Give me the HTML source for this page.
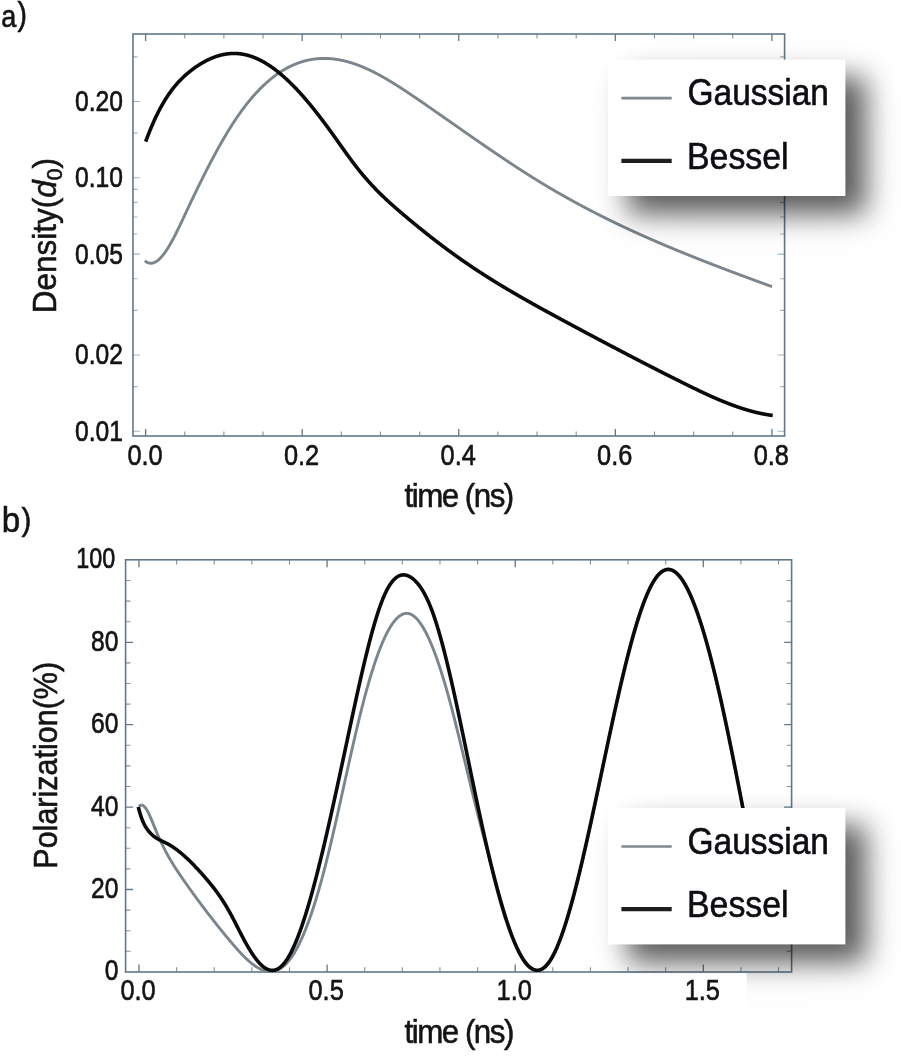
<!DOCTYPE html>
<html><head><meta charset="utf-8"><title>Density and Polarization</title>
<style>html,body{margin:0;padding:0;background:#fff;}body{width:901px;height:1056px;overflow:hidden;}svg{display:block;}</style>
</head><body>
<svg width="901" height="1056" viewBox="0 0 901 1056" font-family="'Liberation Sans', Arial, sans-serif">
<defs><filter id="sh" x="-60%" y="-80%" width="220%" height="260%"><feGaussianBlur stdDeviation="14"/></filter><filter id="sh2" x="-60%" y="-80%" width="220%" height="260%"><feGaussianBlur stdDeviation="28"/></filter><clipPath id="ca"><rect x="133.0" y="34.0" width="651.6" height="402.0"/></clipPath><clipPath id="cb"><rect x="125.6" y="559.8" width="666.0" height="414.0"/></clipPath></defs>
<rect width="901" height="1056" fill="#fff"/>
<path d="M145.60,436.00v-7.00M145.60,34.00v7.00M302.18,436.00v-7.00M302.18,34.00v7.00M458.76,436.00v-7.00M458.76,34.00v7.00M615.34,436.00v-7.00M615.34,34.00v7.00M771.92,436.00v-7.00M771.92,34.00v7.00M139.00,972.00v-7.50M139.00,559.80v7.50M327.10,972.00v-7.50M327.10,559.80v7.50M515.20,972.00v-7.50M515.20,559.80v7.50M703.30,972.00v-7.50M703.30,559.80v7.50M125.60,889.50h7.50M791.60,889.50h-7.50M125.60,807.10h7.50M791.60,807.10h-7.50M125.60,724.70h7.50M791.60,724.70h-7.50M125.60,642.30h7.50M791.60,642.30h-7.50" stroke="#62788a" stroke-width="1.3" fill="none"/>
<path d="M133.00,431.30h7.00M784.60,431.30h-7.00M133.00,354.99h7.00M784.60,354.99h-7.00M133.00,254.11h7.00M784.60,254.11h-7.00M133.00,177.80h7.00M784.60,177.80h-7.00M133.00,101.49h7.00M784.60,101.49h-7.00M133.00,386.66h4.50M784.60,386.66h-4.50M133.00,310.35h4.50M784.60,310.35h-4.50M133.00,278.68h4.50M784.60,278.68h-4.50M133.00,234.04h4.50M784.60,234.04h-4.50M133.00,217.07h4.50M784.60,217.07h-4.50M133.00,202.37h4.50M784.60,202.37h-4.50M133.00,189.40h4.50M784.60,189.40h-4.50M133.00,133.16h4.50M784.60,133.16h-4.50M133.00,56.85h4.50M784.60,56.85h-4.50" stroke="#9db4c6" stroke-width="1.1" fill="none"/>
<path d="M184.75,436.00v-4.50M184.75,34.00v4.50M223.89,436.00v-4.50M223.89,34.00v4.50M263.04,436.00v-4.50M263.04,34.00v4.50M341.32,436.00v-4.50M341.32,34.00v4.50M380.47,436.00v-4.50M380.47,34.00v4.50M419.62,436.00v-4.50M419.62,34.00v4.50M497.90,436.00v-4.50M497.90,34.00v4.50M537.05,436.00v-4.50M537.05,34.00v4.50M576.20,436.00v-4.50M576.20,34.00v4.50M654.49,436.00v-4.50M654.49,34.00v4.50M693.63,436.00v-4.50M693.63,34.00v4.50M732.77,436.00v-4.50M732.77,34.00v4.50M176.62,972.00v-4.80M176.62,559.80v4.80M214.24,972.00v-4.80M214.24,559.80v4.80M251.86,972.00v-4.80M251.86,559.80v4.80M289.48,972.00v-4.80M289.48,559.80v4.80M364.72,972.00v-4.80M364.72,559.80v4.80M402.34,972.00v-4.80M402.34,559.80v4.80M439.96,972.00v-4.80M439.96,559.80v4.80M477.58,972.00v-4.80M477.58,559.80v4.80M552.82,972.00v-4.80M552.82,559.80v4.80M590.44,972.00v-4.80M590.44,559.80v4.80M628.06,972.00v-4.80M628.06,559.80v4.80M665.68,972.00v-4.80M665.68,559.80v4.80M740.92,972.00v-4.80M740.92,559.80v4.80M778.54,972.00v-4.80M778.54,559.80v4.80M125.60,951.30h4.80M791.60,951.30h-4.80M125.60,930.70h4.80M791.60,930.70h-4.80M125.60,910.10h4.80M791.60,910.10h-4.80M125.60,868.90h4.80M791.60,868.90h-4.80M125.60,848.30h4.80M791.60,848.30h-4.80M125.60,827.70h4.80M791.60,827.70h-4.80M125.60,786.50h4.80M791.60,786.50h-4.80M125.60,765.90h4.80M791.60,765.90h-4.80M125.60,745.30h4.80M791.60,745.30h-4.80M125.60,704.10h4.80M791.60,704.10h-4.80M125.60,683.50h4.80M791.60,683.50h-4.80M125.60,662.90h4.80M791.60,662.90h-4.80M125.60,621.70h4.80M791.60,621.70h-4.80M125.60,601.10h4.80M791.60,601.10h-4.80M125.60,580.50h4.80M791.60,580.50h-4.80" stroke="#62788a" stroke-width="1.1" fill="none" opacity="0.8"/>
<rect x="133.00" y="34.00" width="651.60" height="402.00" fill="none" stroke="#62788a" stroke-width="1.6"/>
<rect x="125.60" y="559.80" width="666.00" height="412.20" fill="none" stroke="#62788a" stroke-width="1.6"/>
<g clip-path="url(#ca)" fill="none" stroke-linejoin="round">
<path d="M144.80,260.81L145.05,261.01L145.30,261.20L145.55,261.39L145.80,261.56L146.05,261.72L146.30,261.88L146.55,262.03L146.80,262.16L147.05,262.29L147.30,262.42L147.55,262.53L147.80,262.63L148.05,262.73L148.30,262.81L148.55,262.89L148.80,262.96L149.05,263.02L149.30,263.07L149.55,263.12L149.80,263.16L150.05,263.19L150.30,263.21L150.55,263.22L150.80,263.22L151.05,263.22L151.30,263.21L151.55,263.19L151.80,263.17L152.05,263.13L152.30,263.09L152.55,263.04L152.80,262.99L153.05,262.92L153.30,262.85L153.55,262.78L153.80,262.69L154.05,262.60L154.30,262.50L154.55,262.39L154.80,262.28L155.05,262.16L155.30,262.03L155.55,261.90L155.80,261.76L156.05,261.61L156.30,261.46L156.55,261.30L156.80,261.13L157.05,260.96L157.30,260.78L157.55,260.59L157.80,260.40L158.05,260.20L158.30,259.99L158.55,259.78L158.80,259.57L159.05,259.34L159.30,259.11L159.55,258.88L159.80,258.64L160.05,258.39L160.30,258.14L160.55,257.88L160.80,257.62L161.05,257.35L161.30,257.08L161.55,256.80L161.80,256.51L162.05,256.22L162.30,255.92L162.55,255.62L162.80,255.32L163.05,255.01L163.30,254.69L163.55,254.37L163.80,254.04L164.05,253.71L164.30,253.38L164.55,253.03L164.80,252.69L165.05,252.34L165.30,251.99L165.55,251.63L165.80,251.26L166.05,250.90L166.30,250.52L166.55,250.15L166.80,249.77L167.05,249.38L167.30,248.99L167.55,248.60L167.80,248.20L168.05,247.80L168.30,247.40L168.55,246.99L168.80,246.58L169.05,246.16L169.30,245.74L169.55,245.32L169.80,244.89L170.05,244.46L170.30,244.03L170.55,243.59L170.80,243.15L171.05,242.71L171.30,242.26L171.55,241.81L171.80,241.36L172.05,240.90L172.30,240.44L172.55,239.98L172.80,239.52L173.05,239.05L173.30,238.58L173.55,238.11L173.80,237.63L174.05,237.15L174.30,236.67L174.55,236.19L174.80,235.70L175.05,235.22L175.30,234.73L175.55,234.23L175.80,233.74L176.05,233.24L176.30,232.74L176.55,232.24L176.80,231.74L177.05,231.24L177.30,230.73L177.55,230.22L177.80,229.71L178.05,229.20L178.30,228.69L178.55,228.17L178.80,227.66L179.05,227.14L179.30,226.62L179.55,226.10L179.80,225.58L180.05,225.06L180.30,224.53L180.55,224.01L180.80,223.48L181.05,222.96L181.30,222.43L181.55,221.90L181.80,221.37L182.05,220.84L182.30,220.31L182.55,219.78L182.80,219.25L183.05,218.72L183.30,218.18L183.55,217.65L183.80,217.12L184.05,216.58L184.30,216.05L184.55,215.52L184.80,214.98L185.05,214.45L185.30,213.91L185.55,213.38L185.80,212.85L186.05,212.31L186.30,211.78L186.55,211.25L186.80,210.71L187.05,210.18L187.30,209.65L187.55,209.12L187.80,208.59L188.05,208.05L188.30,207.52L188.55,206.99L188.80,206.46L189.05,205.93L189.30,205.41L189.55,204.88L189.80,204.35L190.05,203.82L190.30,203.29L190.55,202.77L190.80,202.24L191.05,201.71L191.30,201.19L191.55,200.66L191.80,200.14L192.05,199.62L192.30,199.09L192.55,198.57L192.80,198.05L193.05,197.52L193.30,197.00L193.55,196.48L193.80,195.96L194.05,195.44L194.30,194.92L194.55,194.40L194.80,193.88L195.05,193.36L195.30,192.85L195.55,192.33L195.80,191.81L196.05,191.30L196.30,190.78L196.55,190.27L196.80,189.75L197.05,189.24L197.30,188.72L197.55,188.21L197.80,187.70L198.05,187.19L198.30,186.68L198.55,186.17L198.80,185.66L199.05,185.15L199.30,184.64L199.55,184.13L199.80,183.62L200.05,183.11L200.30,182.61L200.55,182.10L200.80,181.60L201.05,181.09L201.30,180.59L201.55,180.09L201.80,179.58L202.05,179.08L202.30,178.58L202.55,178.08L202.80,177.58L203.05,177.08L203.30,176.58L203.55,176.08L203.80,175.59L204.05,175.09L204.30,174.59L204.55,174.10L204.80,173.60L205.05,173.11L205.30,172.62L205.55,172.12L205.80,171.63L206.05,171.14L206.30,170.65L206.55,170.16L206.80,169.67L207.05,169.18L207.30,168.70L207.55,168.21L207.80,167.72L208.05,167.24L208.30,166.75L208.55,166.27L208.80,165.79L209.05,165.31L209.30,164.82L209.55,164.34L209.80,163.86L210.05,163.39L210.30,162.91L210.55,162.43L210.80,161.95L211.05,161.48L211.30,161.00L211.55,160.53L211.80,160.05L212.05,159.58L212.30,159.11L212.55,158.64L212.80,158.17L213.05,157.70L213.30,157.23L213.55,156.76L213.80,156.30L214.05,155.83L214.30,155.37L214.55,154.90L214.80,154.44L215.05,153.98L215.30,153.52L215.55,153.06L215.80,152.60L216.05,152.14L216.30,151.68L216.55,151.22L216.80,150.77L217.05,150.31L217.30,149.86L217.55,149.40L217.80,148.95L218.05,148.50L218.30,148.05L218.55,147.60L218.80,147.15L219.05,146.70L219.30,146.26L219.55,145.81L219.80,145.37L220.05,144.92L220.30,144.48L220.55,144.04L220.80,143.60L221.05,143.16L221.30,142.72L221.55,142.28L221.80,141.84L222.05,141.41L222.30,140.97L222.55,140.54L222.80,140.11L223.05,139.67L223.30,139.24L223.55,138.81L223.80,138.39L224.05,137.96L224.30,137.53L224.55,137.11L224.80,136.68L225.05,136.26L225.30,135.83L225.55,135.41L225.80,134.99L226.05,134.57L226.30,134.16L226.55,133.74L226.80,133.32L227.05,132.91L227.30,132.49L227.55,132.08L227.80,131.67L228.05,131.26L228.30,130.85L228.55,130.44L228.80,130.03L229.05,129.63L229.30,129.22L229.55,128.82L229.80,128.42L230.05,128.02L230.30,127.62L230.55,127.22L230.80,126.82L231.05,126.42L231.30,126.03L231.55,125.63L231.80,125.24L232.05,124.85L232.30,124.46L232.55,124.07L232.80,123.68L233.05,123.29L233.30,122.91L233.55,122.52L233.80,122.14L234.05,121.75L234.30,121.37L234.55,120.99L234.80,120.61L235.05,120.24L235.30,119.86L235.55,119.49L235.80,119.11L236.05,118.74L236.30,118.37L236.55,118.00L236.80,117.63L237.05,117.26L237.30,116.90L237.55,116.53L237.80,116.17L238.05,115.81L238.30,115.44L238.55,115.09L238.80,114.73L239.05,114.37L239.30,114.01L239.55,113.66L239.80,113.31L240.05,112.95L240.30,112.60L240.55,112.25L240.80,111.91L241.05,111.56L241.30,111.21L241.55,110.87L241.80,110.53L242.05,110.19L242.30,109.85L242.55,109.51L242.80,109.17L243.05,108.83L243.30,108.50L243.55,108.16L243.80,107.83L244.05,107.50L244.30,107.17L244.55,106.84L244.80,106.51L245.05,106.19L245.30,105.86L245.55,105.54L245.80,105.21L246.05,104.89L246.30,104.57L246.55,104.25L246.80,103.94L247.05,103.62L247.30,103.30L247.55,102.99L247.80,102.68L248.05,102.37L248.30,102.06L248.55,101.75L248.80,101.44L249.05,101.13L249.30,100.83L249.55,100.52L249.80,100.22L250.05,99.92L250.30,99.62L250.55,99.32L250.80,99.02L251.05,98.73L251.30,98.43L251.55,98.14L251.80,97.84L252.05,97.55L252.30,97.26L252.55,96.97L252.80,96.68L253.05,96.40L253.30,96.11L253.55,95.83L253.80,95.54L254.05,95.26L254.30,94.98L254.55,94.70L254.80,94.42L255.05,94.14L255.30,93.87L255.55,93.59L255.80,93.32L256.05,93.05L256.30,92.78L256.55,92.51L256.80,92.24L257.05,91.97L257.30,91.70L257.55,91.44L257.80,91.17L258.05,90.91L258.30,90.65L258.55,90.39L258.80,90.13L259.05,89.87L259.30,89.61L259.55,89.36L259.80,89.10L260.05,88.85L260.30,88.60L260.55,88.35L260.80,88.10L261.05,87.85L261.30,87.60L261.55,87.35L261.80,87.11L262.05,86.86L262.30,86.62L262.55,86.38L262.80,86.14L263.05,85.90L263.30,85.66L263.55,85.42L263.80,85.19L264.05,84.95L264.30,84.72L264.55,84.49L264.80,84.25L265.05,84.02L265.30,83.79L265.55,83.57L265.80,83.34L266.05,83.11L266.30,82.89L266.55,82.67L266.80,82.44L267.05,82.22L267.30,82.00L267.55,81.78L267.80,81.57L268.05,81.35L268.30,81.13L268.55,80.92L268.80,80.71L269.05,80.49L269.30,80.28L269.55,80.07L269.80,79.86L270.05,79.66L270.30,79.45L270.55,79.24L270.80,79.04L271.05,78.84L271.30,78.63L271.55,78.43L271.80,78.23L272.05,78.03L272.30,77.84L272.55,77.64L272.80,77.44L273.05,77.25L273.30,77.05L273.55,76.86L273.80,76.67L274.05,76.48L274.30,76.29L274.55,76.10L274.80,75.92L275.05,75.73L275.30,75.55L275.55,75.36L275.80,75.18L276.05,75.00L276.30,74.82L276.55,74.64L276.80,74.46L277.05,74.28L277.30,74.11L277.55,73.93L277.80,73.76L278.05,73.59L278.30,73.41L278.55,73.24L278.80,73.07L279.05,72.91L279.30,72.74L279.55,72.57L279.80,72.41L280.05,72.24L280.30,72.08L280.55,71.92L280.80,71.75L281.05,71.59L281.30,71.44L281.55,71.28L281.80,71.12L282.05,70.96L282.30,70.81L282.55,70.66L282.80,70.50L283.05,70.35L283.30,70.20L283.55,70.05L283.80,69.90L284.05,69.75L284.30,69.61L284.55,69.46L284.80,69.32L285.05,69.17L285.30,69.03L285.55,68.89L285.80,68.75L286.05,68.61L286.30,68.47L286.55,68.33L286.80,68.20L287.05,68.06L287.30,67.93L287.55,67.79L287.80,67.66L288.05,67.53L288.30,67.40L288.55,67.27L288.80,67.14L289.05,67.02L289.30,66.89L289.55,66.76L289.80,66.64L290.05,66.52L290.30,66.39L290.55,66.27L290.80,66.15L291.05,66.03L291.30,65.91L291.55,65.80L291.80,65.68L292.05,65.57L292.30,65.45L292.55,65.34L292.80,65.23L293.05,65.11L293.30,65.00L293.55,64.89L293.80,64.79L294.05,64.68L294.30,64.57L294.55,64.47L294.80,64.36L295.05,64.26L295.30,64.16L295.55,64.05L295.80,63.95L296.05,63.85L296.30,63.75L296.55,63.66L296.80,63.56L297.05,63.46L297.30,63.37L297.55,63.27L297.80,63.18L298.05,63.09L298.30,63.00L298.55,62.91L298.80,62.82L299.05,62.73L299.30,62.64L299.55,62.56L299.80,62.47L300.05,62.39L300.30,62.30L300.55,62.22L300.80,62.14L301.05,62.06L301.30,61.98L301.55,61.90L301.80,61.82L302.05,61.74L302.30,61.67L302.55,61.59L302.80,61.52L303.05,61.44L303.30,61.37L303.55,61.30L303.80,61.23L304.05,61.16L304.30,61.09L304.55,61.02L304.80,60.96L305.05,60.89L305.30,60.83L305.55,60.76L305.80,60.70L306.05,60.64L306.30,60.57L306.55,60.51L306.80,60.45L307.05,60.40L307.30,60.34L307.55,60.28L307.80,60.22L308.05,60.17L308.30,60.11L308.55,60.06L308.80,60.01L309.05,59.96L309.30,59.91L309.55,59.86L309.80,59.81L310.05,59.76L310.30,59.71L310.55,59.67L310.80,59.62L311.05,59.58L311.30,59.53L311.55,59.49L311.80,59.45L312.05,59.41L312.30,59.37L312.55,59.33L312.80,59.29L313.05,59.25L313.30,59.21L313.55,59.18L313.80,59.14L314.05,59.11L314.30,59.08L314.55,59.04L314.80,59.01L315.05,58.98L315.30,58.95L315.55,58.92L315.80,58.89L316.05,58.87L316.30,58.84L316.55,58.81L316.80,58.79L317.05,58.77L317.30,58.74L317.55,58.72L317.80,58.70L318.05,58.68L318.30,58.66L318.55,58.64L318.80,58.62L319.05,58.60L319.30,58.59L319.55,58.57L319.80,58.56L320.05,58.54L320.30,58.53L320.55,58.52L320.80,58.51L321.05,58.50L321.30,58.49L321.55,58.48L321.80,58.47L322.05,58.46L322.30,58.45L322.55,58.45L322.80,58.44L323.05,58.44L323.30,58.44L323.55,58.43L323.80,58.43L324.05,58.43L324.30,58.43L324.55,58.43L324.80,58.43L325.05,58.43L325.30,58.44L325.55,58.44L325.80,58.45L326.05,58.45L326.30,58.46L326.55,58.46L326.80,58.47L327.05,58.48L327.30,58.49L327.55,58.50L327.80,58.51L328.05,58.52L328.30,58.53L328.55,58.55L328.80,58.56L329.05,58.58L329.30,58.59L329.55,58.61L329.80,58.63L330.05,58.64L330.30,58.66L330.55,58.68L330.80,58.70L331.05,58.72L331.30,58.74L331.55,58.77L331.80,58.79L332.05,58.81L332.30,58.84L332.55,58.86L332.80,58.89L333.05,58.92L333.30,58.94L333.55,58.97L333.80,59.00L334.05,59.03L334.30,59.06L334.55,59.09L334.80,59.13L335.05,59.16L335.30,59.19L335.55,59.23L335.80,59.26L336.05,59.30L336.30,59.33L336.55,59.37L336.80,59.41L337.05,59.45L337.30,59.49L337.55,59.53L337.80,59.57L338.05,59.61L338.30,59.65L338.55,59.69L338.80,59.74L339.05,59.78L339.30,59.83L339.55,59.87L339.80,59.92L340.05,59.97L340.30,60.02L340.55,60.06L340.80,60.11L341.05,60.16L341.30,60.21L341.55,60.27L341.80,60.32L342.05,60.37L342.30,60.42L342.55,60.48L342.80,60.53L343.05,60.59L343.30,60.65L343.55,60.70L343.80,60.76L344.05,60.82L344.30,60.88L344.55,60.94L344.80,61.00L345.05,61.06L345.30,61.12L345.55,61.18L345.80,61.25L346.05,61.31L346.30,61.38L346.55,61.44L346.80,61.51L347.05,61.57L347.30,61.64L347.55,61.71L347.80,61.78L348.05,61.85L348.30,61.92L348.55,61.99L348.80,62.06L349.05,62.13L349.30,62.20L349.55,62.28L349.80,62.35L350.05,62.42L350.30,62.50L350.55,62.57L350.80,62.65L351.05,62.73L351.30,62.81L351.55,62.88L351.80,62.96L352.05,63.04L352.30,63.12L352.55,63.20L352.80,63.28L353.05,63.37L353.30,63.45L353.55,63.53L353.80,63.62L354.05,63.70L354.30,63.79L354.55,63.87L354.80,63.96L355.05,64.04L355.30,64.13L355.55,64.22L355.80,64.31L356.05,64.40L356.30,64.49L356.55,64.58L356.80,64.67L357.05,64.76L357.30,64.85L357.55,64.95L357.80,65.04L358.05,65.13L358.30,65.23L358.55,65.32L358.80,65.42L359.05,65.51L359.30,65.61L359.55,65.71L359.80,65.81L360.05,65.91L360.30,66.00L360.55,66.10L360.80,66.20L361.05,66.30L361.30,66.41L361.55,66.51L361.80,66.61L362.05,66.71L362.30,66.82L362.55,66.92L362.80,67.03L363.05,67.13L363.30,67.24L363.55,67.34L363.80,67.45L364.05,67.56L364.30,67.66L364.55,67.77L364.80,67.88L365.05,67.99L365.30,68.10L365.55,68.21L365.80,68.32L366.05,68.43L366.30,68.54L366.55,68.66L366.80,68.77L367.05,68.88L367.30,69.00L367.55,69.11L367.80,69.23L368.05,69.34L368.30,69.46L368.55,69.57L368.80,69.69L369.05,69.81L369.30,69.92L369.55,70.04L369.80,70.16L370.05,70.28L370.30,70.40L370.55,70.52L370.80,70.64L371.05,70.76L371.30,70.88L371.55,71.01L371.80,71.13L372.05,71.25L372.30,71.37L372.55,71.50L372.80,71.62L373.05,71.75L373.30,71.87L373.55,72.00L373.80,72.12L374.05,72.25L374.30,72.38L374.55,72.50L374.80,72.63L375.05,72.76L375.30,72.89L375.55,73.02L375.80,73.15L376.05,73.28L376.30,73.41L376.55,73.54L376.80,73.67L377.05,73.80L377.30,73.93L377.55,74.07L377.80,74.20L378.05,74.33L378.30,74.47L378.55,74.60L378.80,74.73L379.05,74.87L379.30,75.01L379.55,75.14L379.80,75.28L380.05,75.41L380.30,75.55L380.55,75.69L380.80,75.82L381.05,75.96L381.30,76.10L381.55,76.24L381.80,76.38L382.05,76.52L382.30,76.66L382.55,76.80L382.80,76.94L383.05,77.08L383.30,77.22L383.55,77.36L383.80,77.51L384.05,77.65L384.30,77.79L384.55,77.93L384.80,78.08L385.05,78.22L385.30,78.37L385.55,78.51L385.80,78.66L386.05,78.80L386.30,78.95L386.55,79.09L386.80,79.24L387.05,79.38L387.30,79.53L387.55,79.68L387.80,79.83L388.05,79.97L388.30,80.12L388.55,80.27L388.80,80.42L389.05,80.57L389.30,80.72L389.55,80.87L389.80,81.02L390.05,81.17L390.30,81.32L390.55,81.47L390.80,81.62L391.05,81.77L391.30,81.92L391.55,82.08L391.80,82.23L392.05,82.38L392.30,82.54L392.55,82.69L392.80,82.84L393.05,83.00L393.30,83.15L393.55,83.30L393.80,83.46L394.05,83.61L394.30,83.77L394.55,83.93L394.80,84.08L395.05,84.24L395.30,84.39L395.55,84.55L395.80,84.71L396.05,84.86L396.30,85.02L396.55,85.18L396.80,85.34L397.05,85.49L397.30,85.65L397.55,85.81L397.80,85.97L398.05,86.13L398.30,86.29L398.55,86.45L398.80,86.61L399.05,86.77L399.30,86.93L399.55,87.09L399.80,87.25L400.05,87.41L400.30,87.57L400.55,87.73L400.80,87.89L401.05,88.06L401.30,88.22L401.55,88.38L401.80,88.54L402.05,88.71L402.30,88.87L402.55,89.03L402.80,89.19L403.05,89.36L403.30,89.52L403.55,89.69L403.80,89.85L404.05,90.01L404.30,90.18L404.55,90.34L404.80,90.51L405.05,90.67L405.30,90.84L405.55,91.00L405.80,91.17L406.05,91.33L406.30,91.50L406.55,91.67L406.80,91.83L407.05,92.00L407.30,92.16L407.55,92.33L407.80,92.50L408.05,92.66L408.30,92.83L408.55,93.00L408.80,93.17L409.05,93.33L409.30,93.50L409.55,93.67L409.80,93.84L410.05,94.00L410.30,94.17L410.55,94.34L410.80,94.51L411.05,94.68L411.30,94.85L411.55,95.02L411.80,95.18L412.05,95.35L412.30,95.52L412.55,95.69L412.80,95.86L413.05,96.03L413.30,96.20L413.55,96.37L413.80,96.54L414.05,96.71L414.30,96.88L414.55,97.05L414.80,97.22L415.05,97.39L415.30,97.56L415.55,97.73L415.80,97.90L416.05,98.07L416.30,98.24L416.55,98.41L416.80,98.59L417.05,98.76L417.30,98.93L417.55,99.10L417.80,99.27L418.05,99.44L418.30,99.61L418.55,99.78L418.80,99.96L419.05,100.13L419.30,100.30L419.55,100.47L419.80,100.64L420.05,100.81L420.30,100.99L420.55,101.16L420.80,101.33L421.05,101.50L421.30,101.67L421.55,101.85L421.80,102.02L422.05,102.19L422.30,102.36L422.55,102.53L422.80,102.71L423.05,102.88L423.30,103.05L423.55,103.22L423.80,103.40L424.05,103.57L424.30,103.74L424.55,103.91L424.80,104.09L425.05,104.26L425.30,104.43L425.55,104.60L425.80,104.78L426.05,104.95L426.30,105.12L426.55,105.30L426.80,105.47L427.05,105.64L427.30,105.82L427.55,105.99L427.80,106.16L428.05,106.33L428.30,106.51L428.55,106.68L428.80,106.85L429.05,107.03L429.30,107.20L429.55,107.37L429.80,107.55L430.05,107.72L430.30,107.89L430.55,108.07L430.80,108.24L431.05,108.41L431.30,108.59L431.55,108.76L431.80,108.94L432.05,109.11L432.30,109.28L432.55,109.46L432.80,109.63L433.05,109.80L433.30,109.98L433.55,110.15L433.80,110.33L434.05,110.50L434.30,110.67L434.55,110.85L434.80,111.02L435.05,111.20L435.30,111.37L435.55,111.54L435.80,111.72L436.05,111.89L436.30,112.07L436.55,112.24L436.80,112.41L437.05,112.59L437.30,112.76L437.55,112.94L437.80,113.11L438.05,113.28L438.30,113.46L438.55,113.63L438.80,113.81L439.05,113.98L439.30,114.16L439.55,114.33L439.80,114.51L440.05,114.68L440.30,114.85L440.55,115.03L440.80,115.20L441.05,115.38L441.30,115.55L441.55,115.73L441.80,115.90L442.05,116.08L442.30,116.25L442.55,116.42L442.80,116.60L443.05,116.77L443.30,116.95L443.55,117.12L443.80,117.30L444.05,117.47L444.30,117.65L444.55,117.82L444.80,118.00L445.05,118.17L445.30,118.35L445.55,118.52L445.80,118.70L446.05,118.87L446.30,119.05L446.55,119.22L446.80,119.39L447.05,119.57L447.30,119.74L447.55,119.92L447.80,120.09L448.05,120.27L448.30,120.44L448.55,120.62L448.80,120.79L449.05,120.97L449.30,121.14L449.55,121.32L449.80,121.49L450.05,121.67L450.30,121.84L450.55,122.02L450.80,122.19L451.05,122.37L451.30,122.54L451.55,122.72L451.80,122.89L452.05,123.07L452.30,123.24L452.55,123.42L452.80,123.59L453.05,123.77L453.30,123.94L453.55,124.12L453.80,124.29L454.05,124.47L454.30,124.64L454.55,124.82L454.80,124.99L455.05,125.17L455.30,125.34L455.55,125.52L455.80,125.69L456.05,125.87L456.30,126.04L456.55,126.21L456.80,126.39L457.05,126.56L457.30,126.74L457.55,126.91L457.80,127.09L458.05,127.26L458.30,127.44L458.55,127.61L458.80,127.79L459.05,127.96L459.30,128.14L459.55,128.31L459.80,128.49L460.05,128.66L460.30,128.84L460.55,129.01L460.80,129.19L461.05,129.36L461.30,129.54L461.55,129.71L461.80,129.88L462.05,130.06L462.30,130.23L462.55,130.41L462.80,130.58L463.05,130.76L463.30,130.93L463.55,131.11L463.80,131.28L464.05,131.46L464.30,131.63L464.55,131.81L464.80,131.98L465.05,132.15L465.30,132.33L465.55,132.50L465.80,132.68L466.05,132.85L466.30,133.03L466.55,133.20L466.80,133.37L467.05,133.55L467.30,133.72L467.55,133.90L467.80,134.07L468.05,134.25L468.30,134.42L468.55,134.59L468.80,134.77L469.05,134.94L469.30,135.12L469.55,135.29L469.80,135.46L470.05,135.64L470.30,135.81L470.55,135.99L470.80,136.16L471.05,136.33L471.30,136.51L471.55,136.68L471.80,136.86L472.05,137.03L472.30,137.20L472.55,137.38L472.80,137.55L473.05,137.73L473.30,137.90L473.55,138.07L473.80,138.25L474.05,138.42L474.30,138.59L474.55,138.77L474.80,138.94L475.05,139.11L475.30,139.29L475.55,139.46L475.80,139.63L476.05,139.81L476.30,139.98L476.55,140.15L476.80,140.33L477.05,140.50L477.30,140.67L477.55,140.85L477.80,141.02L478.05,141.19L478.30,141.37L478.55,141.54L478.80,141.71L479.05,141.88L479.30,142.06L479.55,142.23L479.80,142.40L480.05,142.58L480.30,142.75L480.55,142.92L480.80,143.09L481.05,143.27L481.30,143.44L481.55,143.61L481.80,143.78L482.05,143.96L482.30,144.13L482.55,144.30L482.80,144.47L483.05,144.65L483.30,144.82L483.55,144.99L483.80,145.16L484.05,145.33L484.30,145.51L484.55,145.68L484.80,145.85L485.05,146.02L485.30,146.19L485.55,146.36L485.80,146.54L486.05,146.71L486.30,146.88L486.55,147.05L486.80,147.22L487.05,147.39L487.30,147.57L487.55,147.74L487.80,147.91L488.05,148.08L488.30,148.25L488.55,148.42L488.80,148.59L489.05,148.76L489.30,148.94L489.55,149.11L489.80,149.28L490.05,149.45L490.30,149.62L490.55,149.79L490.80,149.96L491.05,150.13L491.30,150.30L491.55,150.47L491.80,150.64L492.05,150.81L492.30,150.98L492.55,151.15L492.80,151.32L493.05,151.49L493.30,151.66L493.55,151.83L493.80,152.00L494.05,152.17L494.30,152.34L494.55,152.51L494.80,152.68L495.05,152.85L495.30,153.02L495.55,153.19L495.80,153.36L496.05,153.53L496.30,153.70L496.55,153.87L496.80,154.04L497.05,154.21L497.30,154.38L497.55,154.55L497.80,154.72L498.05,154.89L498.30,155.05L498.55,155.22L498.80,155.39L499.05,155.56L499.30,155.73L499.55,155.90L499.80,156.07L500.05,156.23L500.30,156.40L500.55,156.57L500.80,156.74L501.05,156.91L501.30,157.08L501.55,157.24L501.80,157.41L502.05,157.58L502.30,157.75L502.55,157.92L502.80,158.08L503.05,158.25L503.30,158.42L503.55,158.59L503.80,158.75L504.05,158.92L504.30,159.09L504.55,159.25L504.80,159.42L505.05,159.59L505.30,159.76L505.55,159.92L505.80,160.09L506.05,160.26L506.30,160.42L506.55,160.59L506.80,160.75L507.05,160.92L507.30,161.09L507.55,161.25L507.80,161.42L508.05,161.59L508.30,161.75L508.55,161.92L508.80,162.08L509.05,162.25L509.30,162.41L509.55,162.58L509.80,162.75L510.05,162.91L510.30,163.08L510.55,163.24L510.80,163.41L511.05,163.57L511.30,163.74L511.55,163.90L511.80,164.07L512.05,164.23L512.30,164.40L512.55,164.56L512.80,164.72L513.05,164.89L513.30,165.05L513.55,165.22L513.80,165.38L514.05,165.55L514.30,165.71L514.55,165.87L514.80,166.04L515.05,166.20L515.30,166.36L515.55,166.53L515.80,166.69L516.05,166.85L516.30,167.02L516.55,167.18L516.80,167.34L517.05,167.51L517.30,167.67L517.55,167.83L517.80,167.99L518.05,168.16L518.30,168.32L518.55,168.48L518.80,168.64L519.05,168.81L519.30,168.97L519.55,169.13L519.80,169.29L520.05,169.45L520.30,169.62L520.55,169.78L520.80,169.94L521.05,170.10L521.30,170.26L521.55,170.42L521.80,170.58L522.05,170.75L522.30,170.91L522.55,171.07L522.80,171.23L523.05,171.39L523.30,171.55L523.55,171.71L523.80,171.87L524.05,172.03L524.30,172.19L524.55,172.35L524.80,172.51L525.05,172.67L525.30,172.83L525.55,172.99L525.80,173.15L526.05,173.31L526.30,173.47L526.55,173.63L526.80,173.78L527.05,173.94L527.30,174.10L527.55,174.26L527.80,174.42L528.05,174.58L528.30,174.74L528.55,174.89L528.80,175.05L529.05,175.21L529.30,175.37L529.55,175.53L529.80,175.68L530.05,175.84L530.30,176.00L530.55,176.16L530.80,176.31L531.05,176.47L531.30,176.63L531.55,176.78L531.80,176.94L532.05,177.10L532.30,177.25L532.55,177.41L532.80,177.57L533.05,177.72L533.30,177.88L533.55,178.04L533.80,178.19L534.05,178.35L534.30,178.50L534.55,178.66L534.80,178.81L535.05,178.97L535.30,179.12L535.55,179.28L535.80,179.43L536.05,179.59L536.30,179.74L536.55,179.90L536.80,180.05L537.05,180.21L537.30,180.36L537.55,180.52L537.80,180.67L538.05,180.82L538.30,180.98L538.55,181.13L538.80,181.28L539.05,181.44L539.30,181.59L539.55,181.74L539.80,181.90L540.05,182.05L540.30,182.20L540.55,182.35L540.80,182.51L541.05,182.66L541.30,182.81L541.55,182.96L541.80,183.11L542.05,183.27L542.30,183.42L542.55,183.57L542.80,183.72L543.05,183.87L543.30,184.02L543.55,184.17L543.80,184.33L544.05,184.48L544.30,184.63L544.55,184.78L544.80,184.93L545.05,185.08L545.30,185.23L545.55,185.38L545.80,185.53L546.05,185.68L546.30,185.83L546.55,185.98L546.80,186.13L547.05,186.28L547.30,186.43L547.55,186.57L547.80,186.72L548.05,186.87L548.30,187.02L548.55,187.17L548.80,187.32L549.05,187.47L549.30,187.62L549.55,187.76L549.80,187.91L550.05,188.06L550.30,188.21L550.55,188.35L550.80,188.50L551.05,188.65L551.30,188.80L551.55,188.94L551.80,189.09L552.05,189.24L552.30,189.38L552.55,189.53L552.80,189.68L553.05,189.82L553.30,189.97L553.55,190.12L553.80,190.26L554.05,190.41L554.30,190.55L554.55,190.70L554.80,190.85L555.05,190.99L555.30,191.14L555.55,191.28L555.80,191.43L556.05,191.57L556.30,191.72L556.55,191.86L556.80,192.01L557.05,192.15L557.30,192.29L557.55,192.44L557.80,192.58L558.05,192.73L558.30,192.87L558.55,193.02L558.80,193.16L559.05,193.30L559.30,193.45L559.55,193.59L559.80,193.73L560.05,193.88L560.30,194.02L560.55,194.16L560.80,194.30L561.05,194.45L561.30,194.59L561.55,194.73L561.80,194.87L562.05,195.02L562.30,195.16L562.55,195.30L562.80,195.44L563.05,195.58L563.30,195.73L563.55,195.87L563.80,196.01L564.05,196.15L564.30,196.29L564.55,196.43L564.80,196.57L565.05,196.71L565.30,196.85L565.55,196.99L565.80,197.14L566.05,197.28L566.30,197.42L566.55,197.56L566.80,197.70L567.05,197.84L567.30,197.98L567.55,198.12L567.80,198.26L568.05,198.39L568.30,198.53L568.55,198.67L568.80,198.81L569.05,198.95L569.30,199.09L569.55,199.23L569.80,199.37L570.05,199.51L570.30,199.64L570.55,199.78L570.80,199.92L571.05,200.06L571.30,200.20L571.55,200.34L571.80,200.47L572.05,200.61L572.30,200.75L572.55,200.89L572.80,201.02L573.05,201.16L573.30,201.30L573.55,201.43L573.80,201.57L574.05,201.71L574.30,201.85L574.55,201.98L574.80,202.12L575.05,202.25L575.30,202.39L575.55,202.53L575.80,202.66L576.05,202.80L576.30,202.94L576.55,203.07L576.80,203.21L577.05,203.34L577.30,203.48L577.55,203.61L577.80,203.75L578.05,203.88L578.30,204.02L578.55,204.15L578.80,204.29L579.05,204.42L579.30,204.56L579.55,204.69L579.80,204.83L580.05,204.96L580.30,205.09L580.55,205.23L580.80,205.36L581.05,205.50L581.30,205.63L581.55,205.76L581.80,205.90L582.05,206.03L582.30,206.16L582.55,206.30L582.80,206.43L583.05,206.56L583.30,206.70L583.55,206.83L583.80,206.96L584.05,207.09L584.30,207.23L584.55,207.36L584.80,207.49L585.05,207.62L585.30,207.75L585.55,207.89L585.80,208.02L586.05,208.15L586.30,208.28L586.55,208.41L586.80,208.54L587.05,208.68L587.30,208.81L587.55,208.94L587.80,209.07L588.05,209.20L588.30,209.33L588.55,209.46L588.80,209.59L589.05,209.72L589.30,209.85L589.55,209.98L589.80,210.11L590.05,210.24L590.30,210.37L590.55,210.50L590.80,210.63L591.05,210.76L591.30,210.89L591.55,211.02L591.80,211.15L592.05,211.28L592.30,211.41L592.55,211.54L592.80,211.67L593.05,211.80L593.30,211.93L593.55,212.06L593.80,212.18L594.05,212.31L594.30,212.44L594.55,212.57L594.80,212.70L595.05,212.83L595.30,212.95L595.55,213.08L595.80,213.21L596.05,213.34L596.30,213.47L596.55,213.59L596.80,213.72L597.05,213.85L597.30,213.97L597.55,214.10L597.80,214.23L598.05,214.36L598.30,214.48L598.55,214.61L598.80,214.74L599.05,214.86L599.30,214.99L599.55,215.12L599.80,215.24L600.05,215.37L600.30,215.49L600.55,215.62L600.80,215.75L601.05,215.87L601.30,216.00L601.55,216.12L601.80,216.25L602.05,216.37L602.30,216.50L602.55,216.63L602.80,216.75L603.05,216.88L603.30,217.00L603.55,217.13L603.80,217.25L604.05,217.37L604.30,217.50L604.55,217.62L604.80,217.75L605.05,217.87L605.30,218.00L605.55,218.12L605.80,218.24L606.05,218.37L606.30,218.49L606.55,218.62L606.80,218.74L607.05,218.86L607.30,218.99L607.55,219.11L607.80,219.23L608.05,219.36L608.30,219.48L608.55,219.60L608.80,219.73L609.05,219.85L609.30,219.97L609.55,220.09L609.80,220.22L610.05,220.34L610.30,220.46L610.55,220.58L610.80,220.71L611.05,220.83L611.30,220.95L611.55,221.07L611.80,221.19L612.05,221.32L612.30,221.44L612.55,221.56L612.80,221.68L613.05,221.80L613.30,221.92L613.55,222.05L613.80,222.17L614.05,222.29L614.30,222.41L614.55,222.53L614.80,222.65L615.05,222.77L615.30,222.89L615.55,223.01L615.80,223.13L616.05,223.25L616.30,223.37L616.55,223.49L616.80,223.61L617.05,223.73L617.30,223.85L617.55,223.97L617.80,224.09L618.05,224.21L618.30,224.33L618.55,224.45L618.80,224.57L619.05,224.69L619.30,224.81L619.55,224.93L619.80,225.05L620.05,225.17L620.30,225.29L620.55,225.40L620.80,225.52L621.05,225.64L621.30,225.76L621.55,225.88L621.80,226.00L622.05,226.12L622.30,226.23L622.55,226.35L622.80,226.47L623.05,226.59L623.30,226.71L623.55,226.82L623.80,226.94L624.05,227.06L624.30,227.18L624.55,227.29L624.80,227.41L625.05,227.53L625.30,227.65L625.55,227.76L625.80,227.88L626.05,228.00L626.30,228.11L626.55,228.23L626.80,228.35L627.05,228.47L627.30,228.58L627.55,228.70L627.80,228.81L628.05,228.93L628.30,229.05L628.55,229.16L628.80,229.28L629.05,229.40L629.30,229.51L629.55,229.63L629.80,229.74L630.05,229.86L630.30,229.97L630.55,230.09L630.80,230.21L631.05,230.32L631.30,230.44L631.55,230.55L631.80,230.67L632.05,230.78L632.30,230.90L632.55,231.01L632.80,231.13L633.05,231.24L633.30,231.36L633.55,231.47L633.80,231.59L634.05,231.70L634.30,231.81L634.55,231.93L634.80,232.04L635.05,232.16L635.30,232.27L635.55,232.38L635.80,232.50L636.05,232.61L636.30,232.73L636.55,232.84L636.80,232.95L637.05,233.07L637.30,233.18L637.55,233.29L637.80,233.41L638.05,233.52L638.30,233.63L638.55,233.75L638.80,233.86L639.05,233.97L639.30,234.09L639.55,234.20L639.80,234.31L640.05,234.42L640.30,234.54L640.55,234.65L640.80,234.76L641.05,234.87L641.30,234.99L641.55,235.10L641.80,235.21L642.05,235.32L642.30,235.43L642.55,235.55L642.80,235.66L643.05,235.77L643.30,235.88L643.55,235.99L643.80,236.10L644.05,236.22L644.30,236.33L644.55,236.44L644.80,236.55L645.05,236.66L645.30,236.77L645.55,236.88L645.80,236.99L646.05,237.10L646.30,237.21L646.55,237.33L646.80,237.44L647.05,237.55L647.30,237.66L647.55,237.77L647.80,237.88L648.05,237.99L648.30,238.10L648.55,238.21L648.80,238.32L649.05,238.43L649.30,238.54L649.55,238.65L649.80,238.76L650.05,238.87L650.30,238.98L650.55,239.09L650.80,239.20L651.05,239.31L651.30,239.42L651.55,239.53L651.80,239.63L652.05,239.74L652.30,239.85L652.55,239.96L652.80,240.07L653.05,240.18L653.30,240.29L653.55,240.40L653.80,240.51L654.05,240.61L654.30,240.72L654.55,240.83L654.80,240.94L655.05,241.05L655.30,241.16L655.55,241.27L655.80,241.37L656.05,241.48L656.30,241.59L656.55,241.70L656.80,241.81L657.05,241.91L657.30,242.02L657.55,242.13L657.80,242.24L658.05,242.34L658.30,242.45L658.55,242.56L658.80,242.67L659.05,242.77L659.30,242.88L659.55,242.99L659.80,243.10L660.05,243.20L660.30,243.31L660.55,243.42L660.80,243.52L661.05,243.63L661.30,243.74L661.55,243.84L661.80,243.95L662.05,244.06L662.30,244.16L662.55,244.27L662.80,244.38L663.05,244.48L663.30,244.59L663.55,244.69L663.80,244.80L664.05,244.91L664.30,245.01L664.55,245.12L664.80,245.22L665.05,245.33L665.30,245.44L665.55,245.54L665.80,245.65L666.05,245.75L666.30,245.86L666.55,245.96L666.80,246.07L667.05,246.17L667.30,246.28L667.55,246.39L667.80,246.49L668.05,246.60L668.30,246.70L668.55,246.81L668.80,246.91L669.05,247.02L669.30,247.12L669.55,247.22L669.80,247.33L670.05,247.43L670.30,247.54L670.55,247.64L670.80,247.75L671.05,247.85L671.30,247.96L671.55,248.06L671.80,248.16L672.05,248.27L672.30,248.37L672.55,248.48L672.80,248.58L673.05,248.68L673.30,248.79L673.55,248.89L673.80,249.00L674.05,249.10L674.30,249.20L674.55,249.31L674.80,249.41L675.05,249.51L675.30,249.62L675.55,249.72L675.80,249.82L676.05,249.93L676.30,250.03L676.55,250.13L676.80,250.24L677.05,250.34L677.30,250.44L677.55,250.55L677.80,250.65L678.05,250.75L678.30,250.85L678.55,250.96L678.80,251.06L679.05,251.16L679.30,251.26L679.55,251.37L679.80,251.47L680.05,251.57L680.30,251.67L680.55,251.78L680.80,251.88L681.05,251.98L681.30,252.08L681.55,252.18L681.80,252.29L682.05,252.39L682.30,252.49L682.55,252.59L682.80,252.69L683.05,252.80L683.30,252.90L683.55,253.00L683.80,253.10L684.05,253.20L684.30,253.30L684.55,253.40L684.80,253.51L685.05,253.61L685.30,253.71L685.55,253.81L685.80,253.91L686.05,254.01L686.30,254.11L686.55,254.21L686.80,254.32L687.05,254.42L687.30,254.52L687.55,254.62L687.80,254.72L688.05,254.82L688.30,254.92L688.55,255.02L688.80,255.12L689.05,255.22L689.30,255.32L689.55,255.42L689.80,255.52L690.05,255.62L690.30,255.72L690.55,255.82L690.80,255.92L691.05,256.02L691.30,256.12L691.55,256.22L691.80,256.32L692.05,256.42L692.30,256.52L692.55,256.62L692.80,256.72L693.05,256.82L693.30,256.92L693.55,257.02L693.80,257.12L694.05,257.22L694.30,257.32L694.55,257.42L694.80,257.52L695.05,257.62L695.30,257.72L695.55,257.82L695.80,257.92L696.05,258.02L696.30,258.12L696.55,258.21L696.80,258.31L697.05,258.41L697.30,258.51L697.55,258.61L697.80,258.71L698.05,258.81L698.30,258.91L698.55,259.01L698.80,259.10L699.05,259.20L699.30,259.30L699.55,259.40L699.80,259.50L700.05,259.60L700.30,259.70L700.55,259.79L700.80,259.89L701.05,259.99L701.30,260.09L701.55,260.19L701.80,260.28L702.05,260.38L702.30,260.48L702.55,260.58L702.80,260.68L703.05,260.78L703.30,260.87L703.55,260.97L703.80,261.07L704.05,261.17L704.30,261.26L704.55,261.36L704.80,261.46L705.05,261.56L705.30,261.65L705.55,261.75L705.80,261.85L706.05,261.95L706.30,262.04L706.55,262.14L706.80,262.24L707.05,262.34L707.30,262.43L707.55,262.53L707.80,262.63L708.05,262.73L708.30,262.82L708.55,262.92L708.80,263.02L709.05,263.11L709.30,263.21L709.55,263.31L709.80,263.40L710.05,263.50L710.30,263.60L710.55,263.69L710.80,263.79L711.05,263.89L711.30,263.98L711.55,264.08L711.80,264.18L712.05,264.27L712.30,264.37L712.55,264.47L712.80,264.56L713.05,264.66L713.30,264.76L713.55,264.85L713.80,264.95L714.05,265.05L714.30,265.14L714.55,265.24L714.80,265.33L715.05,265.43L715.30,265.53L715.55,265.62L715.80,265.72L716.05,265.81L716.30,265.91L716.55,266.01L716.80,266.10L717.05,266.20L717.30,266.29L717.55,266.39L717.80,266.48L718.05,266.58L718.30,266.68L718.55,266.77L718.80,266.87L719.05,266.96L719.30,267.06L719.55,267.15L719.80,267.25L720.05,267.34L720.30,267.44L720.55,267.54L720.80,267.63L721.05,267.73L721.30,267.82L721.55,267.92L721.80,268.01L722.05,268.11L722.30,268.20L722.55,268.30L722.80,268.39L723.05,268.49L723.30,268.58L723.55,268.68L723.80,268.77L724.05,268.87L724.30,268.96L724.55,269.06L724.80,269.15L725.05,269.25L725.30,269.34L725.55,269.44L725.80,269.53L726.05,269.62L726.30,269.72L726.55,269.81L726.80,269.91L727.05,270.00L727.30,270.10L727.55,270.19L727.80,270.29L728.05,270.38L728.30,270.48L728.55,270.57L728.80,270.66L729.05,270.76L729.30,270.85L729.55,270.95L729.80,271.04L730.05,271.14L730.30,271.23L730.55,271.32L730.80,271.42L731.05,271.51L731.30,271.61L731.55,271.70L731.80,271.79L732.05,271.89L732.30,271.98L732.55,272.08L732.80,272.17L733.05,272.26L733.30,272.36L733.55,272.45L733.80,272.55L734.05,272.64L734.30,272.73L734.55,272.83L734.80,272.92L735.05,273.01L735.30,273.11L735.55,273.20L735.80,273.29L736.05,273.39L736.30,273.48L736.55,273.58L736.80,273.67L737.05,273.76L737.30,273.86L737.55,273.95L737.80,274.04L738.05,274.14L738.30,274.23L738.55,274.32L738.80,274.42L739.05,274.51L739.30,274.60L739.55,274.70L739.80,274.79L740.05,274.88L740.30,274.97L740.55,275.07L740.80,275.16L741.05,275.25L741.30,275.35L741.55,275.44L741.80,275.53L742.05,275.63L742.30,275.72L742.55,275.81L742.80,275.91L743.05,276.00L743.30,276.09L743.55,276.18L743.80,276.28L744.05,276.37L744.30,276.46L744.55,276.56L744.80,276.65L745.05,276.74L745.30,276.83L745.55,276.93L745.80,277.02L746.05,277.11L746.30,277.20L746.55,277.30L746.80,277.39L747.05,277.48L747.30,277.57L747.55,277.67L747.80,277.76L748.05,277.85L748.30,277.94L748.55,278.04L748.80,278.13L749.05,278.22L749.30,278.31L749.55,278.41L749.80,278.50L750.05,278.59L750.30,278.68L750.55,278.78L750.80,278.87L751.05,278.96L751.30,279.05L751.55,279.15L751.80,279.24L752.05,279.33L752.30,279.42L752.55,279.51L752.80,279.61L753.05,279.70L753.30,279.79L753.55,279.88L753.80,279.98L754.05,280.07L754.30,280.16L754.55,280.25L754.80,280.34L755.05,280.44L755.30,280.53L755.55,280.62L755.80,280.71L756.05,280.80L756.30,280.90L756.55,280.99L756.80,281.08L757.05,281.17L757.30,281.26L757.55,281.36L757.80,281.45L758.05,281.54L758.30,281.63L758.55,281.72L758.80,281.82L759.05,281.91L759.30,282.00L759.55,282.09L759.80,282.18L760.05,282.27L760.30,282.37L760.55,282.46L760.80,282.55L761.05,282.64L761.30,282.73L761.55,282.82L761.80,282.92L762.05,283.01L762.30,283.10L762.55,283.19L762.80,283.28L763.05,283.37L763.30,283.47L763.55,283.56L763.80,283.65L764.05,283.74L764.30,283.83L764.55,283.92L764.80,284.02L765.05,284.11L765.30,284.20L765.55,284.29L765.80,284.38L766.05,284.47L766.30,284.57L766.55,284.66L766.80,284.75L767.05,284.84L767.30,284.93L767.55,285.02L767.80,285.11L768.05,285.21L768.30,285.30L768.55,285.39L768.80,285.48L769.05,285.57L769.30,285.66L769.55,285.75L769.80,285.85L770.05,285.94L770.30,286.03L770.55,286.12L770.80,286.21L771.05,286.30L771.30,286.39L771.55,286.49L771.80,286.58L772.05,286.67" stroke="#7b858c" stroke-width="2.9"/>
<path d="M145.70,141.54L145.95,140.85L146.20,140.17L146.45,139.50L146.70,138.83L146.95,138.16L147.20,137.50L147.45,136.84L147.70,136.18L147.95,135.53L148.20,134.88L148.45,134.24L148.70,133.60L148.95,132.97L149.20,132.34L149.45,131.72L149.70,131.09L149.95,130.48L150.20,129.86L150.45,129.25L150.70,128.65L150.95,128.05L151.20,127.45L151.45,126.85L151.70,126.26L151.95,125.68L152.20,125.10L152.45,124.52L152.70,123.94L152.95,123.37L153.20,122.81L153.45,122.24L153.70,121.68L153.95,121.13L154.20,120.58L154.45,120.03L154.70,119.48L154.95,118.94L155.20,118.41L155.45,117.87L155.70,117.34L155.95,116.82L156.20,116.30L156.45,115.78L156.70,115.26L156.95,114.75L157.20,114.24L157.45,113.74L157.70,113.24L157.95,112.74L158.20,112.24L158.45,111.75L158.70,111.27L158.95,110.78L159.20,110.30L159.45,109.82L159.70,109.35L159.95,108.88L160.20,108.41L160.45,107.95L160.70,107.49L160.95,107.03L161.20,106.58L161.45,106.13L161.70,105.68L161.95,105.23L162.20,104.79L162.45,104.35L162.70,103.92L162.95,103.49L163.20,103.06L163.45,102.63L163.70,102.21L163.95,101.79L164.20,101.37L164.45,100.96L164.70,100.55L164.95,100.14L165.20,99.74L165.45,99.34L165.70,98.94L165.95,98.54L166.20,98.15L166.45,97.76L166.70,97.37L166.95,96.99L167.20,96.60L167.45,96.23L167.70,95.85L167.95,95.48L168.20,95.11L168.45,94.74L168.70,94.37L168.95,94.01L169.20,93.65L169.45,93.29L169.70,92.94L169.95,92.59L170.20,92.24L170.45,91.89L170.70,91.55L170.95,91.21L171.20,90.87L171.45,90.53L171.70,90.20L171.95,89.87L172.20,89.54L172.45,89.21L172.70,88.89L172.95,88.57L173.20,88.25L173.45,87.93L173.70,87.61L173.95,87.30L174.20,86.99L174.45,86.69L174.70,86.38L174.95,86.08L175.20,85.78L175.45,85.48L175.70,85.18L175.95,84.89L176.20,84.60L176.45,84.31L176.70,84.02L176.95,83.73L177.20,83.45L177.45,83.17L177.70,82.89L177.95,82.61L178.20,82.34L178.45,82.06L178.70,81.79L178.95,81.52L179.20,81.26L179.45,80.99L179.70,80.73L179.95,80.47L180.20,80.21L180.45,79.95L180.70,79.69L180.95,79.44L181.20,79.19L181.45,78.94L181.70,78.69L181.95,78.44L182.20,78.20L182.45,77.95L182.70,77.71L182.95,77.47L183.20,77.24L183.45,77.00L183.70,76.76L183.95,76.53L184.20,76.30L184.45,76.07L184.70,75.84L184.95,75.61L185.20,75.39L185.45,75.17L185.70,74.94L185.95,74.72L186.20,74.50L186.45,74.29L186.70,74.07L186.95,73.85L187.20,73.64L187.45,73.43L187.70,73.22L187.95,73.01L188.20,72.80L188.45,72.59L188.70,72.39L188.95,72.18L189.20,71.98L189.45,71.78L189.70,71.58L189.95,71.38L190.20,71.18L190.45,70.99L190.70,70.79L190.95,70.60L191.20,70.40L191.45,70.21L191.70,70.02L191.95,69.83L192.20,69.64L192.45,69.45L192.70,69.26L192.95,69.08L193.20,68.89L193.45,68.71L193.70,68.53L193.95,68.34L194.20,68.16L194.45,67.98L194.70,67.80L194.95,67.63L195.20,67.45L195.45,67.27L195.70,67.10L195.95,66.93L196.20,66.75L196.45,66.58L196.70,66.41L196.95,66.24L197.20,66.08L197.45,65.91L197.70,65.74L197.95,65.58L198.20,65.41L198.45,65.25L198.70,65.09L198.95,64.93L199.20,64.77L199.45,64.61L199.70,64.45L199.95,64.30L200.20,64.14L200.45,63.99L200.70,63.83L200.95,63.68L201.20,63.53L201.45,63.38L201.70,63.23L201.95,63.08L202.20,62.94L202.45,62.79L202.70,62.65L202.95,62.50L203.20,62.36L203.45,62.22L203.70,62.08L203.95,61.94L204.20,61.80L204.45,61.67L204.70,61.53L204.95,61.40L205.20,61.26L205.45,61.13L205.70,61.00L205.95,60.87L206.20,60.74L206.45,60.61L206.70,60.48L206.95,60.36L207.20,60.23L207.45,60.11L207.70,59.99L207.95,59.87L208.20,59.75L208.45,59.63L208.70,59.51L208.95,59.39L209.20,59.28L209.45,59.16L209.70,59.05L209.95,58.93L210.20,58.82L210.45,58.71L210.70,58.60L210.95,58.50L211.20,58.39L211.45,58.28L211.70,58.18L211.95,58.07L212.20,57.97L212.45,57.87L212.70,57.77L212.95,57.67L213.20,57.57L213.45,57.48L213.70,57.38L213.95,57.29L214.20,57.19L214.45,57.10L214.70,57.01L214.95,56.92L215.20,56.83L215.45,56.74L215.70,56.65L215.95,56.57L216.20,56.48L216.45,56.40L216.70,56.32L216.95,56.24L217.20,56.16L217.45,56.08L217.70,56.00L217.95,55.93L218.20,55.85L218.45,55.78L218.70,55.70L218.95,55.63L219.20,55.56L219.45,55.49L219.70,55.42L219.95,55.36L220.20,55.29L220.45,55.22L220.70,55.16L220.95,55.10L221.20,55.04L221.45,54.98L221.70,54.92L221.95,54.86L222.20,54.80L222.45,54.75L222.70,54.69L222.95,54.64L223.20,54.59L223.45,54.54L223.70,54.49L223.95,54.44L224.20,54.39L224.45,54.34L224.70,54.30L224.95,54.26L225.20,54.21L225.45,54.17L225.70,54.13L225.95,54.09L226.20,54.05L226.45,54.02L226.70,53.98L226.95,53.95L227.20,53.91L227.45,53.88L227.70,53.85L227.95,53.82L228.20,53.79L228.45,53.76L228.70,53.74L228.95,53.71L229.20,53.69L229.45,53.67L229.70,53.64L229.95,53.62L230.20,53.61L230.45,53.59L230.70,53.57L230.95,53.56L231.20,53.54L231.45,53.53L231.70,53.52L231.95,53.51L232.20,53.50L232.45,53.49L232.70,53.48L232.95,53.47L233.20,53.47L233.45,53.47L233.70,53.46L233.95,53.46L234.20,53.46L234.45,53.46L234.70,53.47L234.95,53.47L235.20,53.48L235.45,53.48L235.70,53.49L235.95,53.50L236.20,53.51L236.45,53.52L236.70,53.53L236.95,53.55L237.20,53.56L237.45,53.58L237.70,53.59L237.95,53.61L238.20,53.63L238.45,53.65L238.70,53.67L238.95,53.70L239.20,53.72L239.45,53.75L239.70,53.78L239.95,53.80L240.20,53.83L240.45,53.86L240.70,53.90L240.95,53.93L241.20,53.96L241.45,54.00L241.70,54.04L241.95,54.07L242.20,54.11L242.45,54.15L242.70,54.20L242.95,54.24L243.20,54.28L243.45,54.33L243.70,54.38L243.95,54.42L244.20,54.47L244.45,54.52L244.70,54.58L244.95,54.63L245.20,54.68L245.45,54.74L245.70,54.80L245.95,54.86L246.20,54.91L246.45,54.98L246.70,55.04L246.95,55.10L247.20,55.16L247.45,55.23L247.70,55.30L247.95,55.37L248.20,55.43L248.45,55.51L248.70,55.58L248.95,55.65L249.20,55.72L249.45,55.80L249.70,55.88L249.95,55.95L250.20,56.03L250.45,56.11L250.70,56.20L250.95,56.28L251.20,56.36L251.45,56.45L251.70,56.53L251.95,56.62L252.20,56.71L252.45,56.80L252.70,56.89L252.95,56.98L253.20,57.08L253.45,57.17L253.70,57.27L253.95,57.36L254.20,57.46L254.45,57.56L254.70,57.66L254.95,57.76L255.20,57.87L255.45,57.97L255.70,58.08L255.95,58.18L256.20,58.29L256.45,58.40L256.70,58.51L256.95,58.62L257.20,58.73L257.45,58.85L257.70,58.96L257.95,59.08L258.20,59.19L258.45,59.31L258.70,59.43L258.95,59.55L259.20,59.67L259.45,59.79L259.70,59.92L259.95,60.04L260.20,60.17L260.45,60.30L260.70,60.42L260.95,60.55L261.20,60.68L261.45,60.81L261.70,60.95L261.95,61.08L262.20,61.21L262.45,61.35L262.70,61.49L262.95,61.63L263.20,61.76L263.45,61.90L263.70,62.05L263.95,62.19L264.20,62.33L264.45,62.48L264.70,62.62L264.95,62.77L265.20,62.92L265.45,63.07L265.70,63.22L265.95,63.37L266.20,63.52L266.45,63.67L266.70,63.83L266.95,63.98L267.20,64.14L267.45,64.29L267.70,64.45L267.95,64.61L268.20,64.77L268.45,64.93L268.70,65.10L268.95,65.26L269.20,65.42L269.45,65.59L269.70,65.76L269.95,65.92L270.20,66.09L270.45,66.26L270.70,66.43L270.95,66.61L271.20,66.78L271.45,66.95L271.70,67.13L271.95,67.30L272.20,67.48L272.45,67.66L272.70,67.84L272.95,68.02L273.20,68.20L273.45,68.38L273.70,68.56L273.95,68.75L274.20,68.93L274.45,69.12L274.70,69.30L274.95,69.49L275.20,69.68L275.45,69.87L275.70,70.06L275.95,70.25L276.20,70.45L276.45,70.64L276.70,70.83L276.95,71.03L277.20,71.23L277.45,71.42L277.70,71.62L277.95,71.82L278.20,72.02L278.45,72.22L278.70,72.43L278.95,72.63L279.20,72.83L279.45,73.04L279.70,73.25L279.95,73.45L280.20,73.66L280.45,73.87L280.70,74.08L280.95,74.29L281.20,74.50L281.45,74.71L281.70,74.93L281.95,75.14L282.20,75.36L282.45,75.57L282.70,75.79L282.95,76.01L283.20,76.23L283.45,76.45L283.70,76.67L283.95,76.89L284.20,77.11L284.45,77.34L284.70,77.56L284.95,77.79L285.20,78.01L285.45,78.24L285.70,78.47L285.95,78.70L286.20,78.93L286.45,79.16L286.70,79.39L286.95,79.62L287.20,79.85L287.45,80.09L287.70,80.32L287.95,80.56L288.20,80.80L288.45,81.03L288.70,81.27L288.95,81.51L289.20,81.75L289.45,81.99L289.70,82.23L289.95,82.48L290.20,82.72L290.45,82.97L290.70,83.21L290.95,83.46L291.20,83.70L291.45,83.95L291.70,84.20L291.95,84.45L292.20,84.70L292.45,84.95L292.70,85.20L292.95,85.45L293.20,85.71L293.45,85.96L293.70,86.22L293.95,86.47L294.20,86.73L294.45,86.99L294.70,87.25L294.95,87.50L295.20,87.76L295.45,88.02L295.70,88.29L295.95,88.55L296.20,88.81L296.45,89.08L296.70,89.34L296.95,89.61L297.20,89.87L297.45,90.14L297.70,90.41L297.95,90.67L298.20,90.94L298.45,91.21L298.70,91.48L298.95,91.76L299.20,92.03L299.45,92.30L299.70,92.57L299.95,92.85L300.20,93.12L300.45,93.40L300.70,93.68L300.95,93.95L301.20,94.23L301.45,94.51L301.70,94.79L301.95,95.07L302.20,95.35L302.45,95.64L302.70,95.92L302.95,96.20L303.20,96.49L303.45,96.77L303.70,97.06L303.95,97.34L304.20,97.63L304.45,97.92L304.70,98.21L304.95,98.49L305.20,98.78L305.45,99.07L305.70,99.37L305.95,99.66L306.20,99.95L306.45,100.24L306.70,100.54L306.95,100.83L307.20,101.13L307.45,101.42L307.70,101.72L307.95,102.02L308.20,102.31L308.45,102.61L308.70,102.91L308.95,103.21L309.20,103.51L309.45,103.81L309.70,104.11L309.95,104.42L310.20,104.72L310.45,105.02L310.70,105.33L310.95,105.63L311.20,105.94L311.45,106.25L311.70,106.55L311.95,106.86L312.20,107.17L312.45,107.48L312.70,107.79L312.95,108.10L313.20,108.41L313.45,108.72L313.70,109.03L313.95,109.34L314.20,109.65L314.45,109.97L314.70,110.28L314.95,110.60L315.20,110.91L315.45,111.23L315.70,111.54L315.95,111.86L316.20,112.18L316.45,112.50L316.70,112.82L316.95,113.13L317.20,113.45L317.45,113.77L317.70,114.10L317.95,114.42L318.20,114.74L318.45,115.06L318.70,115.38L318.95,115.71L319.20,116.03L319.45,116.36L319.70,116.68L319.95,117.01L320.20,117.33L320.45,117.66L320.70,117.99L320.95,118.32L321.20,118.64L321.45,118.97L321.70,119.30L321.95,119.63L322.20,119.96L322.45,120.29L322.70,120.63L322.95,120.96L323.20,121.29L323.45,121.62L323.70,121.96L323.95,122.29L324.20,122.62L324.45,122.96L324.70,123.29L324.95,123.63L325.20,123.97L325.45,124.30L325.70,124.64L325.95,124.98L326.20,125.32L326.45,125.65L326.70,125.99L326.95,126.33L327.20,126.67L327.45,127.01L327.70,127.35L327.95,127.69L328.20,128.04L328.45,128.38L328.70,128.72L328.95,129.06L329.20,129.41L329.45,129.75L329.70,130.09L329.95,130.44L330.20,130.78L330.45,131.13L330.70,131.47L330.95,131.82L331.20,132.17L331.45,132.51L331.70,132.86L331.95,133.21L332.20,133.56L332.45,133.90L332.70,134.25L332.95,134.60L333.20,134.95L333.45,135.30L333.70,135.65L333.95,136.00L334.20,136.35L334.45,136.70L334.70,137.05L334.95,137.40L335.20,137.75L335.45,138.10L335.70,138.46L335.95,138.81L336.20,139.16L336.45,139.51L336.70,139.86L336.95,140.21L337.20,140.57L337.45,140.92L337.70,141.27L337.95,141.62L338.20,141.98L338.45,142.33L338.70,142.68L338.95,143.03L339.20,143.38L339.45,143.74L339.70,144.09L339.95,144.44L340.20,144.79L340.45,145.15L340.70,145.50L340.95,145.85L341.20,146.20L341.45,146.55L341.70,146.90L341.95,147.26L342.20,147.61L342.45,147.96L342.70,148.31L342.95,148.66L343.20,149.01L343.45,149.36L343.70,149.71L343.95,150.06L344.20,150.41L344.45,150.76L344.70,151.11L344.95,151.46L345.20,151.81L345.45,152.15L345.70,152.50L345.95,152.85L346.20,153.20L346.45,153.54L346.70,153.89L346.95,154.24L347.20,154.58L347.45,154.93L347.70,155.27L347.95,155.62L348.20,155.96L348.45,156.30L348.70,156.65L348.95,156.99L349.20,157.33L349.45,157.67L349.70,158.01L349.95,158.35L350.20,158.69L350.45,159.03L350.70,159.37L350.95,159.71L351.20,160.05L351.45,160.38L351.70,160.72L351.95,161.06L352.20,161.39L352.45,161.72L352.70,162.06L352.95,162.39L353.20,162.72L353.45,163.06L353.70,163.39L353.95,163.72L354.20,164.05L354.45,164.38L354.70,164.70L354.95,165.03L355.20,165.36L355.45,165.68L355.70,166.01L355.95,166.33L356.20,166.65L356.45,166.98L356.70,167.30L356.95,167.62L357.20,167.94L357.45,168.26L357.70,168.57L357.95,168.89L358.20,169.21L358.45,169.52L358.70,169.84L358.95,170.15L359.20,170.46L359.45,170.77L359.70,171.08L359.95,171.39L360.20,171.70L360.45,172.01L360.70,172.31L360.95,172.62L361.20,172.92L361.45,173.23L361.70,173.53L361.95,173.83L362.20,174.13L362.45,174.43L362.70,174.73L362.95,175.03L363.20,175.33L363.45,175.62L363.70,175.92L363.95,176.21L364.20,176.51L364.45,176.80L364.70,177.09L364.95,177.38L365.20,177.67L365.45,177.96L365.70,178.25L365.95,178.54L366.20,178.82L366.45,179.11L366.70,179.39L366.95,179.68L367.20,179.96L367.45,180.24L367.70,180.52L367.95,180.80L368.20,181.08L368.45,181.36L368.70,181.64L368.95,181.92L369.20,182.20L369.45,182.47L369.70,182.75L369.95,183.02L370.20,183.30L370.45,183.57L370.70,183.84L370.95,184.11L371.20,184.38L371.45,184.65L371.70,184.92L371.95,185.19L372.20,185.46L372.45,185.72L372.70,185.99L372.95,186.25L373.20,186.52L373.45,186.78L373.70,187.05L373.95,187.31L374.20,187.57L374.45,187.83L374.70,188.09L374.95,188.35L375.20,188.61L375.45,188.87L375.70,189.13L375.95,189.38L376.20,189.64L376.45,189.90L376.70,190.15L376.95,190.41L377.20,190.66L377.45,190.91L377.70,191.16L377.95,191.42L378.20,191.67L378.45,191.92L378.70,192.17L378.95,192.42L379.20,192.67L379.45,192.91L379.70,193.16L379.95,193.41L380.20,193.66L380.45,193.90L380.70,194.15L380.95,194.39L381.20,194.63L381.45,194.88L381.70,195.12L381.95,195.36L382.20,195.61L382.45,195.85L382.70,196.09L382.95,196.33L383.20,196.57L383.45,196.81L383.70,197.04L383.95,197.28L384.20,197.52L384.45,197.76L384.70,197.99L384.95,198.23L385.20,198.47L385.45,198.70L385.70,198.94L385.95,199.17L386.20,199.40L386.45,199.64L386.70,199.87L386.95,200.10L387.20,200.33L387.45,200.56L387.70,200.79L387.95,201.02L388.20,201.25L388.45,201.48L388.70,201.71L388.95,201.94L389.20,202.17L389.45,202.40L389.70,202.63L389.95,202.85L390.20,203.08L390.45,203.31L390.70,203.53L390.95,203.76L391.20,203.98L391.45,204.21L391.70,204.43L391.95,204.65L392.20,204.88L392.45,205.10L392.70,205.32L392.95,205.55L393.20,205.77L393.45,205.99L393.70,206.21L393.95,206.43L394.20,206.65L394.45,206.87L394.70,207.09L394.95,207.31L395.20,207.53L395.45,207.75L395.70,207.97L395.95,208.19L396.20,208.41L396.45,208.63L396.70,208.84L396.95,209.06L397.20,209.28L397.45,209.50L397.70,209.71L397.95,209.93L398.20,210.14L398.45,210.36L398.70,210.58L398.95,210.79L399.20,211.01L399.45,211.22L399.70,211.44L399.95,211.65L400.20,211.86L400.45,212.08L400.70,212.29L400.95,212.51L401.20,212.72L401.45,212.93L401.70,213.15L401.95,213.36L402.20,213.57L402.45,213.78L402.70,214.00L402.95,214.21L403.20,214.42L403.45,214.63L403.70,214.84L403.95,215.06L404.20,215.27L404.45,215.48L404.70,215.69L404.95,215.90L405.20,216.11L405.45,216.32L405.70,216.53L405.95,216.74L406.20,216.95L406.45,217.16L406.70,217.37L406.95,217.58L407.20,217.79L407.45,218.00L407.70,218.21L407.95,218.42L408.20,218.63L408.45,218.84L408.70,219.05L408.95,219.26L409.20,219.47L409.45,219.67L409.70,219.88L409.95,220.09L410.20,220.30L410.45,220.51L410.70,220.71L410.95,220.92L411.20,221.13L411.45,221.34L411.70,221.54L411.95,221.75L412.20,221.96L412.45,222.17L412.70,222.37L412.95,222.58L413.20,222.79L413.45,222.99L413.70,223.20L413.95,223.40L414.20,223.61L414.45,223.82L414.70,224.02L414.95,224.23L415.20,224.43L415.45,224.64L415.70,224.84L415.95,225.05L416.20,225.25L416.45,225.46L416.70,225.66L416.95,225.86L417.20,226.07L417.45,226.27L417.70,226.48L417.95,226.68L418.20,226.88L418.45,227.09L418.70,227.29L418.95,227.49L419.20,227.70L419.45,227.90L419.70,228.10L419.95,228.30L420.20,228.51L420.45,228.71L420.70,228.91L420.95,229.11L421.20,229.31L421.45,229.52L421.70,229.72L421.95,229.92L422.20,230.12L422.45,230.32L422.70,230.52L422.95,230.72L423.20,230.92L423.45,231.12L423.70,231.32L423.95,231.52L424.20,231.72L424.45,231.92L424.70,232.12L424.95,232.32L425.20,232.52L425.45,232.72L425.70,232.92L425.95,233.12L426.20,233.32L426.45,233.52L426.70,233.71L426.95,233.91L427.20,234.11L427.45,234.31L427.70,234.51L427.95,234.70L428.20,234.90L428.45,235.10L428.70,235.30L428.95,235.49L429.20,235.69L429.45,235.89L429.70,236.08L429.95,236.28L430.20,236.48L430.45,236.67L430.70,236.87L430.95,237.06L431.20,237.26L431.45,237.45L431.70,237.65L431.95,237.85L432.20,238.04L432.45,238.23L432.70,238.43L432.95,238.62L433.20,238.82L433.45,239.01L433.70,239.21L433.95,239.40L434.20,239.59L434.45,239.79L434.70,239.98L434.95,240.17L435.20,240.37L435.45,240.56L435.70,240.75L435.95,240.95L436.20,241.14L436.45,241.33L436.70,241.52L436.95,241.71L437.20,241.91L437.45,242.10L437.70,242.29L437.95,242.48L438.20,242.67L438.45,242.86L438.70,243.05L438.95,243.24L439.20,243.43L439.45,243.62L439.70,243.81L439.95,244.00L440.20,244.19L440.45,244.38L440.70,244.57L440.95,244.76L441.20,244.95L441.45,245.14L441.70,245.33L441.95,245.52L442.20,245.71L442.45,245.89L442.70,246.08L442.95,246.27L443.20,246.46L443.45,246.65L443.70,246.83L443.95,247.02L444.20,247.21L444.45,247.40L444.70,247.58L444.95,247.77L445.20,247.96L445.45,248.14L445.70,248.33L445.95,248.51L446.20,248.70L446.45,248.88L446.70,249.07L446.95,249.26L447.20,249.44L447.45,249.63L447.70,249.81L447.95,249.99L448.20,250.18L448.45,250.36L448.70,250.55L448.95,250.73L449.20,250.91L449.45,251.10L449.70,251.28L449.95,251.46L450.20,251.65L450.45,251.83L450.70,252.01L450.95,252.20L451.20,252.38L451.45,252.56L451.70,252.74L451.95,252.92L452.20,253.11L452.45,253.29L452.70,253.47L452.95,253.65L453.20,253.83L453.45,254.01L453.70,254.19L453.95,254.37L454.20,254.55L454.45,254.73L454.70,254.91L454.95,255.09L455.20,255.27L455.45,255.45L455.70,255.63L455.95,255.81L456.20,255.99L456.45,256.17L456.70,256.34L456.95,256.52L457.20,256.70L457.45,256.88L457.70,257.06L457.95,257.23L458.20,257.41L458.45,257.59L458.70,257.76L458.95,257.94L459.20,258.12L459.45,258.29L459.70,258.47L459.95,258.65L460.20,258.82L460.45,259.00L460.70,259.17L460.95,259.35L461.20,259.52L461.45,259.70L461.70,259.87L461.95,260.05L462.20,260.22L462.45,260.40L462.70,260.57L462.95,260.75L463.20,260.92L463.45,261.09L463.70,261.27L463.95,261.44L464.20,261.61L464.45,261.78L464.70,261.96L464.95,262.13L465.20,262.30L465.45,262.47L465.70,262.65L465.95,262.82L466.20,262.99L466.45,263.16L466.70,263.33L466.95,263.50L467.20,263.67L467.45,263.85L467.70,264.02L467.95,264.19L468.20,264.36L468.45,264.53L468.70,264.70L468.95,264.87L469.20,265.04L469.45,265.20L469.70,265.37L469.95,265.54L470.20,265.71L470.45,265.88L470.70,266.05L470.95,266.22L471.20,266.39L471.45,266.55L471.70,266.72L471.95,266.89L472.20,267.06L472.45,267.22L472.70,267.39L472.95,267.56L473.20,267.73L473.45,267.89L473.70,268.06L473.95,268.23L474.20,268.39L474.45,268.56L474.70,268.72L474.95,268.89L475.20,269.06L475.45,269.22L475.70,269.39L475.95,269.55L476.20,269.72L476.45,269.88L476.70,270.05L476.95,270.21L477.20,270.37L477.45,270.54L477.70,270.70L477.95,270.87L478.20,271.03L478.45,271.19L478.70,271.36L478.95,271.52L479.20,271.68L479.45,271.85L479.70,272.01L479.95,272.17L480.20,272.34L480.45,272.50L480.70,272.66L480.95,272.82L481.20,272.98L481.45,273.15L481.70,273.31L481.95,273.47L482.20,273.63L482.45,273.79L482.70,273.95L482.95,274.11L483.20,274.27L483.45,274.43L483.70,274.60L483.95,274.76L484.20,274.92L484.45,275.08L484.70,275.24L484.95,275.40L485.20,275.55L485.45,275.71L485.70,275.87L485.95,276.03L486.20,276.19L486.45,276.35L486.70,276.51L486.95,276.67L487.20,276.83L487.45,276.98L487.70,277.14L487.95,277.30L488.20,277.46L488.45,277.62L488.70,277.77L488.95,277.93L489.20,278.09L489.45,278.25L489.70,278.40L489.95,278.56L490.20,278.72L490.45,278.87L490.70,279.03L490.95,279.19L491.20,279.34L491.45,279.50L491.70,279.66L491.95,279.81L492.20,279.97L492.45,280.12L492.70,280.28L492.95,280.43L493.20,280.59L493.45,280.74L493.70,280.90L493.95,281.05L494.20,281.21L494.45,281.36L494.70,281.52L494.95,281.67L495.20,281.83L495.45,281.98L495.70,282.13L495.95,282.29L496.20,282.44L496.45,282.60L496.70,282.75L496.95,282.90L497.20,283.06L497.45,283.21L497.70,283.36L497.95,283.52L498.20,283.67L498.45,283.82L498.70,283.97L498.95,284.13L499.20,284.28L499.45,284.43L499.70,284.58L499.95,284.73L500.20,284.89L500.45,285.04L500.70,285.19L500.95,285.34L501.20,285.49L501.45,285.64L501.70,285.79L501.95,285.94L502.20,286.10L502.45,286.25L502.70,286.40L502.95,286.55L503.20,286.70L503.45,286.85L503.70,287.00L503.95,287.15L504.20,287.30L504.45,287.45L504.70,287.60L504.95,287.75L505.20,287.90L505.45,288.05L505.70,288.20L505.95,288.34L506.20,288.49L506.45,288.64L506.70,288.79L506.95,288.94L507.20,289.09L507.45,289.24L507.70,289.39L507.95,289.53L508.20,289.68L508.45,289.83L508.70,289.98L508.95,290.13L509.20,290.27L509.45,290.42L509.70,290.57L509.95,290.72L510.20,290.86L510.45,291.01L510.70,291.16L510.95,291.31L511.20,291.45L511.45,291.60L511.70,291.75L511.95,291.89L512.20,292.04L512.45,292.19L512.70,292.33L512.95,292.48L513.20,292.62L513.45,292.77L513.70,292.92L513.95,293.06L514.20,293.21L514.45,293.35L514.70,293.50L514.95,293.64L515.20,293.79L515.45,293.94L515.70,294.08L515.95,294.23L516.20,294.37L516.45,294.52L516.70,294.66L516.95,294.81L517.20,294.95L517.45,295.09L517.70,295.24L517.95,295.38L518.20,295.53L518.45,295.67L518.70,295.82L518.95,295.96L519.20,296.10L519.45,296.25L519.70,296.39L519.95,296.54L520.20,296.68L520.45,296.82L520.70,296.97L520.95,297.11L521.20,297.25L521.45,297.40L521.70,297.54L521.95,297.68L522.20,297.82L522.45,297.97L522.70,298.11L522.95,298.25L523.20,298.40L523.45,298.54L523.70,298.68L523.95,298.82L524.20,298.97L524.45,299.11L524.70,299.25L524.95,299.39L525.20,299.53L525.45,299.68L525.70,299.82L525.95,299.96L526.20,300.10L526.45,300.24L526.70,300.38L526.95,300.52L527.20,300.67L527.45,300.81L527.70,300.95L527.95,301.09L528.20,301.23L528.45,301.37L528.70,301.51L528.95,301.65L529.20,301.79L529.45,301.93L529.70,302.08L529.95,302.22L530.20,302.36L530.45,302.50L530.70,302.64L530.95,302.78L531.20,302.92L531.45,303.06L531.70,303.20L531.95,303.34L532.20,303.48L532.45,303.62L532.70,303.76L532.95,303.90L533.20,304.04L533.45,304.18L533.70,304.32L533.95,304.45L534.20,304.59L534.45,304.73L534.70,304.87L534.95,305.01L535.20,305.15L535.45,305.29L535.70,305.43L535.95,305.57L536.20,305.71L536.45,305.85L536.70,305.98L536.95,306.12L537.20,306.26L537.45,306.40L537.70,306.54L537.95,306.68L538.20,306.82L538.45,306.95L538.70,307.09L538.95,307.23L539.20,307.37L539.45,307.51L539.70,307.65L539.95,307.78L540.20,307.92L540.45,308.06L540.70,308.20L540.95,308.33L541.20,308.47L541.45,308.61L541.70,308.75L541.95,308.89L542.20,309.02L542.45,309.16L542.70,309.30L542.95,309.44L543.20,309.57L543.45,309.71L543.70,309.85L543.95,309.98L544.20,310.12L544.45,310.26L544.70,310.40L544.95,310.53L545.20,310.67L545.45,310.81L545.70,310.94L545.95,311.08L546.20,311.22L546.45,311.35L546.70,311.49L546.95,311.63L547.20,311.76L547.45,311.90L547.70,312.04L547.95,312.17L548.20,312.31L548.45,312.45L548.70,312.58L548.95,312.72L549.20,312.85L549.45,312.99L549.70,313.13L549.95,313.26L550.20,313.40L550.45,313.54L550.70,313.67L550.95,313.81L551.20,313.94L551.45,314.08L551.70,314.22L551.95,314.35L552.20,314.49L552.45,314.62L552.70,314.76L552.95,314.89L553.20,315.03L553.45,315.17L553.70,315.30L553.95,315.44L554.20,315.57L554.45,315.71L554.70,315.84L554.95,315.98L555.20,316.11L555.45,316.25L555.70,316.39L555.95,316.52L556.20,316.66L556.45,316.79L556.70,316.93L556.95,317.06L557.20,317.20L557.45,317.33L557.70,317.47L557.95,317.60L558.20,317.74L558.45,317.87L558.70,318.01L558.95,318.14L559.20,318.28L559.45,318.41L559.70,318.55L559.95,318.68L560.20,318.82L560.45,318.95L560.70,319.09L560.95,319.22L561.20,319.36L561.45,319.49L561.70,319.63L561.95,319.76L562.20,319.90L562.45,320.03L562.70,320.16L562.95,320.30L563.20,320.43L563.45,320.57L563.70,320.70L563.95,320.84L564.20,320.97L564.45,321.11L564.70,321.24L564.95,321.38L565.20,321.51L565.45,321.65L565.70,321.78L565.95,321.91L566.20,322.05L566.45,322.18L566.70,322.32L566.95,322.45L567.20,322.59L567.45,322.72L567.70,322.86L567.95,322.99L568.20,323.12L568.45,323.26L568.70,323.39L568.95,323.53L569.20,323.66L569.45,323.80L569.70,323.93L569.95,324.06L570.20,324.20L570.45,324.33L570.70,324.47L570.95,324.60L571.20,324.74L571.45,324.87L571.70,325.00L571.95,325.14L572.20,325.27L572.45,325.41L572.70,325.54L572.95,325.68L573.20,325.81L573.45,325.94L573.70,326.08L573.95,326.21L574.20,326.35L574.45,326.48L574.70,326.61L574.95,326.75L575.20,326.88L575.45,327.02L575.70,327.15L575.95,327.28L576.20,327.42L576.45,327.55L576.70,327.69L576.95,327.82L577.20,327.95L577.45,328.09L577.70,328.22L577.95,328.35L578.20,328.49L578.45,328.62L578.70,328.76L578.95,328.89L579.20,329.02L579.45,329.16L579.70,329.29L579.95,329.42L580.20,329.56L580.45,329.69L580.70,329.83L580.95,329.96L581.20,330.09L581.45,330.23L581.70,330.36L581.95,330.49L582.20,330.63L582.45,330.76L582.70,330.89L582.95,331.03L583.20,331.16L583.45,331.30L583.70,331.43L583.95,331.56L584.20,331.70L584.45,331.83L584.70,331.96L584.95,332.10L585.20,332.23L585.45,332.36L585.70,332.50L585.95,332.63L586.20,332.76L586.45,332.90L586.70,333.03L586.95,333.16L587.20,333.30L587.45,333.43L587.70,333.56L587.95,333.70L588.20,333.83L588.45,333.96L588.70,334.10L588.95,334.23L589.20,334.36L589.45,334.50L589.70,334.63L589.95,334.76L590.20,334.89L590.45,335.03L590.70,335.16L590.95,335.29L591.20,335.43L591.45,335.56L591.70,335.69L591.95,335.83L592.20,335.96L592.45,336.09L592.70,336.23L592.95,336.36L593.20,336.49L593.45,336.62L593.70,336.76L593.95,336.89L594.20,337.02L594.45,337.16L594.70,337.29L594.95,337.42L595.20,337.55L595.45,337.69L595.70,337.82L595.95,337.95L596.20,338.08L596.45,338.22L596.70,338.35L596.95,338.48L597.20,338.62L597.45,338.75L597.70,338.88L597.95,339.01L598.20,339.15L598.45,339.28L598.70,339.41L598.95,339.54L599.20,339.68L599.45,339.81L599.70,339.94L599.95,340.07L600.20,340.21L600.45,340.34L600.70,340.47L600.95,340.60L601.20,340.73L601.45,340.87L601.70,341.00L601.95,341.13L602.20,341.26L602.45,341.40L602.70,341.53L602.95,341.66L603.20,341.79L603.45,341.93L603.70,342.06L603.95,342.19L604.20,342.32L604.45,342.45L604.70,342.59L604.95,342.72L605.20,342.85L605.45,342.98L605.70,343.11L605.95,343.25L606.20,343.38L606.45,343.51L606.70,343.64L606.95,343.77L607.20,343.91L607.45,344.04L607.70,344.17L607.95,344.30L608.20,344.43L608.45,344.57L608.70,344.70L608.95,344.83L609.20,344.96L609.45,345.09L609.70,345.22L609.95,345.36L610.20,345.49L610.45,345.62L610.70,345.75L610.95,345.88L611.20,346.01L611.45,346.15L611.70,346.28L611.95,346.41L612.20,346.54L612.45,346.67L612.70,346.80L612.95,346.93L613.20,347.07L613.45,347.20L613.70,347.33L613.95,347.46L614.20,347.59L614.45,347.72L614.70,347.85L614.95,347.99L615.20,348.12L615.45,348.25L615.70,348.38L615.95,348.51L616.20,348.64L616.45,348.77L616.70,348.90L616.95,349.04L617.20,349.17L617.45,349.30L617.70,349.43L617.95,349.56L618.20,349.69L618.45,349.82L618.70,349.95L618.95,350.08L619.20,350.22L619.45,350.35L619.70,350.48L619.95,350.61L620.20,350.74L620.45,350.87L620.70,351.00L620.95,351.13L621.20,351.26L621.45,351.39L621.70,351.52L621.95,351.65L622.20,351.79L622.45,351.92L622.70,352.05L622.95,352.18L623.20,352.31L623.45,352.44L623.70,352.57L623.95,352.70L624.20,352.83L624.45,352.96L624.70,353.09L624.95,353.22L625.20,353.35L625.45,353.48L625.70,353.61L625.95,353.74L626.20,353.87L626.45,354.00L626.70,354.13L626.95,354.27L627.20,354.40L627.45,354.53L627.70,354.66L627.95,354.79L628.20,354.92L628.45,355.05L628.70,355.18L628.95,355.31L629.20,355.44L629.45,355.57L629.70,355.70L629.95,355.83L630.20,355.96L630.45,356.09L630.70,356.22L630.95,356.35L631.20,356.48L631.45,356.61L631.70,356.74L631.95,356.87L632.20,357.00L632.45,357.13L632.70,357.26L632.95,357.39L633.20,357.52L633.45,357.65L633.70,357.78L633.95,357.91L634.20,358.03L634.45,358.16L634.70,358.29L634.95,358.42L635.20,358.55L635.45,358.68L635.70,358.81L635.95,358.94L636.20,359.07L636.45,359.20L636.70,359.33L636.95,359.46L637.20,359.59L637.45,359.72L637.70,359.85L637.95,359.98L638.20,360.11L638.45,360.24L638.70,360.37L638.95,360.49L639.20,360.62L639.45,360.75L639.70,360.88L639.95,361.01L640.20,361.14L640.45,361.27L640.70,361.40L640.95,361.53L641.20,361.66L641.45,361.79L641.70,361.91L641.95,362.04L642.20,362.17L642.45,362.30L642.70,362.43L642.95,362.56L643.20,362.69L643.45,362.82L643.70,362.95L643.95,363.07L644.20,363.20L644.45,363.33L644.70,363.46L644.95,363.59L645.20,363.72L645.45,363.85L645.70,363.97L645.95,364.10L646.20,364.23L646.45,364.36L646.70,364.49L646.95,364.62L647.20,364.75L647.45,364.87L647.70,365.00L647.95,365.13L648.20,365.26L648.45,365.39L648.70,365.52L648.95,365.64L649.20,365.77L649.45,365.90L649.70,366.03L649.95,366.16L650.20,366.29L650.45,366.41L650.70,366.54L650.95,366.67L651.20,366.80L651.45,366.93L651.70,367.05L651.95,367.18L652.20,367.31L652.45,367.44L652.70,367.57L652.95,367.69L653.20,367.82L653.45,367.95L653.70,368.08L653.95,368.20L654.20,368.33L654.45,368.46L654.70,368.59L654.95,368.72L655.20,368.84L655.45,368.97L655.70,369.10L655.95,369.23L656.20,369.35L656.45,369.48L656.70,369.61L656.95,369.74L657.20,369.86L657.45,369.99L657.70,370.12L657.95,370.25L658.20,370.37L658.45,370.50L658.70,370.63L658.95,370.75L659.20,370.88L659.45,371.01L659.70,371.14L659.95,371.26L660.20,371.39L660.45,371.52L660.70,371.64L660.95,371.77L661.20,371.90L661.45,372.03L661.70,372.15L661.95,372.28L662.20,372.41L662.45,372.53L662.70,372.66L662.95,372.79L663.20,372.91L663.45,373.04L663.70,373.17L663.95,373.29L664.20,373.42L664.45,373.55L664.70,373.67L664.95,373.80L665.20,373.93L665.45,374.05L665.70,374.18L665.95,374.31L666.20,374.43L666.45,374.56L666.70,374.69L666.95,374.81L667.20,374.94L667.45,375.07L667.70,375.19L667.95,375.32L668.20,375.44L668.45,375.57L668.70,375.70L668.95,375.82L669.20,375.95L669.45,376.07L669.70,376.20L669.95,376.33L670.20,376.45L670.45,376.58L670.70,376.70L670.95,376.83L671.20,376.96L671.45,377.08L671.70,377.21L671.95,377.33L672.20,377.46L672.45,377.59L672.70,377.71L672.95,377.84L673.20,377.96L673.45,378.09L673.70,378.21L673.95,378.34L674.20,378.47L674.45,378.59L674.70,378.72L674.95,378.84L675.20,378.97L675.45,379.09L675.70,379.22L675.95,379.34L676.20,379.47L676.45,379.59L676.70,379.72L676.95,379.84L677.20,379.97L677.45,380.10L677.70,380.22L677.95,380.35L678.20,380.47L678.45,380.60L678.70,380.72L678.95,380.85L679.20,380.97L679.45,381.10L679.70,381.22L679.95,381.35L680.20,381.47L680.45,381.60L680.70,381.72L680.95,381.84L681.20,381.97L681.45,382.09L681.70,382.22L681.95,382.34L682.20,382.47L682.45,382.59L682.70,382.72L682.95,382.84L683.20,382.97L683.45,383.09L683.70,383.21L683.95,383.34L684.20,383.46L684.45,383.59L684.70,383.71L684.95,383.84L685.20,383.96L685.45,384.08L685.70,384.21L685.95,384.33L686.20,384.46L686.45,384.58L686.70,384.70L686.95,384.83L687.20,384.95L687.45,385.07L687.70,385.20L687.95,385.32L688.20,385.44L688.45,385.57L688.70,385.69L688.95,385.81L689.20,385.94L689.45,386.06L689.70,386.18L689.95,386.30L690.20,386.43L690.45,386.55L690.70,386.67L690.95,386.80L691.20,386.92L691.45,387.04L691.70,387.16L691.95,387.28L692.20,387.41L692.45,387.53L692.70,387.65L692.95,387.77L693.20,387.89L693.45,388.02L693.70,388.14L693.95,388.26L694.20,388.38L694.45,388.50L694.70,388.62L694.95,388.74L695.20,388.86L695.45,388.98L695.70,389.11L695.95,389.23L696.20,389.35L696.45,389.47L696.70,389.59L696.95,389.71L697.20,389.83L697.45,389.95L697.70,390.07L697.95,390.19L698.20,390.31L698.45,390.43L698.70,390.55L698.95,390.66L699.20,390.78L699.45,390.90L699.70,391.02L699.95,391.14L700.20,391.26L700.45,391.38L700.70,391.50L700.95,391.61L701.20,391.73L701.45,391.85L701.70,391.97L701.95,392.09L702.20,392.20L702.45,392.32L702.70,392.44L702.95,392.56L703.20,392.67L703.45,392.79L703.70,392.91L703.95,393.02L704.20,393.14L704.45,393.26L704.70,393.37L704.95,393.49L705.20,393.60L705.45,393.72L705.70,393.84L705.95,393.95L706.20,394.07L706.45,394.18L706.70,394.30L706.95,394.41L707.20,394.53L707.45,394.64L707.70,394.75L707.95,394.87L708.20,394.98L708.45,395.10L708.70,395.21L708.95,395.32L709.20,395.44L709.45,395.55L709.70,395.66L709.95,395.78L710.20,395.89L710.45,396.00L710.70,396.11L710.95,396.23L711.20,396.34L711.45,396.45L711.70,396.56L711.95,396.67L712.20,396.78L712.45,396.89L712.70,397.01L712.95,397.12L713.20,397.23L713.45,397.34L713.70,397.45L713.95,397.56L714.20,397.67L714.45,397.78L714.70,397.89L714.95,397.99L715.20,398.10L715.45,398.21L715.70,398.32L715.95,398.43L716.20,398.54L716.45,398.65L716.70,398.75L716.95,398.86L717.20,398.97L717.45,399.07L717.70,399.18L717.95,399.29L718.20,399.39L718.45,399.50L718.70,399.61L718.95,399.71L719.20,399.82L719.45,399.92L719.70,400.03L719.95,400.13L720.20,400.24L720.45,400.34L720.70,400.45L720.95,400.55L721.20,400.66L721.45,400.76L721.70,400.86L721.95,400.97L722.20,401.07L722.45,401.17L722.70,401.27L722.95,401.38L723.20,401.48L723.45,401.58L723.70,401.68L723.95,401.78L724.20,401.88L724.45,401.98L724.70,402.09L724.95,402.19L725.20,402.29L725.45,402.39L725.70,402.48L725.95,402.58L726.20,402.68L726.45,402.78L726.70,402.88L726.95,402.98L727.20,403.08L727.45,403.17L727.70,403.27L727.95,403.37L728.20,403.47L728.45,403.56L728.70,403.66L728.95,403.76L729.20,403.85L729.45,403.95L729.70,404.04L729.95,404.14L730.20,404.23L730.45,404.33L730.70,404.42L730.95,404.52L731.20,404.61L731.45,404.70L731.70,404.80L731.95,404.89L732.20,404.98L732.45,405.08L732.70,405.17L732.95,405.26L733.20,405.35L733.45,405.44L733.70,405.53L733.95,405.62L734.20,405.71L734.45,405.80L734.70,405.89L734.95,405.98L735.20,406.07L735.45,406.16L735.70,406.25L735.95,406.34L736.20,406.43L736.45,406.52L736.70,406.60L736.95,406.69L737.20,406.78L737.45,406.86L737.70,406.95L737.95,407.04L738.20,407.12L738.45,407.21L738.70,407.29L738.95,407.38L739.20,407.46L739.45,407.55L739.70,407.63L739.95,407.71L740.20,407.80L740.45,407.88L740.70,407.96L740.95,408.04L741.20,408.13L741.45,408.21L741.70,408.29L741.95,408.37L742.20,408.45L742.45,408.53L742.70,408.61L742.95,408.69L743.20,408.77L743.45,408.85L743.70,408.93L743.95,409.00L744.20,409.08L744.45,409.16L744.70,409.24L744.95,409.31L745.20,409.39L745.45,409.47L745.70,409.54L745.95,409.62L746.20,409.69L746.45,409.77L746.70,409.84L746.95,409.92L747.20,409.99L747.45,410.06L747.70,410.14L747.95,410.21L748.20,410.28L748.45,410.36L748.70,410.43L748.95,410.50L749.20,410.57L749.45,410.64L749.70,410.71L749.95,410.78L750.20,410.85L750.45,410.92L750.70,410.99L750.95,411.06L751.20,411.12L751.45,411.19L751.70,411.26L751.95,411.33L752.20,411.39L752.45,411.46L752.70,411.52L752.95,411.59L753.20,411.65L753.45,411.72L753.70,411.78L753.95,411.85L754.20,411.91L754.45,411.97L754.70,412.04L754.95,412.10L755.20,412.16L755.45,412.22L755.70,412.28L755.95,412.34L756.20,412.41L756.45,412.47L756.70,412.52L756.95,412.58L757.20,412.64L757.45,412.70L757.70,412.76L757.95,412.82L758.20,412.87L758.45,412.93L758.70,412.99L758.95,413.04L759.20,413.10L759.45,413.15L759.70,413.21L759.95,413.26L760.20,413.32L760.45,413.37L760.70,413.42L760.95,413.48L761.20,413.53L761.45,413.58L761.70,413.63L761.95,413.68L762.20,413.73L762.45,413.78L762.70,413.83L762.95,413.88L763.20,413.93L763.45,413.98L763.70,414.03L763.95,414.08L764.20,414.12L764.45,414.17L764.70,414.22L764.95,414.26L765.20,414.31L765.45,414.35L765.70,414.40L765.95,414.44L766.20,414.48L766.45,414.53L766.70,414.57L766.95,414.61L767.20,414.65L767.45,414.70L767.70,414.74L767.95,414.78L768.20,414.82L768.45,414.86L768.70,414.90L768.95,414.94L769.20,414.97L769.45,415.01L769.70,415.05L769.95,415.09L770.20,415.12L770.45,415.16L770.70,415.19L770.95,415.23L771.20,415.26L771.45,415.30L771.70,415.33L771.95,415.36L772.20,415.40L772.45,415.43L772.70,415.46" stroke="#0a0a0a" stroke-width="3.6"/>
</g>
<g clip-path="url(#cb)" fill="none" stroke-linejoin="round">
<path d="M139.00,806.51L139.25,806.24L139.50,806.01L139.75,805.80L140.00,805.62L140.25,805.48L140.50,805.35L140.75,805.26L141.00,805.19L141.25,805.15L141.50,805.13L141.75,805.14L142.00,805.18L142.25,805.23L142.50,805.31L142.75,805.42L143.00,805.55L143.25,805.69L143.50,805.87L143.75,806.06L144.00,806.27L144.25,806.50L144.50,806.75L144.75,807.02L145.00,807.31L145.25,807.62L145.50,807.95L145.75,808.29L146.00,808.65L146.25,809.02L146.50,809.41L146.75,809.82L147.00,810.24L147.25,810.67L147.50,811.12L147.75,811.58L148.00,812.05L148.25,812.54L148.50,813.03L148.75,813.54L149.00,814.06L149.25,814.59L149.50,815.13L149.75,815.67L150.00,816.23L150.25,816.79L150.50,817.36L150.75,817.94L151.00,818.52L151.25,819.11L151.50,819.71L151.75,820.31L152.00,820.91L152.25,821.52L152.50,822.13L152.75,822.75L153.00,823.36L153.25,823.98L153.50,824.60L153.75,825.22L154.00,825.85L154.25,826.47L154.50,827.09L154.75,827.71L155.00,828.33L155.25,828.94L155.50,829.56L155.75,830.17L156.00,830.77L156.25,831.38L156.50,831.98L156.75,832.57L157.00,833.16L157.25,833.75L157.50,834.33L157.75,834.91L158.00,835.48L158.25,836.05L158.50,836.62L158.75,837.18L159.00,837.74L159.25,838.30L159.50,838.85L159.75,839.40L160.00,839.95L160.25,840.49L160.50,841.02L160.75,841.56L161.00,842.09L161.25,842.62L161.50,843.14L161.75,843.66L162.00,844.18L162.25,844.69L162.50,845.20L162.75,845.71L163.00,846.21L163.25,846.71L163.50,847.21L163.75,847.71L164.00,848.20L164.25,848.69L164.50,849.17L164.75,849.66L165.00,850.14L165.25,850.61L165.50,851.09L165.75,851.56L166.00,852.03L166.25,852.49L166.50,852.95L166.75,853.41L167.00,853.87L167.25,854.33L167.50,854.78L167.75,855.23L168.00,855.68L168.25,856.12L168.50,856.56L168.75,857.00L169.00,857.44L169.25,857.88L169.50,858.31L169.75,858.74L170.00,859.17L170.25,859.60L170.50,860.02L170.75,860.44L171.00,860.86L171.25,861.28L171.50,861.70L171.75,862.11L172.00,862.52L172.25,862.93L172.50,863.34L172.75,863.75L173.00,864.15L173.25,864.55L173.50,864.95L173.75,865.35L174.00,865.75L174.25,866.15L174.50,866.54L174.75,866.93L175.00,867.32L175.25,867.71L175.50,868.10L175.75,868.49L176.00,868.87L176.25,869.26L176.50,869.64L176.75,870.02L177.00,870.40L177.25,870.78L177.50,871.16L177.75,871.53L178.00,871.91L178.25,872.28L178.50,872.66L178.75,873.03L179.00,873.40L179.25,873.77L179.50,874.14L179.75,874.51L180.00,874.88L180.25,875.24L180.50,875.61L180.75,875.97L181.00,876.34L181.25,876.70L181.50,877.07L181.75,877.43L182.00,877.79L182.25,878.15L182.50,878.51L182.75,878.87L183.00,879.23L183.25,879.59L183.50,879.95L183.75,880.31L184.00,880.67L184.25,881.03L184.50,881.39L184.75,881.74L185.00,882.10L185.25,882.46L185.50,882.82L185.75,883.17L186.00,883.53L186.25,883.88L186.50,884.24L186.75,884.59L187.00,884.95L187.25,885.30L187.50,885.66L187.75,886.01L188.00,886.36L188.25,886.72L188.50,887.07L188.75,887.42L189.00,887.77L189.25,888.12L189.50,888.47L189.75,888.82L190.00,889.17L190.25,889.52L190.50,889.87L190.75,890.22L191.00,890.57L191.25,890.92L191.50,891.27L191.75,891.62L192.00,891.96L192.25,892.31L192.50,892.66L192.75,893.01L193.00,893.35L193.25,893.70L193.50,894.04L193.75,894.39L194.00,894.73L194.25,895.08L194.50,895.42L194.75,895.76L195.00,896.11L195.25,896.45L195.50,896.79L195.75,897.14L196.00,897.48L196.25,897.82L196.50,898.16L196.75,898.50L197.00,898.84L197.25,899.18L197.50,899.52L197.75,899.86L198.00,900.20L198.25,900.54L198.50,900.88L198.75,901.22L199.00,901.56L199.25,901.89L199.50,902.23L199.75,902.57L200.00,902.90L200.25,903.24L200.50,903.58L200.75,903.91L201.00,904.25L201.25,904.58L201.50,904.92L201.75,905.25L202.00,905.58L202.25,905.92L202.50,906.25L202.75,906.58L203.00,906.92L203.25,907.25L203.50,907.58L203.75,907.91L204.00,908.24L204.25,908.57L204.50,908.90L204.75,909.23L205.00,909.56L205.25,909.89L205.50,910.22L205.75,910.55L206.00,910.88L206.25,911.21L206.50,911.53L206.75,911.86L207.00,912.19L207.25,912.52L207.50,912.84L207.75,913.17L208.00,913.49L208.25,913.82L208.50,914.14L208.75,914.47L209.00,914.79L209.25,915.12L209.50,915.44L209.75,915.76L210.00,916.09L210.25,916.41L210.50,916.73L210.75,917.05L211.00,917.38L211.25,917.70L211.50,918.02L211.75,918.34L212.00,918.66L212.25,918.98L212.50,919.30L212.75,919.62L213.00,919.94L213.25,920.26L213.50,920.58L213.75,920.89L214.00,921.21L214.25,921.53L214.50,921.85L214.75,922.16L215.00,922.48L215.25,922.80L215.50,923.11L215.75,923.43L216.00,923.74L216.25,924.06L216.50,924.37L216.75,924.68L217.00,925.00L217.25,925.31L217.50,925.63L217.75,925.94L218.00,926.25L218.25,926.56L218.50,926.87L218.75,927.19L219.00,927.50L219.25,927.81L219.50,928.12L219.75,928.43L220.00,928.74L220.25,929.05L220.50,929.36L220.75,929.67L221.00,929.97L221.25,930.28L221.50,930.59L221.75,930.90L222.00,931.21L222.25,931.51L222.50,931.82L222.75,932.13L223.00,932.43L223.25,932.74L223.50,933.04L223.75,933.35L224.00,933.65L224.25,933.96L224.50,934.26L224.75,934.56L225.00,934.87L225.25,935.17L225.50,935.47L225.75,935.78L226.00,936.08L226.25,936.38L226.50,936.68L226.75,936.98L227.00,937.28L227.25,937.58L227.50,937.88L227.75,938.18L228.00,938.48L228.25,938.78L228.50,939.08L228.75,939.38L229.00,939.68L229.25,939.98L229.50,940.27L229.75,940.57L230.00,940.87L230.25,941.16L230.50,941.46L230.75,941.76L231.00,942.05L231.25,942.35L231.50,942.64L231.75,942.94L232.00,943.23L232.25,943.53L232.50,943.82L232.75,944.11L233.00,944.40L233.25,944.70L233.50,944.99L233.75,945.28L234.00,945.57L234.25,945.86L234.50,946.15L234.75,946.43L235.00,946.72L235.25,947.01L235.50,947.29L235.75,947.58L236.00,947.86L236.25,948.15L236.50,948.43L236.75,948.71L237.00,949.00L237.25,949.28L237.50,949.56L237.75,949.83L238.00,950.11L238.25,950.39L238.50,950.67L238.75,950.94L239.00,951.22L239.25,951.49L239.50,951.76L239.75,952.03L240.00,952.30L240.25,952.57L240.50,952.84L240.75,953.11L241.00,953.37L241.25,953.64L241.50,953.90L241.75,954.17L242.00,954.43L242.25,954.69L242.50,954.95L242.75,955.20L243.00,955.46L243.25,955.71L243.50,955.97L243.75,956.22L244.00,956.47L244.25,956.72L244.50,956.97L244.75,957.22L245.00,957.46L245.25,957.71L245.50,957.95L245.75,958.19L246.00,958.43L246.25,958.67L246.50,958.90L246.75,959.14L247.00,959.37L247.25,959.60L247.50,959.83L247.75,960.06L248.00,960.29L248.25,960.51L248.50,960.74L248.75,960.96L249.00,961.18L249.25,961.40L249.50,961.61L249.75,961.83L250.00,962.04L250.25,962.25L250.50,962.46L250.75,962.67L251.00,962.87L251.25,963.08L251.50,963.28L251.75,963.48L252.00,963.68L252.25,963.87L252.50,964.07L252.75,964.26L253.00,964.45L253.25,964.63L253.50,964.82L253.75,965.00L254.00,965.18L254.25,965.36L254.50,965.54L254.75,965.71L255.00,965.89L255.25,966.06L255.50,966.23L255.75,966.39L256.00,966.55L256.25,966.72L256.50,966.87L256.75,967.03L257.00,967.19L257.25,967.34L257.50,967.49L257.75,967.63L258.00,967.78L258.25,967.92L258.50,968.06L258.75,968.20L259.00,968.33L259.25,968.46L259.50,968.59L259.75,968.72L260.00,968.84L260.25,968.97L260.50,969.08L260.75,969.20L261.00,969.32L261.25,969.43L261.50,969.53L261.75,969.64L262.00,969.74L262.25,969.84L262.50,969.94L262.75,970.04L263.00,970.13L263.25,970.22L263.50,970.30L263.75,970.39L264.00,970.47L264.25,970.54L264.50,970.62L264.75,970.69L265.00,970.76L265.25,970.82L265.50,970.89L265.75,970.94L266.00,971.00L266.25,971.05L266.50,971.10L266.75,971.15L267.00,971.20L267.25,971.24L267.50,971.27L267.75,971.31L268.00,971.34L268.25,971.37L268.50,971.39L268.75,971.41L269.00,971.43L269.25,971.45L269.50,971.46L269.75,971.47L270.00,971.47L270.25,971.47L270.50,971.47L270.75,971.47L271.00,971.46L271.25,971.45L271.50,971.43L271.75,971.41L272.00,971.39L272.25,971.36L272.50,971.33L272.75,971.30L273.00,971.26L273.25,971.22L273.50,971.18L273.75,971.13L274.00,971.08L274.25,971.02L274.50,970.96L274.75,970.90L275.00,970.83L275.25,970.76L275.50,970.69L275.75,970.61L276.00,970.53L276.25,970.44L276.50,970.36L276.75,970.26L277.00,970.17L277.25,970.06L277.50,969.96L277.75,969.85L278.00,969.74L278.25,969.62L278.50,969.50L278.75,969.37L279.00,969.25L279.25,969.11L279.50,968.97L279.75,968.83L280.00,968.69L280.25,968.54L280.50,968.38L280.75,968.23L281.00,968.06L281.25,967.90L281.50,967.73L281.75,967.55L282.00,967.37L282.25,967.19L282.50,967.00L282.75,966.81L283.00,966.61L283.25,966.41L283.50,966.21L283.75,966.00L284.00,965.78L284.25,965.56L284.50,965.34L284.75,965.11L285.00,964.88L285.25,964.64L285.50,964.40L285.75,964.16L286.00,963.90L286.25,963.65L286.50,963.39L286.75,963.13L287.00,962.86L287.25,962.58L287.50,962.30L287.75,962.02L288.00,961.73L288.25,961.44L288.50,961.14L288.75,960.84L289.00,960.53L289.25,960.22L289.50,959.90L289.75,959.58L290.00,959.25L290.25,958.92L290.50,958.59L290.75,958.24L291.00,957.90L291.25,957.55L291.50,957.19L291.75,956.83L292.00,956.46L292.25,956.09L292.50,955.72L292.75,955.33L293.00,954.95L293.25,954.56L293.50,954.16L293.75,953.76L294.00,953.36L294.25,952.95L294.50,952.53L294.75,952.11L295.00,951.69L295.25,951.26L295.50,950.83L295.75,950.39L296.00,949.94L296.25,949.50L296.50,949.04L296.75,948.58L297.00,948.12L297.25,947.65L297.50,947.18L297.75,946.70L298.00,946.22L298.25,945.74L298.50,945.24L298.75,944.75L299.00,944.25L299.25,943.74L299.50,943.23L299.75,942.71L300.00,942.19L300.25,941.67L300.50,941.14L300.75,940.61L301.00,940.07L301.25,939.52L301.50,938.98L301.75,938.42L302.00,937.87L302.25,937.30L302.50,936.74L302.75,936.16L303.00,935.59L303.25,935.01L303.50,934.42L303.75,933.83L304.00,933.23L304.25,932.63L304.50,932.03L304.75,931.42L305.00,930.81L305.25,930.19L305.50,929.57L305.75,928.94L306.00,928.31L306.25,927.67L306.50,927.03L306.75,926.38L307.00,925.73L307.25,925.08L307.50,924.42L307.75,923.75L308.00,923.08L308.25,922.41L308.50,921.73L308.75,921.05L309.00,920.36L309.25,919.67L309.50,918.97L309.75,918.27L310.00,917.57L310.25,916.86L310.50,916.14L310.75,915.42L311.00,914.70L311.25,913.97L311.50,913.24L311.75,912.50L312.00,911.76L312.25,911.01L312.50,910.26L312.75,909.51L313.00,908.75L313.25,907.98L313.50,907.21L313.75,906.44L314.00,905.66L314.25,904.88L314.50,904.09L314.75,903.30L315.00,902.51L315.25,901.71L315.50,900.90L315.75,900.09L316.00,899.28L316.25,898.46L316.50,897.64L316.75,896.81L317.00,895.98L317.25,895.15L317.50,894.31L317.75,893.46L318.00,892.61L318.25,891.76L318.50,890.90L318.75,890.04L319.00,889.18L319.25,888.31L319.50,887.43L319.75,886.55L320.00,885.67L320.25,884.78L320.50,883.89L320.75,882.99L321.00,882.09L321.25,881.19L321.50,880.28L321.75,879.36L322.00,878.44L322.25,877.52L322.50,876.59L322.75,875.66L323.00,874.73L323.25,873.79L323.50,872.84L323.75,871.89L324.00,870.94L324.25,869.99L324.50,869.02L324.75,868.06L325.00,867.09L325.25,866.11L325.50,865.14L325.75,864.15L326.00,863.17L326.25,862.18L326.50,861.19L326.75,860.19L327.00,859.19L327.25,858.18L327.50,857.17L327.75,856.16L328.00,855.14L328.25,854.12L328.50,853.10L328.75,852.08L329.00,851.05L329.25,850.01L329.50,848.98L329.75,847.94L330.00,846.89L330.25,845.85L330.50,844.80L330.75,843.75L331.00,842.70L331.25,841.64L331.50,840.58L331.75,839.52L332.00,838.45L332.25,837.38L332.50,836.31L332.75,835.24L333.00,834.16L333.25,833.09L333.50,832.00L333.75,830.92L334.00,829.84L334.25,828.75L334.50,827.66L334.75,826.57L335.00,825.48L335.25,824.38L335.50,823.29L335.75,822.19L336.00,821.09L336.25,819.98L336.50,818.88L336.75,817.77L337.00,816.67L337.25,815.56L337.50,814.45L337.75,813.34L338.00,812.22L338.25,811.11L338.50,809.99L338.75,808.88L339.00,807.76L339.25,806.64L339.50,805.52L339.75,804.40L340.00,803.28L340.25,802.15L340.50,801.03L340.75,799.91L341.00,798.78L341.25,797.66L341.50,796.53L341.75,795.40L342.00,794.28L342.25,793.15L342.50,792.02L342.75,790.89L343.00,789.76L343.25,788.63L343.50,787.51L343.75,786.38L344.00,785.25L344.25,784.12L344.50,782.99L344.75,781.86L345.00,780.73L345.25,779.60L345.50,778.48L345.75,777.35L346.00,776.22L346.25,775.10L346.50,773.97L346.75,772.84L347.00,771.72L347.25,770.59L347.50,769.47L347.75,768.35L348.00,767.23L348.25,766.10L348.50,764.98L348.75,763.86L349.00,762.75L349.25,761.63L349.50,760.51L349.75,759.40L350.00,758.29L350.25,757.17L350.50,756.06L350.75,754.95L351.00,753.85L351.25,752.74L351.50,751.64L351.75,750.53L352.00,749.43L352.25,748.33L352.50,747.24L352.75,746.14L353.00,745.05L353.25,743.96L353.50,742.87L353.75,741.78L354.00,740.69L354.25,739.61L354.50,738.53L354.75,737.45L355.00,736.38L355.25,735.30L355.50,734.23L355.75,733.16L356.00,732.10L356.25,731.03L356.50,729.97L356.75,728.92L357.00,727.86L357.25,726.81L357.50,725.76L357.75,724.71L358.00,723.67L358.25,722.63L358.50,721.59L358.75,720.56L359.00,719.53L359.25,718.50L359.50,717.48L359.75,716.46L360.00,715.44L360.25,714.43L360.50,713.42L360.75,712.41L361.00,711.41L361.25,710.41L361.50,709.42L361.75,708.43L362.00,707.44L362.25,706.46L362.50,705.48L362.75,704.51L363.00,703.54L363.25,702.57L363.50,701.61L363.75,700.65L364.00,699.70L364.25,698.75L364.50,697.80L364.75,696.86L365.00,695.93L365.25,695.00L365.50,694.07L365.75,693.15L366.00,692.23L366.25,691.32L366.50,690.41L366.75,689.51L367.00,688.61L367.25,687.71L367.50,686.83L367.75,685.94L368.00,685.06L368.25,684.19L368.50,683.32L368.75,682.45L369.00,681.59L369.25,680.73L369.50,679.88L369.75,679.03L370.00,678.19L370.25,677.36L370.50,676.52L370.75,675.70L371.00,674.87L371.25,674.06L371.50,673.24L371.75,672.43L372.00,671.63L372.25,670.83L372.50,670.04L372.75,669.25L373.00,668.47L373.25,667.69L373.50,666.92L373.75,666.15L374.00,665.38L374.25,664.63L374.50,663.87L374.75,663.12L375.00,662.38L375.25,661.64L375.50,660.91L375.75,660.18L376.00,659.46L376.25,658.74L376.50,658.03L376.75,657.32L377.00,656.62L377.25,655.92L377.50,655.23L377.75,654.54L378.00,653.86L378.25,653.18L378.50,652.51L378.75,651.85L379.00,651.18L379.25,650.53L379.50,649.88L379.75,649.23L380.00,648.59L380.25,647.96L380.50,647.33L380.75,646.71L381.00,646.09L381.25,645.47L381.50,644.87L381.75,644.26L382.00,643.67L382.25,643.08L382.50,642.49L382.75,641.91L383.00,641.33L383.25,640.76L383.50,640.20L383.75,639.64L384.00,639.09L384.25,638.54L384.50,638.00L384.75,637.46L385.00,636.93L385.25,636.40L385.50,635.88L385.75,635.37L386.00,634.86L386.25,634.36L386.50,633.86L386.75,633.37L387.00,632.88L387.25,632.40L387.50,631.92L387.75,631.46L388.00,630.99L388.25,630.53L388.50,630.08L388.75,629.64L389.00,629.19L389.25,628.76L389.50,628.33L389.75,627.91L390.00,627.49L390.25,627.08L390.50,626.67L390.75,626.27L391.00,625.88L391.25,625.49L391.50,625.11L391.75,624.73L392.00,624.36L392.25,623.99L392.50,623.63L392.75,623.28L393.00,622.93L393.25,622.59L393.50,622.26L393.75,621.93L394.00,621.61L394.25,621.29L394.50,620.98L394.75,620.67L395.00,620.37L395.25,620.08L395.50,619.79L395.75,619.51L396.00,619.24L396.25,618.97L396.50,618.71L396.75,618.45L397.00,618.20L397.25,617.96L397.50,617.72L397.75,617.49L398.00,617.26L398.25,617.04L398.50,616.83L398.75,616.62L399.00,616.42L399.25,616.23L399.50,616.04L399.75,615.86L400.00,615.68L400.25,615.51L400.50,615.35L400.75,615.19L401.00,615.04L401.25,614.90L401.50,614.76L401.75,614.63L402.00,614.51L402.25,614.39L402.50,614.28L402.75,614.17L403.00,614.07L403.25,613.98L403.50,613.89L403.75,613.81L404.00,613.74L404.25,613.67L404.50,613.61L404.75,613.56L405.00,613.51L405.25,613.47L405.50,613.44L405.75,613.41L406.00,613.39L406.25,613.38L406.50,613.37L406.75,613.37L407.00,613.38L407.25,613.39L407.50,613.41L407.75,613.43L408.00,613.47L408.25,613.51L408.50,613.55L408.75,613.61L409.00,613.67L409.25,613.73L409.50,613.81L409.75,613.89L410.00,613.97L410.25,614.07L410.50,614.17L410.75,614.27L411.00,614.39L411.25,614.51L411.50,614.63L411.75,614.77L412.00,614.91L412.25,615.05L412.50,615.21L412.75,615.37L413.00,615.53L413.25,615.71L413.50,615.89L413.75,616.07L414.00,616.27L414.25,616.47L414.50,616.67L414.75,616.88L415.00,617.10L415.25,617.33L415.50,617.56L415.75,617.79L416.00,618.04L416.25,618.29L416.50,618.54L416.75,618.81L417.00,619.08L417.25,619.35L417.50,619.63L417.75,619.92L418.00,620.21L418.25,620.51L418.50,620.82L418.75,621.13L419.00,621.45L419.25,621.77L419.50,622.10L419.75,622.44L420.00,622.78L420.25,623.13L420.50,623.49L420.75,623.85L421.00,624.21L421.25,624.58L421.50,624.96L421.75,625.35L422.00,625.74L422.25,626.13L422.50,626.53L422.75,626.94L423.00,627.35L423.25,627.77L423.50,628.20L423.75,628.63L424.00,629.06L424.25,629.51L424.50,629.95L424.75,630.41L425.00,630.86L425.25,631.33L425.50,631.80L425.75,632.27L426.00,632.76L426.25,633.24L426.50,633.73L426.75,634.23L427.00,634.73L427.25,635.24L427.50,635.76L427.75,636.28L428.00,636.80L428.25,637.33L428.50,637.87L428.75,638.41L429.00,638.95L429.25,639.51L429.50,640.06L429.75,640.63L430.00,641.19L430.25,641.77L430.50,642.34L430.75,642.93L431.00,643.51L431.25,644.11L431.50,644.71L431.75,645.31L432.00,645.92L432.25,646.53L432.50,647.15L432.75,647.78L433.00,648.41L433.25,649.04L433.50,649.68L433.75,650.32L434.00,650.97L434.25,651.62L434.50,652.28L434.75,652.95L435.00,653.62L435.25,654.29L435.50,654.97L435.75,655.65L436.00,656.34L436.25,657.03L436.50,657.73L436.75,658.43L437.00,659.14L437.25,659.85L437.50,660.57L437.75,661.29L438.00,662.01L438.25,662.74L438.50,663.48L438.75,664.22L439.00,664.96L439.25,665.71L439.50,666.46L439.75,667.22L440.00,667.98L440.25,668.75L440.50,669.52L440.75,670.29L441.00,671.07L441.25,671.86L441.50,672.65L441.75,673.44L442.00,674.24L442.25,675.04L442.50,675.84L442.75,676.65L443.00,677.47L443.25,678.29L443.50,679.11L443.75,679.94L444.00,680.77L444.25,681.60L444.50,682.44L444.75,683.29L445.00,684.14L445.25,684.99L445.50,685.84L445.75,686.70L446.00,687.57L446.25,688.44L446.50,689.31L446.75,690.18L447.00,691.06L447.25,691.95L447.50,692.84L447.75,693.73L448.00,694.62L448.25,695.52L448.50,696.43L448.75,697.33L449.00,698.24L449.25,699.16L449.50,700.08L449.75,701.00L450.00,701.93L450.25,702.86L450.50,703.79L450.75,704.73L451.00,705.67L451.25,706.61L451.50,707.56L451.75,708.51L452.00,709.46L452.25,710.41L452.50,711.37L452.75,712.34L453.00,713.30L453.25,714.27L453.50,715.24L453.75,716.21L454.00,717.19L454.25,718.17L454.50,719.15L454.75,720.14L455.00,721.12L455.25,722.11L455.50,723.10L455.75,724.10L456.00,725.10L456.25,726.09L456.50,727.09L456.75,728.10L457.00,729.10L457.25,730.11L457.50,731.12L457.75,732.13L458.00,733.14L458.25,734.16L458.50,735.17L458.75,736.19L459.00,737.21L459.25,738.23L459.50,739.25L459.75,740.28L460.00,741.30L460.25,742.33L460.50,743.36L460.75,744.39L461.00,745.42L461.25,746.45L461.50,747.48L461.75,748.51L462.00,749.55L462.25,750.58L462.50,751.62L462.75,752.65L463.00,753.69L463.25,754.73L463.50,755.77L463.75,756.81L464.00,757.85L464.25,758.89L464.50,759.93L464.75,760.97L465.00,762.01L465.25,763.05L465.50,764.09L465.75,765.13L466.00,766.17L466.25,767.21L466.50,768.25L466.75,769.29L467.00,770.33L467.25,771.38L467.50,772.42L467.75,773.45L468.00,774.49L468.25,775.53L468.50,776.57L468.75,777.61L469.00,778.64L469.25,779.68L469.50,780.72L469.75,781.75L470.00,782.78L470.25,783.82L470.50,784.85L470.75,785.88L471.00,786.91L471.25,787.94L471.50,788.96L471.75,789.99L472.00,791.01L472.25,792.04L472.50,793.06L472.75,794.08L473.00,795.10L473.25,796.11L473.50,797.13L473.75,798.14L474.00,799.15L474.25,800.16L474.50,801.17L474.75,802.18L475.00,803.18L475.25,804.18L475.50,805.18L475.75,806.18L476.00,807.18L476.25,808.17L476.50,809.17L476.75,810.16L477.00,811.15L477.25,812.14L477.50,813.12L477.75,814.11L478.00,815.09L478.25,816.07L478.50,817.05L478.75,818.03L479.00,819.01L479.25,819.99L479.50,820.96L479.75,821.93L480.00,822.91L480.25,823.88L480.50,824.84L480.75,825.81L481.00,826.78L481.25,827.74L481.50,828.71L481.75,829.67L482.00,830.63L482.25,831.59L482.50,832.55L482.75,833.50L483.00,834.46L483.25,835.42L483.50,836.37L483.75,837.32L484.00,838.27L484.25,839.22L484.50,840.17L484.75,841.12L485.00,842.07L485.25,843.01L485.50,843.96L485.75,844.90L486.00,845.85L486.25,846.79L486.50,847.73L486.75,848.67L487.00,849.61L487.25,850.55L487.50,851.49L487.75,852.43L488.00,853.36L488.25,854.30L488.50,855.23L488.75,856.17L489.00,857.10L489.25,858.03L489.50,858.97L489.75,859.90L490.00,860.83L490.25,861.76L490.50,862.69L490.75,863.62L491.00,864.55L491.25,865.48L491.50,866.40L491.75,867.33L492.00,868.26L492.25,869.18L492.50,870.11L492.75,871.03L493.00,871.96L493.25,872.88L493.50,873.81L493.75,874.73L494.00,875.65L494.25,876.57L494.50,877.49L494.75,878.41L495.00,879.33L495.25,880.24L495.50,881.16L495.75,882.07L496.00,882.98L496.25,883.89L496.50,884.80L496.75,885.71L497.00,886.62L497.25,887.52L497.50,888.43L497.75,889.33L498.00,890.23L498.25,891.12L498.50,892.02L498.75,892.91L499.00,893.80L499.25,894.69L499.50,895.58L499.75,896.46L500.00,897.34L500.25,898.22L500.50,899.10L500.75,899.98L501.00,900.85L501.25,901.72L501.50,902.58L501.75,903.45L502.00,904.31L502.25,905.17L502.50,906.02L502.75,906.87L503.00,907.72L503.25,908.57L503.50,909.41L503.75,910.25L504.00,911.09L504.25,911.92L504.50,912.75L504.75,913.57L505.00,914.39L505.25,915.21L505.50,916.03L505.75,916.84L506.00,917.64L506.25,918.45L506.50,919.25L506.75,920.04L507.00,920.83L507.25,921.62L507.50,922.40L507.75,923.18L508.00,923.95L508.25,924.72L508.50,925.49L508.75,926.25L509.00,927.00L509.25,927.75L509.50,928.50L509.75,929.24L510.00,929.98L510.25,930.71L510.50,931.44L510.75,932.16L511.00,932.87L511.25,933.58L511.50,934.29L511.75,934.99L512.00,935.69L512.25,936.38L512.50,937.06L512.75,937.74L513.00,938.42L513.25,939.08L513.50,939.75L513.75,940.40L514.00,941.05L514.25,941.70L514.50,942.34L514.75,942.97L515.00,943.60L515.25,944.22L515.50,944.83L515.75,945.44L516.00,946.04L516.25,946.64L516.50,947.22L516.75,947.81L517.00,948.38L517.25,948.95L517.50,949.51L517.75,950.07L518.00,950.62L518.25,951.16L518.50,951.69L518.75,952.22L519.00,952.74L519.25,953.26L519.50,953.76L519.75,954.26L520.00,954.75L520.25,955.24L520.50,955.72L520.75,956.19L521.00,956.65L521.25,957.10L521.50,957.55L521.75,957.99L522.00,958.42L522.25,958.84L522.50,959.26L522.75,959.66L523.00,960.06L523.25,960.46L523.50,960.84L523.75,961.22L524.00,961.58L524.25,961.95L524.50,962.30L524.75,962.64L525.00,962.98L525.25,963.31L525.50,963.63L525.75,963.95L526.00,964.26L526.25,964.56L526.50,964.85L526.75,965.13L527.00,965.41L527.25,965.68L527.50,965.94L527.75,966.19L528.00,966.44L528.25,966.68L528.50,966.91L528.75,967.13L529.00,967.35L529.25,967.56L529.50,967.76L529.75,967.95L530.00,968.14L530.25,968.32L530.50,968.49L530.75,968.65L531.00,968.81L531.25,968.96L531.50,969.10L531.75,969.23L532.00,969.36L532.25,969.48L532.50,969.59L532.75,969.69L533.00,969.79L533.25,969.88L533.50,969.96L533.75,970.04L534.00,970.11L534.25,970.17L534.50,970.22L534.75,970.27L535.00,970.31L535.25,970.34L535.50,970.37L535.75,970.38L536.00,970.39L536.25,970.40L536.50,970.39L536.75,970.38L537.00,970.36L537.25,970.34L537.50,970.30L537.75,970.26L538.00,970.22L538.25,970.16L538.50,970.10L538.75,970.04L539.00,969.96L539.25,969.88L539.50,969.79L539.75,969.69L540.00,969.59L540.25,969.48L540.50,969.36L540.75,969.24L541.00,969.11L541.25,968.97L541.50,968.82L541.75,968.67L542.00,968.51L542.25,968.35L542.50,968.18L542.75,968.00L543.00,967.81L543.25,967.62L543.50,967.42L543.75,967.21L544.00,967.00L544.25,966.78L544.50,966.55L544.75,966.31L545.00,966.07L545.25,965.83L545.50,965.57L545.75,965.31L546.00,965.04L546.25,964.77L546.50,964.49L546.75,964.20L547.00,963.90L547.25,963.60L547.50,963.30L547.75,962.98L548.00,962.66L548.25,962.33L548.50,962.00L548.75,961.66L549.00,961.31L549.25,960.96L549.50,960.59L549.75,960.23L550.00,959.85L550.25,959.47L550.50,959.09L550.75,958.69L551.00,958.29L551.25,957.89L551.50,957.47L551.75,957.05L552.00,956.63L552.25,956.20L552.50,955.76L552.75,955.31L553.00,954.86L553.25,954.40L553.50,953.94L553.75,953.47L554.00,952.99L554.25,952.51L554.50,952.02L554.75,951.52L555.00,951.02L555.25,950.51L555.50,950.00L555.75,949.48L556.00,948.95L556.25,948.42L556.50,947.88L556.75,947.33L557.00,946.78L557.25,946.22L557.50,945.66L557.75,945.09L558.00,944.51L558.25,943.93L558.50,943.34L558.75,942.74L559.00,942.14L559.25,941.53L559.50,940.92L559.75,940.30L560.00,939.67L560.25,939.04L560.50,938.40L560.75,937.76L561.00,937.11L561.25,936.45L561.50,935.79L561.75,935.12L562.00,934.45L562.25,933.77L562.50,933.08L562.75,932.39L563.00,931.69L563.25,930.99L563.50,930.28L563.75,929.56L564.00,928.84L564.25,928.12L564.50,927.38L564.75,926.64L565.00,925.90L565.25,925.15L565.50,924.39L565.75,923.63L566.00,922.86L566.25,922.09L566.50,921.31L566.75,920.52L567.00,919.73L567.25,918.93L567.50,918.13L567.75,917.32L568.00,916.51L568.25,915.69L568.50,914.87L568.75,914.04L569.00,913.20L569.25,912.36L569.50,911.51L569.75,910.66L570.00,909.80L570.25,908.94L570.50,908.07L570.75,907.20L571.00,906.32L571.25,905.44L571.50,904.55L571.75,903.65L572.00,902.76L572.25,901.85L572.50,900.94L572.75,900.03L573.00,899.11L573.25,898.19L573.50,897.26L573.75,896.33L574.00,895.40L574.25,894.45L574.50,893.51L574.75,892.56L575.00,891.60L575.25,890.64L575.50,889.68L575.75,888.71L576.00,887.74L576.25,886.76L576.50,885.78L576.75,884.80L577.00,883.81L577.25,882.81L577.50,881.82L577.75,880.82L578.00,879.81L578.25,878.80L578.50,877.79L578.75,876.77L579.00,875.75L579.25,874.72L579.50,873.70L579.75,872.66L580.00,871.63L580.25,870.59L580.50,869.54L580.75,868.50L581.00,867.45L581.25,866.39L581.50,865.34L581.75,864.28L582.00,863.21L582.25,862.14L582.50,861.07L582.75,860.00L583.00,858.92L583.25,857.84L583.50,856.76L583.75,855.67L584.00,854.59L584.25,853.49L584.50,852.40L584.75,851.30L585.00,850.20L585.25,849.10L585.50,847.99L585.75,846.88L586.00,845.77L586.25,844.65L586.50,843.54L586.75,842.42L587.00,841.30L587.25,840.17L587.50,839.04L587.75,837.91L588.00,836.78L588.25,835.65L588.50,834.51L588.75,833.37L589.00,832.23L589.25,831.09L589.50,829.94L589.75,828.80L590.00,827.65L590.25,826.49L590.50,825.34L590.75,824.19L591.00,823.03L591.25,821.87L591.50,820.71L591.75,819.55L592.00,818.38L592.25,817.22L592.50,816.05L592.75,814.88L593.00,813.71L593.25,812.54L593.50,811.36L593.75,810.19L594.00,809.01L594.25,807.83L594.50,806.65L594.75,805.47L595.00,804.29L595.25,803.11L595.50,801.93L595.75,800.74L596.00,799.55L596.25,798.37L596.50,797.18L596.75,795.99L597.00,794.80L597.25,793.61L597.50,792.42L597.75,791.23L598.00,790.03L598.25,788.84L598.50,787.64L598.75,786.45L599.00,785.25L599.25,784.06L599.50,782.86L599.75,781.66L600.00,780.47L600.25,779.27L600.50,778.07L600.75,776.87L601.00,775.67L601.25,774.47L601.50,773.27L601.75,772.07L602.00,770.87L602.25,769.68L602.50,768.48L602.75,767.28L603.00,766.08L603.25,764.88L603.50,763.68L603.75,762.48L604.00,761.28L604.25,760.08L604.50,758.89L604.75,757.69L605.00,756.49L605.25,755.29L605.50,754.10L605.75,752.90L606.00,751.71L606.25,750.51L606.50,749.32L606.75,748.13L607.00,746.93L607.25,745.74L607.50,744.55L607.75,743.36L608.00,742.17L608.25,740.98L608.50,739.80L608.75,738.61L609.00,737.43L609.25,736.24L609.50,735.06L609.75,733.88L610.00,732.70L610.25,731.52L610.50,730.34L610.75,729.16L611.00,727.99L611.25,726.82L611.50,725.64L611.75,724.47L612.00,723.31L612.25,722.14L612.50,720.97L612.75,719.81L613.00,718.65L613.25,717.49L613.50,716.33L613.75,715.17L614.00,714.02L614.25,712.86L614.50,711.71L614.75,710.56L615.00,709.42L615.25,708.27L615.50,707.13L615.75,705.99L616.00,704.85L616.25,703.71L616.50,702.58L616.75,701.45L617.00,700.32L617.25,699.19L617.50,698.07L617.75,696.95L618.00,695.83L618.25,694.71L618.50,693.60L618.75,692.49L619.00,691.38L619.25,690.28L619.50,689.17L619.75,688.07L620.00,686.98L620.25,685.88L620.50,684.79L620.75,683.70L621.00,682.62L621.25,681.54L621.50,680.46L621.75,679.38L622.00,678.31L622.25,677.24L622.50,676.17L622.75,675.11L623.00,674.05L623.25,673.00L623.50,671.95L623.75,670.90L624.00,669.85L624.25,668.81L624.50,667.77L624.75,666.74L625.00,665.71L625.25,664.68L625.50,663.66L625.75,662.64L626.00,661.62L626.25,660.61L626.50,659.60L626.75,658.60L627.00,657.60L627.25,656.61L627.50,655.61L627.75,654.63L628.00,653.64L628.25,652.67L628.50,651.69L628.75,650.72L629.00,649.76L629.25,648.80L629.50,647.84L629.75,646.89L630.00,645.94L630.25,645.00L630.50,644.06L630.75,643.12L631.00,642.19L631.25,641.27L631.50,640.35L631.75,639.43L632.00,638.52L632.25,637.62L632.50,636.72L632.75,635.82L633.00,634.93L633.25,634.05L633.50,633.17L633.75,632.30L634.00,631.43L634.25,630.56L634.50,629.70L634.75,628.85L635.00,628.00L635.25,627.16L635.50,626.32L635.75,625.49L636.00,624.66L636.25,623.84L636.50,623.02L636.75,622.22L637.00,621.41L637.25,620.61L637.50,619.82L637.75,619.03L638.00,618.25L638.25,617.48L638.50,616.71L638.75,615.95L639.00,615.19L639.25,614.44L639.50,613.69L639.75,612.95L640.00,612.22L640.25,611.49L640.50,610.77L640.75,610.06L641.00,609.35L641.25,608.65L641.50,607.95L641.75,607.26L642.00,606.58L642.25,605.90L642.50,605.23L642.75,604.57L643.00,603.91L643.25,603.25L643.50,602.61L643.75,601.97L644.00,601.33L644.25,600.70L644.50,600.08L644.75,599.47L645.00,598.86L645.25,598.25L645.50,597.65L645.75,597.06L646.00,596.48L646.25,595.90L646.50,595.33L646.75,594.76L647.00,594.20L647.25,593.65L647.50,593.10L647.75,592.56L648.00,592.02L648.25,591.49L648.50,590.97L648.75,590.45L649.00,589.94L649.25,589.44L649.50,588.94L649.75,588.45L650.00,587.96L650.25,587.48L650.50,587.01L650.75,586.54L651.00,586.08L651.25,585.63L651.50,585.18L651.75,584.74L652.00,584.30L652.25,583.88L652.50,583.45L652.75,583.04L653.00,582.63L653.25,582.22L653.50,581.83L653.75,581.43L654.00,581.05L654.25,580.67L654.50,580.30L654.75,579.93L655.00,579.57L655.25,579.22L655.50,578.87L655.75,578.53L656.00,578.20L656.25,577.87L656.50,577.55L656.75,577.23L657.00,576.93L657.25,576.62L657.50,576.33L657.75,576.04L658.00,575.76L658.25,575.48L658.50,575.21L658.75,574.94L659.00,574.69L659.25,574.44L659.50,574.19L659.75,573.95L660.00,573.72L660.25,573.49L660.50,573.28L660.75,573.06L661.00,572.86L661.25,572.66L661.50,572.46L661.75,572.28L662.00,572.10L662.25,571.92L662.50,571.75L662.75,571.59L663.00,571.44L663.25,571.29L663.50,571.15L663.75,571.01L664.00,570.88L664.25,570.76L664.50,570.65L664.75,570.54L665.00,570.43L665.25,570.34L665.50,570.25L665.75,570.16L666.00,570.09L666.25,570.02L666.50,569.95L666.75,569.89L667.00,569.84L667.25,569.80L667.50,569.76L667.75,569.73L668.00,569.71L668.25,569.69L668.50,569.68L668.75,569.67L669.00,569.67L669.25,569.68L669.50,569.69L669.75,569.72L670.00,569.74L670.25,569.78L670.50,569.82L670.75,569.87L671.00,569.92L671.25,569.98L671.50,570.05L671.75,570.12L672.00,570.20L672.25,570.29L672.50,570.38L672.75,570.48L673.00,570.59L673.25,570.70L673.50,570.82L673.75,570.95L674.00,571.08L674.25,571.22L674.50,571.37L674.75,571.52L675.00,571.68L675.25,571.85L675.50,572.02L675.75,572.20L676.00,572.39L676.25,572.58L676.50,572.78L676.75,572.99L677.00,573.20L677.25,573.42L677.50,573.65L677.75,573.88L678.00,574.12L678.25,574.37L678.50,574.62L678.75,574.88L679.00,575.15L679.25,575.42L679.50,575.70L679.75,575.99L680.00,576.28L680.25,576.58L680.50,576.89L680.75,577.20L681.00,577.52L681.25,577.85L681.50,578.19L681.75,578.53L682.00,578.87L682.25,579.23L682.50,579.59L682.75,579.96L683.00,580.33L683.25,580.71L683.50,581.10L683.75,581.50L684.00,581.90L684.25,582.31L684.50,582.72L684.75,583.14L685.00,583.57L685.25,584.00L685.50,584.45L685.75,584.89L686.00,585.35L686.25,585.81L686.50,586.27L686.75,586.75L687.00,587.23L687.25,587.71L687.50,588.21L687.75,588.71L688.00,589.21L688.25,589.72L688.50,590.24L688.75,590.76L689.00,591.29L689.25,591.83L689.50,592.37L689.75,592.92L690.00,593.48L690.25,594.04L690.50,594.60L690.75,595.18L691.00,595.75L691.25,596.34L691.50,596.93L691.75,597.53L692.00,598.13L692.25,598.74L692.50,599.35L692.75,599.97L693.00,600.60L693.25,601.23L693.50,601.87L693.75,602.51L694.00,603.16L694.25,603.81L694.50,604.47L694.75,605.14L695.00,605.81L695.25,606.49L695.50,607.17L695.75,607.86L696.00,608.55L696.25,609.25L696.50,609.95L696.75,610.66L697.00,611.38L697.25,612.10L697.50,612.82L697.75,613.55L698.00,614.29L698.25,615.03L698.50,615.78L698.75,616.53L699.00,617.29L699.25,618.05L699.50,618.82L699.75,619.59L700.00,620.37L700.25,621.15L700.50,621.94L700.75,622.73L701.00,623.53L701.25,624.34L701.50,625.14L701.75,625.96L702.00,626.77L702.25,627.60L702.50,628.42L702.75,629.26L703.00,630.09L703.25,630.94L703.50,631.78L703.75,632.63L704.00,633.49L704.25,634.35L704.50,635.22L704.75,636.09L705.00,636.96L705.25,637.84L705.50,638.73L705.75,639.61L706.00,640.51L706.25,641.40L706.50,642.31L706.75,643.21L707.00,644.12L707.25,645.04L707.50,645.96L707.75,646.88L708.00,647.81L708.25,648.74L708.50,649.68L708.75,650.62L709.00,651.56L709.25,652.51L709.50,653.47L709.75,654.42L710.00,655.39L710.25,656.35L710.50,657.32L710.75,658.29L711.00,659.27L711.25,660.25L711.50,661.24L711.75,662.23L712.00,663.22L712.25,664.22L712.50,665.22L712.75,666.23L713.00,667.24L713.25,668.25L713.50,669.27L713.75,670.29L714.00,671.31L714.25,672.34L714.50,673.37L714.75,674.40L715.00,675.44L715.25,676.48L715.50,677.53L715.75,678.58L716.00,679.63L716.25,680.69L716.50,681.75L716.75,682.81L717.00,683.88L717.25,684.95L717.50,686.02L717.75,687.10L718.00,688.18L718.25,689.26L718.50,690.35L718.75,691.44L719.00,692.53L719.25,693.63L719.50,694.72L719.75,695.83L720.00,696.93L720.25,698.04L720.50,699.15L720.75,700.27L721.00,701.39L721.25,702.51L721.50,703.63L721.75,704.76L722.00,705.89L722.25,707.02L722.50,708.15L722.75,709.29L723.00,710.43L723.25,711.58L723.50,712.72L723.75,713.87L724.00,715.02L724.25,716.18L724.50,717.34L724.75,718.50L725.00,719.66L725.25,720.82L725.50,721.99L725.75,723.16L726.00,724.34L726.25,725.51L726.50,726.69L726.75,727.87L727.00,729.05L727.25,730.24L727.50,731.42L727.75,732.61L728.00,733.81L728.25,735.00L728.50,736.20L728.75,737.40L729.00,738.60L729.25,739.80L729.50,741.01L729.75,742.21L730.00,743.42L730.25,744.64L730.50,745.85L730.75,747.07L731.00,748.28L731.25,749.50L731.50,750.73L731.75,751.95L732.00,753.18L732.25,754.40L732.50,755.63L732.75,756.86L733.00,758.10L733.25,759.33L733.50,760.57L733.75,761.81L734.00,763.05L734.25,764.29L734.50,765.53L734.75,766.78L735.00,768.03L735.25,769.28L735.50,770.53L735.75,771.78L736.00,773.03L736.25,774.29L736.50,775.54L736.75,776.80L737.00,778.06L737.25,779.32L737.50,780.58L737.75,781.84L738.00,783.11L738.25,784.37L738.50,785.64L738.75,786.91L739.00,788.18L739.25,789.45L739.50,790.72L739.75,792.00L740.00,793.27L740.25,794.55L740.50,795.82L740.75,797.10L741.00,798.38L741.25,799.66L741.50,800.94L741.75,802.22L742.00,803.50L742.25,804.79L742.50,806.07L742.75,807.35L743.00,808.64L743.25,809.93L743.50,811.21L743.75,812.50L744.00,813.79L744.25,815.08L744.50,816.37L744.75,817.66L745.00,818.95L745.25,820.25L745.50,821.54L745.75,822.83L746.00,824.13L746.25,825.42L746.50,826.72L746.75,828.01L747.00,829.31L747.25,830.60L747.50,831.90L747.75,833.20L748.00,834.49L748.25,835.79L748.50,837.09L748.75,838.39L749.00,839.69L749.25,840.99L749.50,842.28L749.75,843.58L750.00,844.88" stroke="#7b858c" stroke-width="2.9"/>
<path d="M138.30,806.85L138.55,807.87L138.80,808.86L139.05,809.82L139.30,810.76L139.55,811.67L139.80,812.55L140.05,813.40L140.30,814.23L140.55,815.04L140.80,815.81L141.05,816.57L141.30,817.30L141.55,818.01L141.80,818.70L142.05,819.36L142.30,820.01L142.55,820.63L142.80,821.24L143.05,821.82L143.30,822.39L143.55,822.94L143.80,823.47L144.05,823.98L144.30,824.48L144.55,824.96L144.80,825.43L145.05,825.89L145.30,826.32L145.55,826.75L145.80,827.16L146.05,827.57L146.30,827.96L146.55,828.33L146.80,828.70L147.05,829.06L147.30,829.41L147.55,829.75L147.80,830.09L148.05,830.41L148.30,830.73L148.55,831.04L148.80,831.35L149.05,831.65L149.30,831.94L149.55,832.23L149.80,832.51L150.05,832.79L150.30,833.05L150.55,833.32L150.80,833.57L151.05,833.83L151.30,834.07L151.55,834.31L151.80,834.55L152.05,834.78L152.30,835.00L152.55,835.22L152.80,835.44L153.05,835.65L153.30,835.86L153.55,836.06L153.80,836.26L154.05,836.45L154.30,836.64L154.55,836.83L154.80,837.01L155.05,837.19L155.30,837.36L155.55,837.53L155.80,837.70L156.05,837.86L156.30,838.02L156.55,838.18L156.80,838.33L157.05,838.49L157.30,838.63L157.55,838.78L157.80,838.92L158.05,839.07L158.30,839.21L158.55,839.34L158.80,839.48L159.05,839.61L159.30,839.74L159.55,839.87L159.80,840.00L160.05,840.12L160.30,840.25L160.55,840.37L160.80,840.50L161.05,840.62L161.30,840.74L161.55,840.86L161.80,840.98L162.05,841.09L162.30,841.21L162.55,841.33L162.80,841.45L163.05,841.56L163.30,841.68L163.55,841.80L163.80,841.92L164.05,842.03L164.30,842.15L164.55,842.27L164.80,842.39L165.05,842.51L165.30,842.63L165.55,842.75L165.80,842.88L166.05,843.00L166.30,843.13L166.55,843.25L166.80,843.38L167.05,843.51L167.30,843.64L167.55,843.78L167.80,843.91L168.05,844.05L168.30,844.19L168.55,844.33L168.80,844.47L169.05,844.61L169.30,844.76L169.55,844.90L169.80,845.05L170.05,845.20L170.30,845.35L170.55,845.50L170.80,845.65L171.05,845.81L171.30,845.96L171.55,846.12L171.80,846.28L172.05,846.44L172.30,846.60L172.55,846.77L172.80,846.93L173.05,847.10L173.30,847.26L173.55,847.43L173.80,847.60L174.05,847.78L174.30,847.95L174.55,848.12L174.80,848.30L175.05,848.48L175.30,848.65L175.55,848.83L175.80,849.02L176.05,849.20L176.30,849.38L176.55,849.57L176.80,849.75L177.05,849.94L177.30,850.13L177.55,850.32L177.80,850.51L178.05,850.71L178.30,850.90L178.55,851.09L178.80,851.29L179.05,851.49L179.30,851.69L179.55,851.89L179.80,852.09L180.05,852.29L180.30,852.50L180.55,852.70L180.80,852.91L181.05,853.12L181.30,853.32L181.55,853.53L181.80,853.74L182.05,853.96L182.30,854.17L182.55,854.38L182.80,854.60L183.05,854.82L183.30,855.03L183.55,855.25L183.80,855.47L184.05,855.69L184.30,855.92L184.55,856.14L184.80,856.36L185.05,856.59L185.30,856.82L185.55,857.04L185.80,857.27L186.05,857.50L186.30,857.73L186.55,857.96L186.80,858.20L187.05,858.43L187.30,858.66L187.55,858.90L187.80,859.14L188.05,859.37L188.30,859.61L188.55,859.85L188.80,860.09L189.05,860.33L189.30,860.58L189.55,860.82L189.80,861.06L190.05,861.31L190.30,861.55L190.55,861.80L190.80,862.05L191.05,862.30L191.30,862.55L191.55,862.80L191.80,863.05L192.05,863.30L192.30,863.55L192.55,863.81L192.80,864.06L193.05,864.32L193.30,864.57L193.55,864.83L193.80,865.09L194.05,865.35L194.30,865.61L194.55,865.87L194.80,866.13L195.05,866.39L195.30,866.65L195.55,866.92L195.80,867.18L196.05,867.45L196.30,867.71L196.55,867.98L196.80,868.25L197.05,868.51L197.30,868.78L197.55,869.05L197.80,869.32L198.05,869.59L198.30,869.86L198.55,870.14L198.80,870.41L199.05,870.68L199.30,870.96L199.55,871.23L199.80,871.50L200.05,871.78L200.30,872.06L200.55,872.33L200.80,872.61L201.05,872.89L201.30,873.17L201.55,873.45L201.80,873.73L202.05,874.01L202.30,874.29L202.55,874.57L202.80,874.85L203.05,875.14L203.30,875.42L203.55,875.70L203.80,875.99L204.05,876.27L204.30,876.56L204.55,876.85L204.80,877.13L205.05,877.42L205.30,877.71L205.55,878.00L205.80,878.29L206.05,878.58L206.30,878.87L206.55,879.16L206.80,879.45L207.05,879.75L207.30,880.04L207.55,880.33L207.80,880.63L208.05,880.93L208.30,881.23L208.55,881.52L208.80,881.82L209.05,882.12L209.30,882.43L209.55,882.73L209.80,883.03L210.05,883.34L210.30,883.64L210.55,883.95L210.80,884.26L211.05,884.57L211.30,884.88L211.55,885.19L211.80,885.50L212.05,885.81L212.30,886.13L212.55,886.45L212.80,886.76L213.05,887.08L213.30,887.40L213.55,887.72L213.80,888.05L214.05,888.37L214.30,888.70L214.55,889.02L214.80,889.35L215.05,889.68L215.30,890.01L215.55,890.35L215.80,890.68L216.05,891.02L216.30,891.36L216.55,891.70L216.80,892.04L217.05,892.38L217.30,892.72L217.55,893.07L217.80,893.42L218.05,893.76L218.30,894.12L218.55,894.47L218.80,894.82L219.05,895.18L219.30,895.54L219.55,895.90L219.80,896.26L220.05,896.62L220.30,896.99L220.55,897.35L220.80,897.72L221.05,898.09L221.30,898.47L221.55,898.84L221.80,899.22L222.05,899.60L222.30,899.98L222.55,900.36L222.80,900.75L223.05,901.14L223.30,901.53L223.55,901.92L223.80,902.31L224.05,902.71L224.30,903.11L224.55,903.51L224.80,903.91L225.05,904.31L225.30,904.72L225.55,905.13L225.80,905.54L226.05,905.96L226.30,906.37L226.55,906.79L226.80,907.22L227.05,907.64L227.30,908.07L227.55,908.49L227.80,908.93L228.05,909.36L228.30,909.80L228.55,910.24L228.80,910.68L229.05,911.12L229.30,911.57L229.55,912.02L229.80,912.47L230.05,912.92L230.30,913.38L230.55,913.84L230.80,914.30L231.05,914.76L231.30,915.23L231.55,915.70L231.80,916.17L232.05,916.64L232.30,917.11L232.55,917.59L232.80,918.06L233.05,918.54L233.30,919.02L233.55,919.50L233.80,919.98L234.05,920.47L234.30,920.95L234.55,921.43L234.80,921.92L235.05,922.41L235.30,922.89L235.55,923.38L235.80,923.87L236.05,924.36L236.30,924.85L236.55,925.34L236.80,925.83L237.05,926.32L237.30,926.81L237.55,927.30L237.80,927.79L238.05,928.29L238.30,928.78L238.55,929.27L238.80,929.76L239.05,930.24L239.30,930.73L239.55,931.22L239.80,931.71L240.05,932.20L240.30,932.68L240.55,933.17L240.80,933.65L241.05,934.13L241.30,934.61L241.55,935.09L241.80,935.57L242.05,936.05L242.30,936.53L242.55,937.00L242.80,937.47L243.05,937.94L243.30,938.41L243.55,938.88L243.80,939.35L244.05,939.81L244.30,940.27L244.55,940.73L244.80,941.19L245.05,941.64L245.30,942.10L245.55,942.55L245.80,943.00L246.05,943.45L246.30,943.89L246.55,944.33L246.80,944.77L247.05,945.21L247.30,945.65L247.55,946.08L247.80,946.51L248.05,946.94L248.30,947.36L248.55,947.79L248.80,948.21L249.05,948.63L249.30,949.04L249.55,949.45L249.80,949.86L250.05,950.27L250.30,950.67L250.55,951.07L250.80,951.47L251.05,951.86L251.30,952.26L251.55,952.64L251.80,953.03L252.05,953.41L252.30,953.79L252.55,954.17L252.80,954.54L253.05,954.91L253.30,955.28L253.55,955.64L253.80,956.00L254.05,956.35L254.30,956.71L254.55,957.05L254.80,957.40L255.05,957.74L255.30,958.08L255.55,958.41L255.80,958.74L256.05,959.07L256.30,959.39L256.55,959.71L256.80,960.03L257.05,960.34L257.30,960.64L257.55,960.95L257.80,961.25L258.05,961.54L258.30,961.83L258.55,962.12L258.80,962.40L259.05,962.68L259.30,962.95L259.55,963.22L259.80,963.49L260.05,963.75L260.30,964.00L260.55,964.25L260.80,964.50L261.05,964.74L261.30,964.98L261.55,965.22L261.80,965.44L262.05,965.67L262.30,965.89L262.55,966.10L262.80,966.31L263.05,966.51L263.30,966.71L263.55,966.91L263.80,967.10L264.05,967.28L264.30,967.46L264.55,967.64L264.80,967.81L265.05,967.97L265.30,968.13L265.55,968.28L265.80,968.43L266.05,968.57L266.30,968.71L266.55,968.84L266.80,968.97L267.05,969.09L267.30,969.21L267.55,969.32L267.80,969.42L268.05,969.52L268.30,969.62L268.55,969.70L268.80,969.79L269.05,969.86L269.30,969.94L269.55,970.00L269.80,970.06L270.05,970.12L270.30,970.17L270.55,970.21L270.80,970.25L271.05,970.28L271.30,970.31L271.55,970.33L271.80,970.34L272.05,970.35L272.30,970.35L272.55,970.35L272.80,970.34L273.05,970.33L273.30,970.30L273.55,970.28L273.80,970.25L274.05,970.21L274.30,970.16L274.55,970.11L274.80,970.05L275.05,969.99L275.30,969.92L275.55,969.84L275.80,969.76L276.05,969.68L276.30,969.58L276.55,969.48L276.80,969.37L277.05,969.26L277.30,969.14L277.55,969.02L277.80,968.88L278.05,968.74L278.30,968.60L278.55,968.45L278.80,968.29L279.05,968.13L279.30,967.95L279.55,967.78L279.80,967.59L280.05,967.40L280.30,967.21L280.55,967.00L280.80,966.79L281.05,966.57L281.30,966.35L281.55,966.12L281.80,965.88L282.05,965.64L282.30,965.39L282.55,965.13L282.80,964.87L283.05,964.59L283.30,964.32L283.55,964.03L283.80,963.74L284.05,963.44L284.30,963.13L284.55,962.82L284.80,962.50L285.05,962.17L285.30,961.84L285.55,961.50L285.80,961.15L286.05,960.80L286.30,960.44L286.55,960.07L286.80,959.70L287.05,959.32L287.30,958.93L287.55,958.54L287.80,958.14L288.05,957.73L288.30,957.32L288.55,956.90L288.80,956.47L289.05,956.04L289.30,955.60L289.55,955.16L289.80,954.70L290.05,954.25L290.30,953.78L290.55,953.31L290.80,952.83L291.05,952.35L291.30,951.86L291.55,951.37L291.80,950.87L292.05,950.36L292.30,949.85L292.55,949.33L292.80,948.80L293.05,948.27L293.30,947.73L293.55,947.19L293.80,946.64L294.05,946.09L294.30,945.52L294.55,944.96L294.80,944.39L295.05,943.81L295.30,943.22L295.55,942.63L295.80,942.04L296.05,941.44L296.30,940.83L296.55,940.22L296.80,939.60L297.05,938.98L297.30,938.35L297.55,937.72L297.80,937.08L298.05,936.43L298.30,935.78L298.55,935.13L298.80,934.47L299.05,933.80L299.30,933.13L299.55,932.45L299.80,931.77L300.05,931.08L300.30,930.39L300.55,929.69L300.80,928.99L301.05,928.28L301.30,927.57L301.55,926.85L301.80,926.13L302.05,925.40L302.30,924.67L302.55,923.93L302.80,923.19L303.05,922.44L303.30,921.69L303.55,920.93L303.80,920.17L304.05,919.40L304.30,918.63L304.55,917.86L304.80,917.08L305.05,916.29L305.30,915.50L305.55,914.71L305.80,913.91L306.05,913.10L306.30,912.30L306.55,911.48L306.80,910.67L307.05,909.85L307.30,909.02L307.55,908.19L307.80,907.36L308.05,906.52L308.30,905.67L308.55,904.83L308.80,903.98L309.05,903.12L309.30,902.26L309.55,901.40L309.80,900.53L310.05,899.66L310.30,898.78L310.55,897.90L310.80,897.02L311.05,896.13L311.30,895.24L311.55,894.34L311.80,893.44L312.05,892.54L312.30,891.63L312.55,890.72L312.80,889.80L313.05,888.88L313.30,887.96L313.55,887.04L313.80,886.11L314.05,885.17L314.30,884.23L314.55,883.29L314.80,882.35L315.05,881.40L315.30,880.45L315.55,879.50L315.80,878.54L316.05,877.58L316.30,876.61L316.55,875.64L316.80,874.67L317.05,873.70L317.30,872.72L317.55,871.74L317.80,870.75L318.05,869.76L318.30,868.77L318.55,867.78L318.80,866.78L319.05,865.78L319.30,864.78L319.55,863.77L319.80,862.76L320.05,861.75L320.30,860.73L320.55,859.71L320.80,858.69L321.05,857.67L321.30,856.64L321.55,855.61L321.80,854.58L322.05,853.54L322.30,852.51L322.55,851.47L322.80,850.42L323.05,849.38L323.30,848.33L323.55,847.28L323.80,846.22L324.05,845.17L324.30,844.11L324.55,843.05L324.80,841.98L325.05,840.92L325.30,839.85L325.55,838.78L325.80,837.71L326.05,836.63L326.30,835.55L326.55,834.47L326.80,833.39L327.05,832.31L327.30,831.22L327.55,830.13L327.80,829.04L328.05,827.95L328.30,826.85L328.55,825.76L328.80,824.66L329.05,823.56L329.30,822.45L329.55,821.35L329.80,820.24L330.05,819.13L330.30,818.02L330.55,816.91L330.80,815.80L331.05,814.68L331.30,813.56L331.55,812.45L331.80,811.32L332.05,810.20L332.30,809.08L332.55,807.95L332.80,806.83L333.05,805.70L333.30,804.57L333.55,803.44L333.80,802.30L334.05,801.17L334.30,800.03L334.55,798.90L334.80,797.76L335.05,796.62L335.30,795.48L335.55,794.33L335.80,793.19L336.05,792.05L336.30,790.90L336.55,789.75L336.80,788.60L337.05,787.45L337.30,786.30L337.55,785.15L337.80,784.00L338.05,782.85L338.30,781.69L338.55,780.54L338.80,779.38L339.05,778.23L339.30,777.07L339.55,775.91L339.80,774.75L340.05,773.59L340.30,772.43L340.55,771.27L340.80,770.11L341.05,768.94L341.30,767.78L341.55,766.62L341.80,765.45L342.05,764.29L342.30,763.12L342.55,761.95L342.80,760.79L343.05,759.62L343.30,758.45L343.55,757.29L343.80,756.12L344.05,754.95L344.30,753.78L344.55,752.61L344.80,751.44L345.05,750.28L345.30,749.11L345.55,747.94L345.80,746.77L346.05,745.60L346.30,744.43L346.55,743.26L346.80,742.09L347.05,740.92L347.30,739.75L347.55,738.58L347.80,737.41L348.05,736.24L348.30,735.07L348.55,733.90L348.80,732.73L349.05,731.57L349.30,730.40L349.55,729.23L349.80,728.06L350.05,726.89L350.30,725.73L350.55,724.56L350.80,723.40L351.05,722.23L351.30,721.07L351.55,719.90L351.80,718.74L352.05,717.58L352.30,716.41L352.55,715.25L352.80,714.09L353.05,712.94L353.30,711.78L353.55,710.62L353.80,709.47L354.05,708.31L354.30,707.16L354.55,706.01L354.80,704.86L355.05,703.71L355.30,702.56L355.55,701.42L355.80,700.27L356.05,699.13L356.30,697.99L356.55,696.85L356.80,695.72L357.05,694.58L357.30,693.45L357.55,692.32L357.80,691.19L358.05,690.07L358.30,688.94L358.55,687.82L358.80,686.70L359.05,685.58L359.30,684.47L359.55,683.36L359.80,682.25L360.05,681.14L360.30,680.04L360.55,678.94L360.80,677.84L361.05,676.74L361.30,675.65L361.55,674.56L361.80,673.47L362.05,672.39L362.30,671.31L362.55,670.23L362.80,669.16L363.05,668.09L363.30,667.02L363.55,665.96L363.80,664.90L364.05,663.84L364.30,662.79L364.55,661.74L364.80,660.70L365.05,659.65L365.30,658.62L365.55,657.58L365.80,656.55L366.05,655.53L366.30,654.51L366.55,653.49L366.80,652.48L367.05,651.47L367.30,650.46L367.55,649.46L367.80,648.47L368.05,647.47L368.30,646.49L368.55,645.50L368.80,644.53L369.05,643.55L369.30,642.59L369.55,641.62L369.80,640.66L370.05,639.71L370.30,638.76L370.55,637.82L370.80,636.88L371.05,635.95L371.30,635.02L371.55,634.10L371.80,633.18L372.05,632.27L372.30,631.36L372.55,630.46L372.80,629.57L373.05,628.68L373.30,627.80L373.55,626.92L373.80,626.05L374.05,625.18L374.30,624.32L374.55,623.47L374.80,622.62L375.05,621.78L375.30,620.94L375.55,620.11L375.80,619.29L376.05,618.47L376.30,617.66L376.55,616.85L376.80,616.06L377.05,615.27L377.30,614.48L377.55,613.70L377.80,612.93L378.05,612.17L378.30,611.41L378.55,610.66L378.80,609.92L379.05,609.18L379.30,608.45L379.55,607.73L379.80,607.02L380.05,606.31L380.30,605.61L380.55,604.92L380.80,604.23L381.05,603.55L381.30,602.88L381.55,602.22L381.80,601.57L382.05,600.92L382.30,600.28L382.55,599.65L382.80,599.02L383.05,598.41L383.30,597.80L383.55,597.20L383.80,596.61L384.05,596.03L384.30,595.45L384.55,594.89L384.80,594.33L385.05,593.78L385.30,593.24L385.55,592.70L385.80,592.18L386.05,591.66L386.30,591.16L386.55,590.66L386.80,590.17L387.05,589.69L387.30,589.22L387.55,588.75L387.80,588.30L388.05,587.85L388.30,587.41L388.55,586.98L388.80,586.56L389.05,586.14L389.30,585.73L389.55,585.34L389.80,584.95L390.05,584.56L390.30,584.19L390.55,583.83L390.80,583.47L391.05,583.12L391.30,582.78L391.55,582.44L391.80,582.11L392.05,581.80L392.30,581.48L392.55,581.18L392.80,580.89L393.05,580.60L393.30,580.32L393.55,580.04L393.80,579.78L394.05,579.52L394.30,579.27L394.55,579.03L394.80,578.79L395.05,578.56L395.30,578.34L395.55,578.13L395.80,577.92L396.05,577.72L396.30,577.53L396.55,577.35L396.80,577.17L397.05,577.00L397.30,576.83L397.55,576.67L397.80,576.52L398.05,576.38L398.30,576.24L398.55,576.11L398.80,575.99L399.05,575.87L399.30,575.77L399.55,575.66L399.80,575.57L400.05,575.48L400.30,575.39L400.55,575.32L400.80,575.25L401.05,575.18L401.30,575.12L401.55,575.07L401.80,575.03L402.05,574.99L402.30,574.96L402.55,574.93L402.80,574.91L403.05,574.90L403.30,574.89L403.55,574.89L403.80,574.89L404.05,574.90L404.30,574.92L404.55,574.94L404.80,574.97L405.05,575.00L405.30,575.04L405.55,575.09L405.80,575.14L406.05,575.19L406.30,575.26L406.55,575.32L406.80,575.40L407.05,575.48L407.30,575.56L407.55,575.65L407.80,575.75L408.05,575.85L408.30,575.95L408.55,576.06L408.80,576.18L409.05,576.30L409.30,576.43L409.55,576.56L409.80,576.70L410.05,576.84L410.30,576.99L410.55,577.14L410.80,577.30L411.05,577.46L411.30,577.63L411.55,577.80L411.80,577.98L412.05,578.16L412.30,578.35L412.55,578.54L412.80,578.73L413.05,578.93L413.30,579.14L413.55,579.35L413.80,579.56L414.05,579.78L414.30,580.01L414.55,580.24L414.80,580.47L415.05,580.71L415.30,580.96L415.55,581.21L415.80,581.46L416.05,581.72L416.30,581.99L416.55,582.26L416.80,582.54L417.05,582.82L417.30,583.11L417.55,583.40L417.80,583.70L418.05,584.00L418.30,584.31L418.55,584.62L418.80,584.94L419.05,585.27L419.30,585.60L419.55,585.94L419.80,586.28L420.05,586.63L420.30,586.98L420.55,587.34L420.80,587.71L421.05,588.08L421.30,588.46L421.55,588.84L421.80,589.23L422.05,589.63L422.30,590.03L422.55,590.44L422.80,590.85L423.05,591.27L423.30,591.70L423.55,592.13L423.80,592.57L424.05,593.01L424.30,593.47L424.55,593.92L424.80,594.39L425.05,594.86L425.30,595.34L425.55,595.82L425.80,596.31L426.05,596.81L426.30,597.31L426.55,597.82L426.80,598.34L427.05,598.86L427.30,599.39L427.55,599.93L427.80,600.48L428.05,601.03L428.30,601.58L428.55,602.15L428.80,602.72L429.05,603.30L429.30,603.89L429.55,604.48L429.80,605.08L430.05,605.69L430.30,606.30L430.55,606.92L430.80,607.55L431.05,608.19L431.30,608.83L431.55,609.48L431.80,610.14L432.05,610.81L432.30,611.48L432.55,612.16L432.80,612.85L433.05,613.55L433.30,614.25L433.55,614.96L433.80,615.68L434.05,616.40L434.30,617.13L434.55,617.87L434.80,618.62L435.05,619.37L435.30,620.13L435.55,620.89L435.80,621.67L436.05,622.45L436.30,623.23L436.55,624.03L436.80,624.83L437.05,625.63L437.30,626.45L437.55,627.27L437.80,628.09L438.05,628.92L438.30,629.76L438.55,630.61L438.80,631.46L439.05,632.31L439.30,633.18L439.55,634.05L439.80,634.92L440.05,635.80L440.30,636.69L440.55,637.58L440.80,638.48L441.05,639.38L441.30,640.29L441.55,641.21L441.80,642.13L442.05,643.05L442.30,643.98L442.55,644.92L442.80,645.86L443.05,646.81L443.30,647.76L443.55,648.72L443.80,649.68L444.05,650.65L444.30,651.62L444.55,652.60L444.80,653.59L445.05,654.57L445.30,655.57L445.55,656.56L445.80,657.56L446.05,658.57L446.30,659.58L446.55,660.60L446.80,661.62L447.05,662.64L447.30,663.67L447.55,664.71L447.80,665.74L448.05,666.79L448.30,667.83L448.55,668.88L448.80,669.94L449.05,670.99L449.30,672.06L449.55,673.12L449.80,674.19L450.05,675.27L450.30,676.35L450.55,677.43L450.80,678.51L451.05,679.60L451.30,680.69L451.55,681.79L451.80,682.89L452.05,683.99L452.30,685.10L452.55,686.21L452.80,687.32L453.05,688.43L453.30,689.55L453.55,690.67L453.80,691.80L454.05,692.93L454.30,694.06L454.55,695.19L454.80,696.33L455.05,697.47L455.30,698.61L455.55,699.75L455.80,700.90L456.05,702.05L456.30,703.20L456.55,704.36L456.80,705.51L457.05,706.67L457.30,707.84L457.55,709.00L457.80,710.17L458.05,711.33L458.30,712.50L458.55,713.68L458.80,714.85L459.05,716.03L459.30,717.21L459.55,718.39L459.80,719.57L460.05,720.75L460.30,721.94L460.55,723.12L460.80,724.31L461.05,725.50L461.30,726.69L461.55,727.89L461.80,729.08L462.05,730.28L462.30,731.47L462.55,732.67L462.80,733.87L463.05,735.07L463.30,736.27L463.55,737.47L463.80,738.68L464.05,739.88L464.30,741.08L464.55,742.29L464.80,743.50L465.05,744.70L465.30,745.91L465.55,747.12L465.80,748.33L466.05,749.54L466.30,750.75L466.55,751.96L466.80,753.17L467.05,754.38L467.30,755.59L467.55,756.80L467.80,758.01L468.05,759.22L468.30,760.43L468.55,761.64L468.80,762.85L469.05,764.06L469.30,765.27L469.55,766.49L469.80,767.70L470.05,768.90L470.30,770.11L470.55,771.32L470.80,772.53L471.05,773.74L471.30,774.94L471.55,776.15L471.80,777.36L472.05,778.56L472.30,779.77L472.55,780.97L472.80,782.17L473.05,783.37L473.30,784.57L473.55,785.77L473.80,786.97L474.05,788.16L474.30,789.36L474.55,790.55L474.80,791.75L475.05,792.94L475.30,794.13L475.55,795.31L475.80,796.50L476.05,797.69L476.30,798.87L476.55,800.05L476.80,801.23L477.05,802.41L477.30,803.59L477.55,804.76L477.80,805.93L478.05,807.10L478.30,808.27L478.55,809.44L478.80,810.60L479.05,811.76L479.30,812.93L479.55,814.08L479.80,815.24L480.05,816.39L480.30,817.55L480.55,818.70L480.80,819.84L481.05,820.99L481.30,822.13L481.55,823.27L481.80,824.41L482.05,825.55L482.30,826.68L482.55,827.81L482.80,828.94L483.05,830.07L483.30,831.19L483.55,832.31L483.80,833.43L484.05,834.55L484.30,835.66L484.55,836.77L484.80,837.88L485.05,838.99L485.30,840.09L485.55,841.19L485.80,842.29L486.05,843.38L486.30,844.47L486.55,845.56L486.80,846.64L487.05,847.73L487.30,848.81L487.55,849.88L487.80,850.96L488.05,852.03L488.30,853.10L488.55,854.16L488.80,855.22L489.05,856.28L489.30,857.34L489.55,858.39L489.80,859.44L490.05,860.48L490.30,861.52L490.55,862.56L490.80,863.60L491.05,864.63L491.30,865.66L491.55,866.68L491.80,867.70L492.05,868.72L492.30,869.74L492.55,870.75L492.80,871.75L493.05,872.76L493.30,873.76L493.55,874.75L493.80,875.75L494.05,876.73L494.30,877.72L494.55,878.70L494.80,879.68L495.05,880.65L495.30,881.62L495.55,882.59L495.80,883.55L496.05,884.51L496.30,885.46L496.55,886.41L496.80,887.36L497.05,888.30L497.30,889.24L497.55,890.17L497.80,891.10L498.05,892.02L498.30,892.95L498.55,893.86L498.80,894.77L499.05,895.68L499.30,896.59L499.55,897.49L499.80,898.38L500.05,899.27L500.30,900.16L500.55,901.04L500.80,901.92L501.05,902.79L501.30,903.66L501.55,904.52L501.80,905.38L502.05,906.23L502.30,907.08L502.55,907.93L502.80,908.77L503.05,909.60L503.30,910.43L503.55,911.26L503.80,912.08L504.05,912.89L504.30,913.71L504.55,914.51L504.80,915.31L505.05,916.11L505.30,916.90L505.55,917.69L505.80,918.47L506.05,919.24L506.30,920.01L506.55,920.78L506.80,921.54L507.05,922.29L507.30,923.04L507.55,923.79L507.80,924.53L508.05,925.26L508.30,925.99L508.55,926.71L508.80,927.43L509.05,928.14L509.30,928.85L509.55,929.55L509.80,930.25L510.05,930.94L510.30,931.63L510.55,932.31L510.80,932.98L511.05,933.65L511.30,934.32L511.55,934.97L511.80,935.63L512.05,936.27L512.30,936.92L512.55,937.55L512.80,938.18L513.05,938.81L513.30,939.43L513.55,940.04L513.80,940.65L514.05,941.25L514.30,941.85L514.55,942.44L514.80,943.02L515.05,943.60L515.30,944.18L515.55,944.74L515.80,945.31L516.05,945.86L516.30,946.41L516.55,946.96L516.80,947.50L517.05,948.03L517.30,948.56L517.55,949.08L517.80,949.59L518.05,950.10L518.30,950.61L518.55,951.10L518.80,951.60L519.05,952.08L519.30,952.56L519.55,953.03L519.80,953.50L520.05,953.96L520.30,954.42L520.55,954.87L520.80,955.31L521.05,955.75L521.30,956.18L521.55,956.60L521.80,957.02L522.05,957.44L522.30,957.84L522.55,958.24L522.80,958.64L523.05,959.02L523.30,959.41L523.55,959.78L523.80,960.15L524.05,960.51L524.30,960.87L524.55,961.22L524.80,961.56L525.05,961.90L525.30,962.23L525.55,962.55L525.80,962.87L526.05,963.18L526.30,963.49L526.55,963.79L526.80,964.08L527.05,964.37L527.30,964.65L527.55,964.92L527.80,965.18L528.05,965.44L528.30,965.70L528.55,965.94L528.80,966.18L529.05,966.42L529.30,966.64L529.55,966.86L529.80,967.08L530.05,967.28L530.30,967.48L530.55,967.68L530.80,967.86L531.05,968.04L531.30,968.22L531.55,968.38L531.80,968.54L532.05,968.70L532.30,968.84L532.55,968.98L532.80,969.11L533.05,969.24L533.30,969.36L533.55,969.47L533.80,969.57L534.05,969.67L534.30,969.76L534.55,969.85L534.80,969.92L535.05,969.99L535.30,970.06L535.55,970.11L535.80,970.16L536.05,970.20L536.30,970.24L536.55,970.26L536.80,970.28L537.05,970.30L537.30,970.30L537.55,970.30L537.80,970.30L538.05,970.28L538.30,970.26L538.55,970.23L538.80,970.19L539.05,970.15L539.30,970.10L539.55,970.04L539.80,969.97L540.05,969.90L540.30,969.82L540.55,969.73L540.80,969.63L541.05,969.53L541.30,969.42L541.55,969.30L541.80,969.18L542.05,969.05L542.30,968.91L542.55,968.76L542.80,968.61L543.05,968.44L543.30,968.27L543.55,968.10L543.80,967.91L544.05,967.72L544.30,967.52L544.55,967.31L544.80,967.10L545.05,966.87L545.30,966.64L545.55,966.41L545.80,966.16L546.05,965.91L546.30,965.65L546.55,965.38L546.80,965.10L547.05,964.82L547.30,964.52L547.55,964.23L547.80,963.92L548.05,963.60L548.30,963.28L548.55,962.95L548.80,962.61L549.05,962.26L549.30,961.91L549.55,961.55L549.80,961.17L550.05,960.80L550.30,960.41L550.55,960.02L550.80,959.62L551.05,959.21L551.30,958.79L551.55,958.37L551.80,957.93L552.05,957.49L552.30,957.05L552.55,956.59L552.80,956.13L553.05,955.66L553.30,955.19L553.55,954.70L553.80,954.21L554.05,953.72L554.30,953.21L554.55,952.70L554.80,952.18L555.05,951.65L555.30,951.12L555.55,950.58L555.80,950.03L556.05,949.48L556.30,948.92L556.55,948.35L556.80,947.77L557.05,947.19L557.30,946.61L557.55,946.01L557.80,945.41L558.05,944.80L558.30,944.19L558.55,943.57L558.80,942.94L559.05,942.30L559.30,941.66L559.55,941.02L559.80,940.36L560.05,939.71L560.30,939.04L560.55,938.37L560.80,937.69L561.05,937.01L561.30,936.32L561.55,935.62L561.80,934.92L562.05,934.21L562.30,933.50L562.55,932.78L562.80,932.05L563.05,931.32L563.30,930.58L563.55,929.84L563.80,929.09L564.05,928.33L564.30,927.57L564.55,926.81L564.80,926.04L565.05,925.26L565.30,924.48L565.55,923.69L565.80,922.90L566.05,922.10L566.30,921.29L566.55,920.48L566.80,919.67L567.05,918.85L567.30,918.02L567.55,917.19L567.80,916.36L568.05,915.52L568.30,914.67L568.55,913.82L568.80,912.97L569.05,912.11L569.30,911.24L569.55,910.37L569.80,909.50L570.05,908.62L570.30,907.73L570.55,906.85L570.80,905.95L571.05,905.05L571.30,904.15L571.55,903.24L571.80,902.33L572.05,901.42L572.30,900.50L572.55,899.57L572.80,898.64L573.05,897.71L573.30,896.77L573.55,895.83L573.80,894.88L574.05,893.93L574.30,892.98L574.55,892.02L574.80,891.06L575.05,890.09L575.30,889.12L575.55,888.14L575.80,887.16L576.05,886.18L576.30,885.20L576.55,884.21L576.80,883.21L577.05,882.22L577.30,881.21L577.55,880.21L577.80,879.20L578.05,878.19L578.30,877.17L578.55,876.16L578.80,875.13L579.05,874.11L579.30,873.08L579.55,872.05L579.80,871.01L580.05,869.97L580.30,868.93L580.55,867.89L580.80,866.84L581.05,865.79L581.30,864.73L581.55,863.67L581.80,862.61L582.05,861.55L582.30,860.48L582.55,859.41L582.80,858.34L583.05,857.27L583.30,856.19L583.55,855.11L583.80,854.03L584.05,852.94L584.30,851.85L584.55,850.76L584.80,849.67L585.05,848.57L585.30,847.48L585.55,846.38L585.80,845.27L586.05,844.17L586.30,843.06L586.55,841.95L586.80,840.84L587.05,839.73L587.30,838.61L587.55,837.49L587.80,836.37L588.05,835.25L588.30,834.12L588.55,833.00L588.80,831.87L589.05,830.74L589.30,829.61L589.55,828.47L589.80,827.34L590.05,826.20L590.30,825.06L590.55,823.92L590.80,822.78L591.05,821.63L591.30,820.49L591.55,819.34L591.80,818.19L592.05,817.04L592.30,815.89L592.55,814.74L592.80,813.59L593.05,812.43L593.30,811.27L593.55,810.12L593.80,808.96L594.05,807.80L594.30,806.64L594.55,805.47L594.80,804.31L595.05,803.15L595.30,801.98L595.55,800.82L595.80,799.65L596.05,798.48L596.30,797.31L596.55,796.14L596.80,794.97L597.05,793.80L597.30,792.63L597.55,791.46L597.80,790.29L598.05,789.11L598.30,787.94L598.55,786.76L598.80,785.59L599.05,784.41L599.30,783.24L599.55,782.06L599.80,780.89L600.05,779.71L600.30,778.53L600.55,777.35L600.80,776.18L601.05,775.00L601.30,773.82L601.55,772.65L601.80,771.47L602.05,770.29L602.30,769.11L602.55,767.94L602.80,766.76L603.05,765.58L603.30,764.40L603.55,763.23L603.80,762.05L604.05,760.88L604.30,759.70L604.55,758.52L604.80,757.35L605.05,756.18L605.30,755.00L605.55,753.83L605.80,752.66L606.05,751.48L606.30,750.31L606.55,749.14L606.80,747.97L607.05,746.80L607.30,745.63L607.55,744.46L607.80,743.30L608.05,742.13L608.30,740.97L608.55,739.80L608.80,738.64L609.05,737.48L609.30,736.32L609.55,735.16L609.80,734.00L610.05,732.84L610.30,731.68L610.55,730.53L610.80,729.37L611.05,728.22L611.30,727.07L611.55,725.92L611.80,724.77L612.05,723.62L612.30,722.48L612.55,721.34L612.80,720.19L613.05,719.05L613.30,717.91L613.55,716.78L613.80,715.64L614.05,714.51L614.30,713.37L614.55,712.24L614.80,711.12L615.05,709.99L615.30,708.87L615.55,707.74L615.80,706.62L616.05,705.50L616.30,704.39L616.55,703.27L616.80,702.16L617.05,701.05L617.30,699.95L617.55,698.84L617.80,697.74L618.05,696.64L618.30,695.54L618.55,694.44L618.80,693.35L619.05,692.26L619.30,691.17L619.55,690.09L619.80,689.00L620.05,687.92L620.30,686.84L620.55,685.77L620.80,684.70L621.05,683.63L621.30,682.56L621.55,681.50L621.80,680.44L622.05,679.38L622.30,678.32L622.55,677.27L622.80,676.22L623.05,675.18L623.30,674.13L623.55,673.09L623.80,672.06L624.05,671.02L624.30,669.99L624.55,668.97L624.80,667.94L625.05,666.92L625.30,665.91L625.55,664.89L625.80,663.89L626.05,662.88L626.30,661.88L626.55,660.88L626.80,659.88L627.05,658.89L627.30,657.90L627.55,656.92L627.80,655.94L628.05,654.96L628.30,653.99L628.55,653.02L628.80,652.05L629.05,651.09L629.30,650.14L629.55,649.18L629.80,648.23L630.05,647.29L630.30,646.35L630.55,645.41L630.80,644.48L631.05,643.55L631.30,642.63L631.55,641.71L631.80,640.79L632.05,639.88L632.30,638.98L632.55,638.07L632.80,637.18L633.05,636.28L633.30,635.40L633.55,634.51L633.80,633.63L634.05,632.76L634.30,631.89L634.55,631.02L634.80,630.16L635.05,629.31L635.30,628.46L635.55,627.61L635.80,626.77L636.05,625.94L636.30,625.11L636.55,624.28L636.80,623.46L637.05,622.64L637.30,621.83L637.55,621.03L637.80,620.23L638.05,619.43L638.30,618.64L638.55,617.86L638.80,617.08L639.05,616.30L639.30,615.53L639.55,614.77L639.80,614.01L640.05,613.26L640.30,612.51L640.55,611.77L640.80,611.03L641.05,610.30L641.30,609.57L641.55,608.85L641.80,608.14L642.05,607.43L642.30,606.73L642.55,606.03L642.80,605.34L643.05,604.65L643.30,603.97L643.55,603.30L643.80,602.63L644.05,601.96L644.30,601.31L644.55,600.66L644.80,600.01L645.05,599.37L645.30,598.74L645.55,598.11L645.80,597.49L646.05,596.88L646.30,596.27L646.55,595.66L646.80,595.07L647.05,594.48L647.30,593.89L647.55,593.31L647.80,592.74L648.05,592.18L648.30,591.62L648.55,591.07L648.80,590.52L649.05,589.98L649.30,589.45L649.55,588.92L649.80,588.40L650.05,587.89L650.30,587.38L650.55,586.88L650.80,586.39L651.05,585.90L651.30,585.42L651.55,584.95L651.80,584.48L652.05,584.02L652.30,583.57L652.55,583.12L652.80,582.68L653.05,582.25L653.30,581.82L653.55,581.40L653.80,580.99L654.05,580.59L654.30,580.19L654.55,579.80L654.80,579.42L655.05,579.04L655.30,578.67L655.55,578.31L655.80,577.95L656.05,577.61L656.30,577.27L656.55,576.93L656.80,576.61L657.05,576.29L657.30,575.98L657.55,575.68L657.80,575.38L658.05,575.09L658.30,574.81L658.55,574.54L658.80,574.27L659.05,574.01L659.30,573.76L659.55,573.51L659.80,573.27L660.05,573.04L660.30,572.82L660.55,572.60L660.80,572.39L661.05,572.19L661.30,571.99L661.55,571.81L661.80,571.63L662.05,571.45L662.30,571.28L662.55,571.13L662.80,570.97L663.05,570.83L663.30,570.69L663.55,570.56L663.80,570.43L664.05,570.32L664.30,570.21L664.55,570.10L664.80,570.01L665.05,569.92L665.30,569.84L665.55,569.76L665.80,569.69L666.05,569.63L666.30,569.58L666.55,569.53L666.80,569.49L667.05,569.45L667.30,569.43L667.55,569.41L667.80,569.40L668.05,569.39L668.30,569.39L668.55,569.40L668.80,569.41L669.05,569.43L669.30,569.46L669.55,569.50L669.80,569.54L670.05,569.59L670.30,569.64L670.55,569.70L670.80,569.77L671.05,569.85L671.30,569.93L671.55,570.02L671.80,570.12L672.05,570.22L672.30,570.33L672.55,570.44L672.80,570.57L673.05,570.70L673.30,570.83L673.55,570.98L673.80,571.12L674.05,571.28L674.30,571.44L674.55,571.61L674.80,571.79L675.05,571.97L675.30,572.16L675.55,572.35L675.80,572.56L676.05,572.77L676.30,572.98L676.55,573.20L676.80,573.43L677.05,573.66L677.30,573.91L677.55,574.15L677.80,574.41L678.05,574.67L678.30,574.94L678.55,575.21L678.80,575.49L679.05,575.77L679.30,576.07L679.55,576.37L679.80,576.67L680.05,576.98L680.30,577.30L680.55,577.62L680.80,577.95L681.05,578.29L681.30,578.63L681.55,578.98L681.80,579.34L682.05,579.70L682.30,580.06L682.55,580.44L682.80,580.82L683.05,581.20L683.30,581.59L683.55,581.99L683.80,582.40L684.05,582.81L684.30,583.22L684.55,583.64L684.80,584.07L685.05,584.51L685.30,584.95L685.55,585.39L685.80,585.84L686.05,586.30L686.30,586.76L686.55,587.23L686.80,587.71L687.05,588.19L687.30,588.68L687.55,589.17L687.80,589.67L688.05,590.17L688.30,590.68L688.55,591.20L688.80,591.72L689.05,592.24L689.30,592.78L689.55,593.31L689.80,593.86L690.05,594.41L690.30,594.96L690.55,595.52L690.80,596.09L691.05,596.66L691.30,597.24L691.55,597.82L691.80,598.41L692.05,599.01L692.30,599.60L692.55,600.21L692.80,600.82L693.05,601.44L693.30,602.06L693.55,602.68L693.80,603.32L694.05,603.95L694.30,604.60L694.55,605.24L694.80,605.90L695.05,606.56L695.30,607.22L695.55,607.89L695.80,608.56L696.05,609.24L696.30,609.93L696.55,610.62L696.80,611.31L697.05,612.01L697.30,612.72L697.55,613.43L697.80,614.15L698.05,614.87L698.30,615.59L698.55,616.32L698.80,617.06L699.05,617.80L699.30,618.55L699.55,619.30L699.80,620.05L700.05,620.82L700.30,621.58L700.55,622.35L700.80,623.13L701.05,623.91L701.30,624.69L701.55,625.49L701.80,626.28L702.05,627.08L702.30,627.89L702.55,628.70L702.80,629.51L703.05,630.33L703.30,631.15L703.55,631.98L703.80,632.82L704.05,633.65L704.30,634.50L704.55,635.34L704.80,636.20L705.05,637.05L705.30,637.92L705.55,638.78L705.80,639.65L706.05,640.53L706.30,641.41L706.55,642.29L706.80,643.18L707.05,644.07L707.30,644.97L707.55,645.87L707.80,646.78L708.05,647.69L708.30,648.61L708.55,649.53L708.80,650.45L709.05,651.38L709.30,652.31L709.55,653.25L709.80,654.19L710.05,655.14L710.30,656.09L710.55,657.04L710.80,658.00L711.05,658.96L711.30,659.93L711.55,660.90L711.80,661.88L712.05,662.86L712.30,663.84L712.55,664.83L712.80,665.82L713.05,666.82L713.30,667.82L713.55,668.82L713.80,669.83L714.05,670.84L714.30,671.86L714.55,672.88L714.80,673.90L715.05,674.93L715.30,675.96L715.55,677.00L715.80,678.04L716.05,679.08L716.30,680.13L716.55,681.18L716.80,682.24L717.05,683.30L717.30,684.36L717.55,685.43L717.80,686.50L718.05,687.57L718.30,688.65L718.55,689.73L718.80,690.82L719.05,691.91L719.30,693.00L719.55,694.10L719.80,695.20L720.05,696.30L720.30,697.41L720.55,698.52L720.80,699.64L721.05,700.76L721.30,701.88L721.55,703.00L721.80,704.13L722.05,705.26L722.30,706.40L722.55,707.54L722.80,708.68L723.05,709.82L723.30,710.97L723.55,712.12L723.80,713.28L724.05,714.43L724.30,715.59L724.55,716.76L724.80,717.92L725.05,719.09L725.30,720.27L725.55,721.44L725.80,722.62L726.05,723.80L726.30,724.98L726.55,726.17L726.80,727.36L727.05,728.55L727.30,729.75L727.55,730.94L727.80,732.14L728.05,733.34L728.30,734.55L728.55,735.76L728.80,736.97L729.05,738.18L729.30,739.39L729.55,740.61L729.80,741.83L730.05,743.05L730.30,744.27L730.55,745.50L730.80,746.73L731.05,747.96L731.30,749.19L731.55,750.42L731.80,751.66L732.05,752.90L732.30,754.14L732.55,755.38L732.80,756.63L733.05,757.87L733.30,759.12L733.55,760.37L733.80,761.62L734.05,762.88L734.30,764.13L734.55,765.39L734.80,766.65L735.05,767.91L735.30,769.17L735.55,770.43L735.80,771.70L736.05,772.96L736.30,774.23L736.55,775.50L736.80,776.77L737.05,778.04L737.30,779.31L737.55,780.59L737.80,781.86L738.05,783.14L738.30,784.42L738.55,785.70L738.80,786.98L739.05,788.26L739.30,789.54L739.55,790.83L739.80,792.11L740.05,793.40L740.30,794.68L740.55,795.97L740.80,797.26L741.05,798.55L741.30,799.84L741.55,801.13L741.80,802.42L742.05,803.71L742.30,805.00L742.55,806.30L742.80,807.59L743.05,808.89L743.30,810.18L743.55,811.48L743.80,812.77L744.05,814.07L744.30,815.36L744.55,816.66L744.80,817.96L745.05,819.26L745.30,820.55L745.55,821.85L745.80,823.15L746.05,824.45L746.30,825.75L746.55,827.05L746.80,828.35L747.05,829.64L747.30,830.94L747.55,832.24L747.80,833.54L748.05,834.84L748.30,836.14L748.55,837.44L748.80,838.73L749.05,840.03L749.30,841.33L749.55,842.63L749.80,843.92" stroke="#0a0a0a" stroke-width="3.6"/>
</g>
<rect x="632.0" y="81.6" width="237.4" height="136.4" fill="#000" opacity="0.07" filter="url(#sh2)"/><rect x="628.0" y="77.1" width="237.4" height="136.4" fill="#000" opacity="0.62" filter="url(#sh)"/><rect x="608.0" y="59.6" width="237.4" height="136.4" fill="#fff"/><line x1="621.4" y1="98.1" x2="671.7" y2="98.1" stroke="#7f8990" stroke-width="2.7"/><line x1="621.4" y1="160.8" x2="671.7" y2="160.8" stroke="#1e1e1e" stroke-width="4.2"/><text transform="translate(687.50,105.40) scale(0.905,1)" font-size="37.0" text-anchor="start" fill="#0d0d12" stroke="#0d0d12" stroke-width="0.61">Gaussian</text><text transform="translate(687.00,168.80) scale(0.915,1)" font-size="37.0" text-anchor="start" fill="#0d0d12" stroke="#0d0d12" stroke-width="0.60">Bessel</text>
<rect x="632.0" y="830.0" width="237.4" height="136.4" fill="#000" opacity="0.07" filter="url(#sh2)"/><rect x="628.0" y="825.5" width="237.4" height="136.4" fill="#000" opacity="0.62" filter="url(#sh)"/><rect x="608.0" y="808.0" width="237.4" height="136.4" fill="#fff"/><line x1="621.4" y1="846.5" x2="671.7" y2="846.5" stroke="#7f8990" stroke-width="2.7"/><line x1="621.4" y1="909.2" x2="671.7" y2="909.2" stroke="#1e1e1e" stroke-width="4.2"/><text transform="translate(687.50,853.80) scale(0.905,1)" font-size="37.0" text-anchor="start" fill="#0d0d12" stroke="#0d0d12" stroke-width="0.61">Gaussian</text><text transform="translate(687.00,917.20) scale(0.915,1)" font-size="37.0" text-anchor="start" fill="#0d0d12" stroke="#0d0d12" stroke-width="0.60">Bessel</text>
<rect x="0" y="973.2" width="746.6" height="83" fill="#fff"/>
<text transform="translate(1.20,27.30) scale(0.860,1)" font-size="31.5" text-anchor="start" fill="#141414" stroke="#141414" stroke-width="0.64">a<tspan font-size="33" dx="1.5" dy="-2.2">)</tspan></text>
<text transform="translate(123.00,110.89) scale(0.835,1)" font-size="29.5" text-anchor="end" fill="#141414" stroke="#141414" stroke-width="0.66">0.20</text>
<text transform="translate(123.00,187.20) scale(0.835,1)" font-size="29.5" text-anchor="end" fill="#141414" stroke="#141414" stroke-width="0.66">0.10</text>
<text transform="translate(123.00,263.51) scale(0.835,1)" font-size="29.5" text-anchor="end" fill="#141414" stroke="#141414" stroke-width="0.66">0.05</text>
<text transform="translate(123.00,364.39) scale(0.835,1)" font-size="29.5" text-anchor="end" fill="#141414" stroke="#141414" stroke-width="0.66">0.02</text>
<text transform="translate(123.00,440.70) scale(0.835,1)" font-size="29.5" text-anchor="end" fill="#141414" stroke="#141414" stroke-width="0.66">0.01</text>
<text transform="translate(145.00,464.60) scale(0.860,1)" font-size="29.5" text-anchor="middle" fill="#141414" stroke="#141414" stroke-width="0.64">0.0</text>
<text transform="translate(301.58,464.60) scale(0.860,1)" font-size="29.5" text-anchor="middle" fill="#141414" stroke="#141414" stroke-width="0.64">0.2</text>
<text transform="translate(458.16,464.60) scale(0.860,1)" font-size="29.5" text-anchor="middle" fill="#141414" stroke="#141414" stroke-width="0.64">0.4</text>
<text transform="translate(614.74,464.60) scale(0.860,1)" font-size="29.5" text-anchor="middle" fill="#141414" stroke="#141414" stroke-width="0.64">0.6</text>
<text transform="translate(771.32,464.60) scale(0.860,1)" font-size="29.5" text-anchor="middle" fill="#141414" stroke="#141414" stroke-width="0.64">0.8</text>
<text transform="translate(458.60,507.30) scale(0.950,1)" font-size="33.0" text-anchor="middle" fill="#141414" stroke="#141414" stroke-width="0.58" letter-spacing="-1.6">time (ns)</text>
<text transform="translate(56.3,235.6) rotate(-90) scale(0.955,1)" font-size="33" text-anchor="middle" fill="#141414" stroke="#141414" stroke-width="0.55">Density(<tspan font-style="italic">d</tspan><tspan font-size="22" dy="6">0</tspan><tspan dy="-6">)</tspan></text>
<text transform="translate(1.80,531.60) scale(0.950,1)" font-size="35.0" text-anchor="start" fill="#141414" stroke="#141414" stroke-width="0.58">b<tspan font-size="31" dx="1.2" dy="-1.8">)</tspan></text>
<text transform="translate(118.50,980.30) scale(0.835,1)" font-size="29.5" text-anchor="end" fill="#141414" stroke="#141414" stroke-width="0.66">0</text>
<text transform="translate(118.50,897.90) scale(0.835,1)" font-size="29.5" text-anchor="end" fill="#141414" stroke="#141414" stroke-width="0.66">20</text>
<text transform="translate(118.50,815.50) scale(0.835,1)" font-size="29.5" text-anchor="end" fill="#141414" stroke="#141414" stroke-width="0.66">40</text>
<text transform="translate(118.50,733.10) scale(0.835,1)" font-size="29.5" text-anchor="end" fill="#141414" stroke="#141414" stroke-width="0.66">60</text>
<text transform="translate(118.50,650.70) scale(0.835,1)" font-size="29.5" text-anchor="end" fill="#141414" stroke="#141414" stroke-width="0.66">80</text>
<text transform="translate(115.20,568.30) scale(0.790,1)" font-size="29.5" text-anchor="end" fill="#141414" stroke="#141414" stroke-width="0.70">100</text>
<text transform="translate(138.00,1000.20) scale(0.860,1)" font-size="29.5" text-anchor="middle" fill="#141414" stroke="#141414" stroke-width="0.64">0.0</text>
<text transform="translate(326.10,1000.20) scale(0.860,1)" font-size="29.5" text-anchor="middle" fill="#141414" stroke="#141414" stroke-width="0.64">0.5</text>
<text transform="translate(514.20,1000.20) scale(0.860,1)" font-size="29.5" text-anchor="middle" fill="#141414" stroke="#141414" stroke-width="0.64">1.0</text>
<text transform="translate(702.30,1000.20) scale(0.860,1)" font-size="29.5" text-anchor="middle" fill="#141414" stroke="#141414" stroke-width="0.64">1.5</text>
<text transform="translate(458.70,1042.50) scale(0.950,1)" font-size="33.0" text-anchor="middle" fill="#141414" stroke="#141414" stroke-width="0.58" letter-spacing="-1.6">time (ns)</text>
<text transform="translate(56.70,765.30) rotate(-90) scale(0.925,1)" font-size="33.0" text-anchor="middle" fill="#141414" stroke="#141414" stroke-width="0.59">Polarization(%)</text>
</svg>
</body></html>
